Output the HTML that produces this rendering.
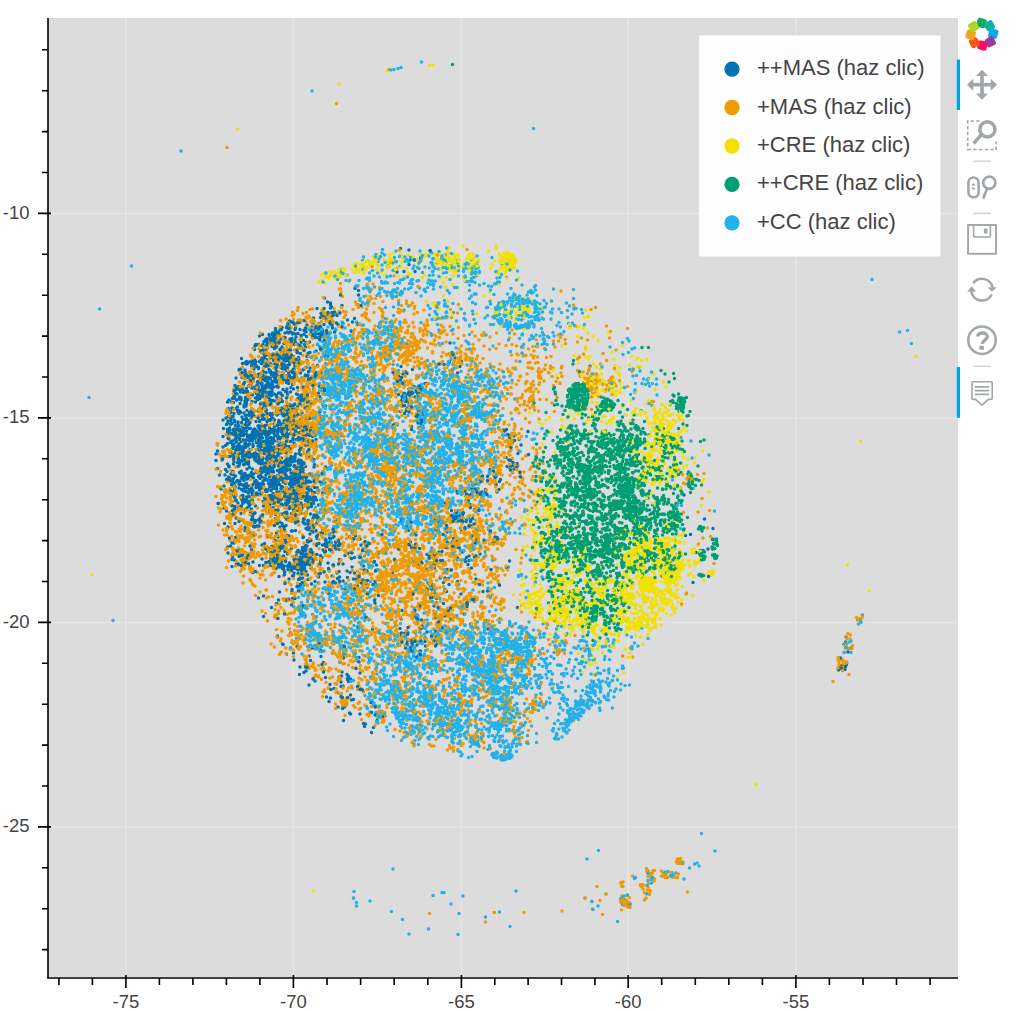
<!DOCTYPE html><html><head><meta charset="utf-8"><style>html,body{margin:0;padding:0;background:#fff;width:1024px;height:1012px;overflow:hidden}svg{display:block;font-family:"Liberation Sans",sans-serif}</style></head><body><svg width="1024" height="1012" viewBox="0 0 1024 1012"><rect x="48" y="18" width="910" height="959" fill="#dcdcdc"/><path d="M125.9 18V977M293.4 18V977M461.4 18V977M628.2 18V977M795.9 18V977M48 213.4H958M48 417.9H958M48 622.4H958M48 826.9H958" stroke="#e5e5e5" stroke-width="1.5" fill="none"/><g fill="none" stroke-width="7.0" stroke-linecap="round" transform="scale(0.5)"><path d="M801 497h0m19 23h0m-12 23h0m-147 63h0m0 4h0m23 1h0m-20 22h0m-15-2h0m-3 4h0m-19 1h0m-63 19h0m15-3h0m0-10h0m15 4h0m6-3h0m14 7h0m21 4h0m13-5h0m11-6h0m4 5h0m2 8h0m30-16h0m-49 26h0m-3-1h0m-1 2h0m-6 0h0m-10-2h0m-1 4h0m-3-2h0m-1-7h0m-9 4h0m-35 1h0m0 1h0m-2-2h0m-5 2h0m-17 2h0m-1 1h0m-7-3h0m-20 3h0m6 11h0m8-5h0m6 12h0m0-2h0m2-9h0m2 1h0m1 3h0m8 3h0m10 4h0m24-13h0m42 1h0m12-2h0m3 21h0m-14-5h0m-3 13h0m-21-8h0m-7 3h0m0-1h0m-53-6h0m-27 13h0m-2-1h0m-12-10h0m-1 7h0m-26 18h0m41-1h0m17 0h0m6-8h0m2 5h0m5-4h0m0 11h0m1-4h0m1 1h0m10-8h0m6 11h0m0-11h0m2 1h0m82 2h0m248-7h0m6 11h0m13 7h0m-309-2h0m-16 8h0m-4 2h0m-15-2h0m-13-3h0m-25 4h0m-7 0h0m-5 3h0m-8-9h0m-8 9h0m-7 2h0m-11-8h0m-10 0h0m-3 11h0m12 10h0m21 2h0m11-7h0m0 7h0m6-5h0m8 0h0m8 1h0m16-9h0m0 14h0m1-14h0m2 0h0m2 1h0m6-2h0m12 2h0m1 6h0m1-4h0m12 6h0m7-8h0m3 12h0m9-8h0m32 1h0m0 3h0m234-1h0m-77 18h0m-6-8h0m-6-3h0m-173 4h0m-17 4h0m-21-3h0m-9-3h0m-5-2h0m-1 4h0m-4 2h0m-3-5h0m-9 13h0m-5-11h0m-2-1h0m-4 9h0m-3-6h0m-4 0h0m-1 8h0m-9-9h0m-7 7h0m-2 0h0m-2 0h0m-27 2h0m-5-10h0m-14 16h0m8 8h0m5 0h0m4-11h0m12 3h0m11 6h0m13-9h0m1 10h0m1-4h0m5 1h0m0-3h0m2 4h0m2-6h0m10 13h0m37 1h0m1-9h0m13 0h0m15 3h0m2-1h0m227-2h0m2 1h0m-6 11h0m-9-1h0m-10 2h0m-7-1h0m-5 6h0m-167-7h0m-26 7h0m-1-4h0m-8 2h0m-7-2h0m0 9h0m-2-10h0m-38 8h0m-12-6h0m-2-1h0m-1-2h0m-4 0h0m-3-1h0m-12 0h0m-6 13h0m0-6h0m-15-4h0m-19-5h0m-3 14h0m-16 6h0m2 12h0m11-2h0m15-13h0m2 3h0m0-3h0m12 2h0m7 1h0m29-4h0m6 1h0m4 1h0m5 3h0m4-1h0m4 12h0m10-1h0m42-2h0m36-1h0m153-8h0m14 2h0m16-5h0m3 22h0m0 7h0m-233-4h0m-14-4h0m-11 0h0m-4 4h0m-3-6h0m-3-3h0m-8 4h0m-15 6h0m-6 2h0m0-2h0m-9-5h0m-27-3h0m-1 4h0m-4 2h0m-3 5h0m-5 1h0m-10-6h0m-6-4h0m-3-4h0m-10 8h0m-7 21h0m4-12h0m3 3h0m2 10h0m2-14h0m4 11h0m16-5h0m33 4h0m15 0h0m12-6h0m2 11h0m1-8h0m18 8h0m3-8h0m3 6h0m10-3h0m4-6h0m1 7h0m12-3h0m25-5h0m217 12h0m171 11h0m-175-4h0m-15 4h0m-196-3h0m-20 5h0m-13-10h0m-18-2h0m-8 7h0m-4 4h0m-1-4h0m-6 1h0m-1 2h0m0 5h0m-1-1h0m-17 0h0m-5 1h0m-1-1h0m-2-4h0m-6 0h0m-3 4h0m-14-3h0m-15-4h0m-7-6h0m-1 3h0m-11 9h0m-2 0h0m-1-3h0m-9-10h0m-2 7h0m0 5h0m-3 3h0m0 12h0m5-9h0m15 11h0m7-7h0m4-7h0m10 11h0m2-4h0m3 2h0m3 5h0m2-8h0m4 6h0m1-4h0m4 7h0m2-12h0m2 11h0m0-6h0m2-3h0m1-5h0m10 11h0m1 1h0m1-9h0m4 0h0m1-2h0m6 12h0m0 2h0m10-2h0m7-2h0m2-1h0m2-3h0m6-5h0m14 2h0m6 11h0m7 1h0m16-15h0m16 14h0m396-7h0m-3 13h0m-2 0h0m-391 7h0m-21-12h0m-22 9h0m-1-3h0m-7-3h0m-22 2h0m-3-2h0m-11 4h0m-7-2h0m-1 3h0m-2-2h0m-13 0h0m-2-4h0m-4 10h0m-3-10h0m0 3h0m-16-4h0m-6 5h0m-1 0h0m-16 9h0m-1-11h0m-27 10h0m22 14h0m3-2h0m0-6h0m8-2h0m5 10h0m3-5h0m1 8h0m4-5h0m5 2h0m0-5h0m11 4h0m3 0h0m4 2h0m1-10h0m4 3h0m1 1h0m8-3h0m5 11h0m0-10h0m1 5h0m1 4h0m0-11h0m3 6h0m8-3h0m2 2h0m3-5h0m5 12h0m17-9h0m17 6h0m7-1h0m4-11h0m16 3h0m394 16h0m-384 4h0m-9-5h0m-14 11h0m-4 2h0m-3-1h0m-2-4h0m-6-6h0m-7 6h0m-1-9h0m-2 5h0m-1 2h0m-4 1h0m-4 6h0m-8-11h0m-3 9h0m-10-1h0m-4-7h0m-2 2h0m-2-3h0m-4-4h0m-2 13h0m-2-9h0m-14 8h0m-4-6h0m-10-5h0m-6-1h0m-8 10h0m-1 5h0m-6-5h0m0-8h0m-8 6h0m-1-5h0m-1 10h0m-31-12h0m0 7h0m-9 17h0m16 2h0m75-9h0m1 2h0m11 8h0m10-6h0m17 7h0m2-8h0m2 2h0m2 7h0m2-12h0m19 11h0m3-7h0m2 8h0m8 0h0m1-1h0m22-7h0m364 0h0m22-1h0m14 5h0m4-1h0m-7 8h0m-28 1h0m-7 3h0m-2 2h0m-354 1h0m-33-8h0m-2 1h0m-4 3h0m0 5h0m-2-7h0m-2 14h0m0-4h0m-7 0h0m-3 0h0m-10-8h0m-1 0h0m-18 6h0m-1 6h0m-12-6h0m-4 6h0m-13-14h0m-2-1h0m-3 8h0m-3-8h0m-16 6h0m-4 7h0m-4-11h0m0 8h0m-37 4h0m-5 13h0m11-10h0m9 7h0m3 5h0m4-13h0m5 1h0m9 13h0m4-8h0m13 2h0m6-8h0m1 9h0m4 5h0m2-6h0m1 4h0m6-10h0m14 7h0m0 3h0m0-12h0m5 0h0m2 7h0m1 3h0m4 4h0m1-5h0m3-1h0m7 4h0m16-5h0m2 3h0m2-6h0m0 2h0m5 1h0m1 1h0m14-5h0m9-1h0m4 1h0m1 10h0m4-10h0m350 21h0m0-6h0m-20 1h0m-1-2h0m-7 10h0m-296-10h0m-47 13h0m-13 1h0m-11-14h0m-10 2h0m-8 4h0m-5-6h0m-15 0h0m-4 5h0m-11-6h0m-4 12h0m-18-5h0m-17 7h0m-15-13h0m-2 5h0m-30 24h0m39-1h0m10 0h0m0 0h0m0 0h0m7-6h0m0 2h0m3 4h0m2-1h0m0-12h0m1 10h0m5-4h0m2-7h0m29 6h0m2 2h0m3-5h0m12-3h0m8 6h0m1 2h0m8-6h0m0-1h0m11 6h0m12 5h0m3-5h0m7-2h0m6-2h0m3 6h0m2-8h0m9 5h0m11 2h0m256 6h0m60 13h0m-9-10h0m-28 14h0m-9-2h0m-259 3h0m-7-14h0m-17 2h0m-10-2h0m-7 2h0m-5 5h0m-11 2h0m-2-7h0m-1 0h0m-4 1h0m-6-4h0m-28 6h0m-7-2h0m0 7h0m-12-8h0m-59 8h0m-20-4h0m34 11h0m27-1h0m30-2h0m32 11h0m3-3h0m28-6h0m6 12h0m13-10h0m19-3h0m231 13h0m37 1h0m8-5h0m9-3h0m7 12h0m-7 0h0m-4 13h0m-32-11h0m-69 9h0m-187-7h0m-17 1h0m-6 0h0m-14-5h0m-5 1h0m-6-3h0m-21 6h0m-4 7h0m-1-10h0m-3 0h0m-39 8h0m-4 0h0m-2-11h0m-4-1h0m-29 3h0m-8 4h0m105 24h0m37-14h0m29 9h0m19 2h0m169 0h0m101-10h0m23 8h0m418 5h0m-381 3h0m-76 9h0m-194-5h0m-49 6h0m-12-8h0m-2 10h0m-23-9h0m-12 4h0m-7 2h0m-43 3h0m-3-8h0m-13-4h0m-85 1h0m-7 11h0m39 13h0m28-3h0m1 1h0m4 5h0m1-5h0m22 4h0m3-9h0m10 6h0m8 2h0m28 1h0m2-3h0m4-6h0m19-1h0m16 13h0m3-11h0m11 9h0m4-10h0m3 3h0m2-5h0m6 1h0m54 0h0m42 7h0m49-4h0m16 3h0m77-2h0m28-5h0m462 11h0m-446 7h0m-27 7h0m-18 1h0m-37-12h0m-19 8h0m-159-7h0m-35 0h0m-15-1h0m-25 1h0m-1 13h0m-4-14h0m-13 6h0m-3 7h0m-43 0h0m-4-5h0m-3 8h0m-12-3h0m0-7h0m-52-5h0m-13 3h0m-13 11h0m0 14h0m20-1h0m2-6h0m11 1h0m43-1h0m1-4h0m4-2h0m6 1h0m10 12h0m4-1h0m2 3h0m4-12h0m8 10h0m2-1h0m6-3h0m4 3h0m1 2h0m2-4h0m2-3h0m2 4h0m5-1h0m4-1h0m1 2h0m3-3h0m75 0h0m18 6h0m22-12h0m1 10h0m21-7h0m42-4h0m141 2h0m-36 16h0m-45-2h0m-141 9h0m-35 0h0m-52-10h0m-7 14h0m-12-13h0m0 0h0m-1 2h0m-6 1h0m0-3h0m-8 9h0m-2-9h0m-1 15h0m-17-12h0m29 19h0m8-3h0m32-2h0m27-2h0m7 14h0m8-12h0m7 8h0m21-4h0m19 2h0m6 7h0m31-13h0m93 12h0m41-9h0m55 1h0m-54 11h0m-63 7h0m-101-1h0m-150 4h0m-67 17h0m68 1h0m35-13h0m137 7h0m70-7h0m27 5h0m11 6h0m57-7h0m27 10h0m86 17h0m-104-6h0m-44-2h0m-334 0h0m45 13h0m12 11h0m194-10h0m24 5h0m64-4h0m10 16h0m-23 4h0m-43 1h0m-102-7h0m138 28h0m69-16h0m-65 32h0m-4-9h0m-57-2h0m-5 5h0m-30 5h0m-199-13h0m-26 8h0m256 22h0m4-14h0m19 8h0m17 2h0m837-3h0m-870 14h0m-183-6h0m-17 15h0m-31-6h0m55 7h0m38 11h0m38-9h0m975 14h0m-3 10h0m-1091 10h0m52 6h0m27-1h0m25 7h0m-17 11h0m-4-8h0m-52-2h0m71 28h0m21-12h0m-19 22h0m-19-4h0m-31-2h0m48 34h0m28 25h0m18 2h0m-4 10h0" stroke="#0072b2"/><path d="M673 207h0m126 293h0m-18 25h0m175-2h0m-197 52h0m-44-2h0m110 33h0m-40-9h0m-45-4h0m-4 7h0m-25 4h0m-115 11h0m49 5h0m71-11h0m17 9h0m30 3h0m34-3h0m77-7h0m43-2h0m274 6h0m-299 21h0m-57-11h0m-36 0h0m-69 1h0m-6 5h0m-33-1h0m-28 7h0m-3-9h0m-7-2h0m-3 4h0m-44-3h0m-8 13h0m-22 5h0m6 11h0m19-11h0m11-1h0m52-3h0m1 10h0m32-1h0m27 1h0m15-10h0m50 14h0m0-11h0m12 10h0m25-9h0m22 4h0m7 1h0m153-1h0m247 8h0m-131 12h0m-161 1h0m-13 2h0m-44-4h0m-12 1h0m-38-6h0m-2 0h0m-3-5h0m-5 13h0m-6-14h0m-25 9h0m-19 6h0m-20-6h0m-25-5h0m-18 4h0m-73-1h0m-39-5h0m-9-1h0m-73 20h0m21 2h0m6-6h0m4 2h0m10 8h0m4 1h0m6 1h0m13-11h0m39-2h0m16 9h0m1 5h0m12-5h0m4 4h0m15-10h0m4 6h0m1-3h0m20-4h0m35-2h0m8 2h0m34 9h0m5 3h0m1-11h0m23 10h0m4 0h0m3-9h0m5 4h0m2 5h0m16-2h0m107-4h0m40 8h0m21-12h0m54 4h0m48-5h0m98 1h0m-130 21h0m-23-4h0m-120 4h0m-3 6h0m-72-13h0m-16 6h0m-40-3h0m-8 2h0m-3-3h0m-3 7h0m0-1h0m-1-1h0m-3-9h0m-5 2h0m-12 4h0m-6 5h0m0-6h0m-7 4h0m-55 2h0m-102-10h0m-8 7h0m-2 0h0m-19-3h0m-4 11h0m-40-15h0m-20 1h0m-16 20h0m16 3h0m8 6h0m10-9h0m11 2h0m2 4h0m2-6h0m13-3h0m18 6h0m0-5h0m13 12h0m4-2h0m8-7h0m8-3h0m42-1h0m16 5h0m17-2h0m23-3h0m41 7h0m3-9h0m5 9h0m4 0h0m8-9h0m5 4h0m19 0h0m8 1h0m0 2h0m1-3h0m3-3h0m1 3h0m13-1h0m11 7h0m49-2h0m15-6h0m10 4h0m13-6h0m0 13h0m11 2h0m1-6h0m1 0h0m11 3h0m123-5h0m7 2h0m27-1h0m56 2h0m43 13h0m-130-2h0m-10 10h0m-35 0h0m-26-8h0m-60-7h0m-27 12h0m-3 2h0m-1-13h0m-49 6h0m-8 2h0m-3 5h0m-9-10h0m-1 5h0m-9-6h0m-54-4h0m-4 14h0m-22-1h0m-17 0h0m-10-10h0m-2 8h0m-7-7h0m-21 3h0m0-6h0m-6 10h0m-2 5h0m-12-3h0m-2 3h0m-3-13h0m-11 4h0m-31 3h0m-13-8h0m-11 6h0m-34-4h0m-18 1h0m-16-5h0m-37 26h0m4 6h0m8-2h0m84 0h0m26-7h0m22 1h0m5-7h0m17 5h0m0 9h0m14-7h0m1-4h0m4 0h0m0 6h0m1 6h0m63-6h0m20-1h0m3-5h0m16-2h0m26 5h0m41 6h0m4-10h0m34 4h0m10 5h0m1-7h0m1 11h0m1-10h0m2 3h0m64 4h0m29-10h0m21 4h0m82-6h0m1 0h0m53 4h0m3 5h0m17 1h0m2-7h0m10 8h0m6 0h0m46 13h0m-14-7h0m-26 6h0m-16 2h0m-7-5h0m-1 4h0m-15-8h0m-48 10h0m-32-10h0m-3 0h0m-23 10h0m-1 0h0m-2 4h0m-43-13h0m-10 1h0m-38 3h0m-4 2h0m-34 6h0m-60-8h0m-28-3h0m-24-2h0m-12 5h0m-2 5h0m-2 0h0m-25-11h0m-25 1h0m-1 7h0m-4-4h0m-25 6h0m-1-4h0m-19 0h0m-14 5h0m-35-7h0m-18 5h0m-4 6h0m-4-6h0m-9-8h0m-1 2h0m-4 3h0m-5 5h0m-6-7h0m-6 1h0m0 0h0m-8 5h0m-4-3h0m-16 0h0m-2 8h0m-29-15h0m-2 3h0m-20 0h0m-3-1h0m-1 12h0m-35 14h0m17-6h0m29 8h0m92-2h0m16-10h0m18 11h0m15-6h0m14 0h0m58-3h0m38 9h0m19 2h0m9-4h0m14-11h0m26 7h0m8 2h0m65-8h0m69 15h0m58-15h0m18 13h0m4-2h0m2-2h0m50-7h0m84 3h0m1 7h0m19 1h0m12-2h0m32-7h0m-58 20h0m-12-7h0m-13 13h0m-113-2h0m-15-2h0m-31 3h0m-19-12h0m-12 0h0m-10 7h0m-23 1h0m-18 0h0m-41-4h0m-19-3h0m-7 10h0m-2 3h0m-39-7h0m-31 1h0m-38-8h0m-11 11h0m-1 1h0m-10-1h0m-7-11h0m-30 2h0m-48 0h0m-15 2h0m-18-5h0m-4 3h0m-28 9h0m0 3h0m-46-14h0m-5 4h0m-34 2h0m-3-5h0m-27 1h0m25 21h0m44-2h0m10 9h0m5-2h0m18-1h0m39-4h0m0-6h0m13-1h0m5 6h0m10-7h0m3 1h0m2 1h0m12-3h0m50 12h0m15-5h0m1 9h0m17-14h0m22 2h0m7-2h0m4 8h0m28-6h0m9 3h0m9 8h0m7-6h0m10-6h0m27 4h0m21-5h0m12-2h0m40 7h0m17-5h0m3 11h0m49-11h0m48 1h0m13-1h0m42 4h0m5 17h0m-32-1h0m-8-2h0m-31 6h0m-3-8h0m-38 4h0m-2 3h0m-57 3h0m-4-10h0m0 10h0m-12-8h0m-47-2h0m-6 6h0m-3-5h0m-10 11h0m-18-4h0m-12-10h0m-5 3h0m-31 4h0m-2-5h0m-21 12h0m-56-7h0m-4-5h0m-7 2h0m-3 9h0m-58-6h0m-14 5h0m-3 0h0m-4-11h0m-4 7h0m-11-2h0m-10-3h0m-2 6h0m-2 7h0m-1-6h0m-3-9h0m-2 5h0m-12 9h0m-1-2h0m-46-1h0m-7 3h0m-65-4h0m58 6h0m13 1h0m56 11h0m12 2h0m3-13h0m7 9h0m3 1h0m2-9h0m5 4h0m1-6h0m4 4h0m6 0h0m1 11h0m1-16h0m2 15h0m0-3h0m4-10h0m6 11h0m0-1h0m3-8h0m8 10h0m13-3h0m2-4h0m33 0h0m29 6h0m1-6h0m17 0h0m85 3h0m3-10h0m32 5h0m17 8h0m27-8h0m9 11h0m6-7h0m6 3h0m1-7h0m68 10h0m22 3h0m-12 9h0m-9-2h0m-62-6h0m-69 0h0m-77 5h0m-5-6h0m-8 2h0m-85-2h0m-1 11h0m-37 1h0m-18-1h0m-8-5h0m-25 6h0m-9-4h0m-3 2h0m-27-9h0m-36 3h0m-4-5h0m-38 1h0m-18 20h0m49-2h0m69 3h0m14 4h0m9-2h0m9 6h0m10-9h0m9-5h0m4 1h0m6 8h0m16-8h0m0 8h0m14-3h0m8-1h0m75-3h0m1 0h0m15 4h0m12-6h0m8 6h0m58 1h0m17 5h0m6-8h0m6 6h0m16-2h0m1-6h0m24 0h0m9 10h0m34 1h0m57-11h0m0 12h0m5-13h0m5 28h0m-15-8h0m-1 5h0m-12-1h0m-15-6h0m-47 8h0m-19-3h0m-21 3h0m-36-9h0m-4 13h0m-10-3h0m0 2h0m-3-1h0m-29 0h0m-7-1h0m-3-12h0m-15 13h0m-5 1h0m-3-1h0m-1-5h0m-33 5h0m0-5h0m-9 5h0m-114-3h0m-5-3h0m-11 3h0m-3 1h0m-12 0h0m-9-3h0m-14 4h0m-8-1h0m-32-1h0m-83-2h0m-16 19h0m26-3h0m13 3h0m15-3h0m36 1h0m25-7h0m4 11h0m23-6h0m4-6h0m44 0h0m16 13h0m29-12h0m0 0h0m2-1h0m38 10h0m5-4h0m22-6h0m7 13h0m2-12h0m4 7h0m8 3h0m0-1h0m52 2h0m6-5h0m3 2h0m15-10h0m0 10h0m0 0h0m46 3h0m109 2h0m15-7h0m12-2h0m35 8h0m26-15h0m-9 26h0m-63 2h0m-21 2h0m-6 0h0m-14-6h0m-12-4h0m-7 4h0m-22 3h0m-2 5h0m-9-7h0m-8 4h0m-3-2h0m-25-2h0m-5 0h0m-4-3h0m-19 4h0m-16 2h0m-43-9h0m-1 9h0m-1-9h0m-5 2h0m-12-2h0m-5-3h0m-1 2h0m-5 3h0m-19-1h0m-26 8h0m-36 1h0m-21-8h0m-1 7h0m-22-12h0m-14 9h0m-9-4h0m-6 7h0m-36-10h0m-5 10h0m-16-1h0m-9-10h0m-94 0h0m-2 4h0m-2 1h0m18 23h0m58-1h0m9-2h0m47-8h0m27 6h0m68-7h0m1 7h0m15 5h0m19-11h0m15 1h0m13 7h0m3-6h0m11 4h0m16-7h0m11 12h0m3-2h0m2-4h0m9 4h0m5 5h0m3-6h0m5-6h0m23 0h0m14-3h0m25 5h0m8 3h0m12-3h0m82-4h0m26 0h0m6 5h0m35 2h0m1 3h0m2-9h0m347 25h0m-319 4h0m-16-16h0m-60 6h0m-8-3h0m-2 13h0m-20-9h0m-1-5h0m-7 4h0m-4 3h0m-9-1h0m-31 1h0m-9-2h0m-2 9h0m-1-5h0m-20-9h0m-1 1h0m-1-2h0m-20 4h0m-14-2h0m-5 6h0m-27-3h0m0 0h0m-15 3h0m-2-4h0m-1 6h0m-3-2h0m-2-6h0m-3 4h0m-4-7h0m-3 0h0m-26 12h0m-2-3h0m-2-5h0m-6 3h0m-80 8h0m-21-2h0m-3-5h0m-9-5h0m-9 5h0m0 0h0m-22-6h0m-6 11h0m-46-6h0m-106 22h0m24-9h0m6 8h0m49-8h0m73 10h0m4-6h0m6 0h0m29 4h0m9 3h0m12-9h0m2-1h0m2 0h0m10-2h0m4 0h0m6 0h0m29 8h0m4 4h0m1-12h0m37 8h0m1-2h0m33-4h0m4 5h0m17-2h0m1-7h0m14 15h0m14-3h0m16 2h0m33-9h0m24 2h0m30-6h0m24 3h0m22-1h0m5 4h0m13-1h0m11 8h0m2-6h0m30 5h0m9-7h0m322-1h0m3 2h0m-311 13h0m-12 7h0m-18-8h0m-3 8h0m-33-6h0m-40 9h0m-5-8h0m-2 3h0m-4-7h0m-26 7h0m-66-3h0m-10 3h0m-25 5h0m-26-10h0m-5 8h0m-31-5h0m-107-6h0m-21 11h0m-18-7h0m-9-2h0m-1 11h0m-13-10h0m-11 8h0m-1-12h0m-4 10h0m-12 2h0m-3 2h0m-16 0h0m-15-2h0m-5 1h0m-3-2h0m-10-9h0m-34 7h0m-3 5h0m-9-6h0m-3-3h0m-1 2h0m-5-3h0m-17 12h0m12 10h0m7 2h0m19-3h0m63 4h0m21-6h0m1-6h0m4 10h0m8-8h0m3 3h0m6-2h0m4-3h0m6 10h0m37-3h0m23 7h0m39-9h0m2 8h0m2-11h0m13 6h0m20 0h0m13-3h0m9-3h0m33-3h0m17 0h0m3 11h0m20 1h0m4-8h0m0 2h0m2 9h0m1-2h0m7 1h0m45-6h0m27 4h0m60-13h0m18 16h0m23-8h0m14 7h0m378 17h0m-325-14h0m-91 0h0m-28 9h0m-2-7h0m-11 2h0m-14 5h0m-3-11h0m-23 6h0m-5 1h0m-17-6h0m-11 7h0m-8-1h0m-8-4h0m0 13h0m-8-6h0m-33 6h0m-14-1h0m-23-12h0m-1-3h0m-13 9h0m-8 4h0m-54-12h0m-34 10h0m-2-1h0m-7-9h0m-3 10h0m-1-3h0m-35-5h0m-9 0h0m-48 2h0m-15 7h0m-3-5h0m-8 2h0m-6 4h0m-25 0h0m-11 1h0m-6-2h0m-1-4h0m-6 3h0m-2 3h0m-32-4h0m-2 6h0m14 9h0m5-8h0m2 14h0m2-8h0m71-4h0m7 6h0m10-9h0m5 0h0m7 5h0m5 4h0m6 0h0m3 6h0m3 0h0m1-4h0m12-6h0m15-2h0m3 5h0m28 6h0m8-14h0m3 3h0m6 11h0m12-3h0m3-3h0m11-4h0m4 2h0m5-4h0m0 1h0m4 6h0m16 0h0m2 1h0m5-6h0m5 10h0m38-4h0m4 4h0m14-7h0m40-5h0m26 6h0m16-3h0m4 8h0m23-3h0m7 4h0m2-11h0m30 9h0m20-5h0m9-2h0m28 9h0m13 0h0m5-8h0m47 18h0m-34-2h0m-49 8h0m-10-2h0m-5-5h0m-38-3h0m-12 2h0m-6 8h0m-5-8h0m-15 9h0m-1-3h0m-22-4h0m-10-2h0m-58 9h0m-25 0h0m-5-3h0m-13-3h0m-45-2h0m-28-5h0m-43 14h0m-1-13h0m-69 4h0m-2-6h0m-9 9h0m-8-5h0m-33 0h0m-7 0h0m-4 0h0m-32-5h0m-5 30h0m25-10h0m31 9h0m25-8h0m7 6h0m26 4h0m36-1h0m20-12h0m8 6h0m21-3h0m19 3h0m31 4h0m2 1h0m33-10h0m4 6h0m40 4h0m29-6h0m4-5h0m8 0h0m38 11h0m6-13h0m6 9h0m0-2h0m5 9h0m0-4h0m23-11h0m7 4h0m20 2h0m14 8h0m2 0h0m6-9h0m4-1h0m11 0h0m13 8h0m3-3h0m17-10h0m407 20h0m-402 3h0m-3 9h0m-10-3h0m-25 1h0m-9-10h0m-8 10h0m-5-13h0m-10 9h0m-5-4h0m-8 5h0m-7-7h0m-15 10h0m-8-5h0m-11 3h0m-24-5h0m-14-1h0m-10 9h0m-20-2h0m-10 0h0m-2-6h0m-8 8h0m0-12h0m-28-2h0m-23 14h0m-11 1h0m-37-11h0m-8 10h0m-25-2h0m-7 1h0m-68-9h0m-6 6h0m0-6h0m-17 4h0m-2 1h0m-9-8h0m-10 1h0m-20-2h0m-12 7h0m-8-6h0m-10 2h0m-1 2h0m-3-2h0m-6-1h0m-3 8h0m-10-4h0m-8 2h0m17 15h0m8 7h0m4-11h0m19 11h0m0-10h0m17 7h0m15 2h0m8-11h0m1 1h0m2 5h0m3 6h0m11-14h0m2 6h0m2 7h0m13-11h0m42 12h0m4-15h0m46 10h0m23-4h0m0-4h0m5 2h0m30 4h0m6 5h0m4 2h0m16 1h0m7-4h0m4 1h0m18-12h0m9 6h0m0-6h0m1 0h0m3 11h0m9-7h0m4-5h0m32 9h0m17 4h0m19-9h0m5 4h0m0-7h0m5 4h0m5 4h0m7-4h0m8 3h0m28 1h0m1-3h0m11 3h0m10-4h0m1 4h0m42-6h0m395 14h0m-409 14h0m-18-7h0m-1-3h0m-59 2h0m-4-1h0m-4 3h0m-5-1h0m-7-3h0m-9 1h0m-7-2h0m-5-1h0m-4 10h0m-1-5h0m-1-2h0m-23-1h0m-1 8h0m-23-12h0m-1 5h0m-2 3h0m-13-5h0m-55 7h0m-13 4h0m-10-1h0m-73-7h0m-22-3h0m-8 9h0m-3-1h0m-8-3h0m-17-8h0m-7 8h0m-22 6h0m-7-14h0m-25 4h0m0-1h0m0 8h0m-10-6h0m-4 2h0m-7 3h0m-1 0h0m-3-6h0m-7 3h0m-8-6h0m-2 12h0m-17-10h0m4 22h0m9 2h0m1-4h0m6-6h0m98 3h0m6-3h0m25 11h0m15-5h0m81-3h0m1 0h0m5 1h0m40 1h0m5 1h0m22-2h0m2 4h0m3 3h0m8-13h0m2 13h0m1 2h0m4-14h0m7 1h0m9 9h0m1 0h0m2-4h0m1 2h0m2-7h0m1 12h0m4-2h0m22 3h0m1 0h0m4-10h0m9 3h0m8-4h0m31 4h0m34-7h0m2 7h0m5 2h0m14-3h0m74 22h0m-40-12h0m-5 14h0m-57-6h0m-3-8h0m-4 7h0m-6 2h0m-1-3h0m-12 6h0m-5 2h0m-15-7h0m-22-2h0m-5 6h0m-3 0h0m-1-9h0m-3 10h0m-13-7h0m-4-1h0m-1-2h0m-8 10h0m-13 1h0m0 0h0m-20-14h0m-6 2h0m-2 13h0m-12 1h0m-7-3h0m-1-10h0m-1 5h0m0-1h0m-5 8h0m-6-10h0m-3 1h0m-26 3h0m0-5h0m-13 6h0m-4 5h0m-10-10h0m-56 2h0m-7-4h0m-1-3h0m-1 4h0m-10 6h0m-21-1h0m-39-1h0m-18-6h0m-8 11h0m-29-4h0m-28 7h0m13 7h0m20-3h0m58 9h0m26 0h0m15-7h0m98 7h0m0-3h0m4-3h0m38-6h0m4 6h0m7-1h0m3 3h0m10-4h0m29 10h0m0-1h0m5-7h0m3 5h0m1 0h0m1-11h0m4 14h0m4-8h0m1-6h0m4 1h0m23 13h0m4-15h0m42 11h0m9-11h0m1 1h0m40 14h0m33-10h0m4 1h0m6 8h0m2 5h0m-78 7h0m-6-7h0m-58 8h0m-6-6h0m-8-5h0m-9 2h0m-12 13h0m-10-7h0m-14 5h0m-13-5h0m-8 2h0m0-4h0m-20 0h0m-1 10h0m-5-3h0m-16-9h0m-9-1h0m0 4h0m-7 7h0m-4 0h0m-7 1h0m-32-10h0m-11-5h0m-1 5h0m-35 3h0m-96 4h0m4 14h0m43 6h0m3-14h0m8 0h0m24 12h0m1-9h0m9 1h0m6 3h0m83-8h0m5 1h0m14 1h0m31 6h0m18 4h0m10-7h0m17 8h0m6-8h0m6 1h0m0-5h0m3 5h0m0 8h0m2-10h0m23 9h0m1 2h0m1-3h0m9-5h0m4-8h0m35 12h0m34-3h0m9 1h0m7 0h0m5 4h0m0-3h0m31-6h0m7 6h0m15 5h0m1 0h0m34-11h0m-35 14h0m-43 0h0m-1 1h0m-36 4h0m-5 6h0m-10-10h0m0-1h0m-1 7h0m-3 2h0m-14-11h0m-15 13h0m-17-11h0m-3 0h0m-12 1h0m-6 2h0m0 9h0m-4-8h0m-7 9h0m-18-11h0m-1 2h0m-27-7h0m-2 8h0m-10 3h0m-5-7h0m-29 7h0m-26 4h0m-7-11h0m-22 8h0m-36-12h0m-3 14h0m-16-6h0m-31 6h0m-12-12h0m-61 20h0m26-3h0m4 10h0m15-3h0m19 0h0m53-9h0m5 5h0m46-4h0m18 11h0m47-10h0m10 0h0m5 12h0m4-5h0m9 1h0m9-2h0m1-1h0m16-2h0m38-5h0m2 8h0m7 0h0m14 2h0m9-7h0m7 4h0m1 0h0m2-3h0m6 7h0m7 0h0m42-2h0m10 5h0m87-7h0m681 6h0m-2 8h0m-737-6h0m-19 1h0m-41 6h0m-1 5h0m-9-8h0m-3-3h0m-14 10h0m-18 4h0m-2-12h0m-6 2h0m-5 0h0m-37-5h0m-39 12h0m-7-5h0m-8 7h0m-36-7h0m-7-1h0m-18-2h0m-91 11h0m-47-10h0m-24-1h0m25 12h0m19 14h0m9-6h0m8 5h0m8 0h0m1-9h0m39 6h0m7-4h0m10 7h0m6-8h0m6 6h0m25 3h0m36-5h0m24 6h0m4-4h0m5-4h0m6 7h0m23 0h0m5-9h0m13-5h0m6 8h0m15-4h0m13 6h0m32-1h0m13 1h0m0 3h0m34-1h0m11-2h0m24 0h0m1-9h0m8 2h0m26 6h0m65 6h0m616 4h0m-4 6h0m-560-2h0m-64 7h0m-15-3h0m-41-2h0m-10-6h0m-40 7h0m-8-5h0m-9 7h0m-17-7h0m-20-5h0m-26 6h0m-2 7h0m-31 0h0m-8-2h0m-8-3h0m-3 6h0m-2-1h0m-46-11h0m-7 5h0m-9-3h0m-11-3h0m-4 0h0m-1 7h0m-12 0h0m-27 0h0m-28-7h0m-17 12h0m0-9h0m-7 11h0m-20-6h0m-11-1h0m-19 2h0m-6-4h0m-20-1h0m-1-2h0m-20 11h0m-13 16h0m12-12h0m23-1h0m40 12h0m24-8h0m6-5h0m106 9h0m8-7h0m0 2h0m11 5h0m61-8h0m20 6h0m23 3h0m51-4h0m769 8h0m-535 2h0m-57 1h0m-29 11h0m-3-7h0m-15 9h0m-209-11h0m-1 1h0m-48 5h0m-2 1h0m-33 1h0m-18-8h0m-16 9h0m-11 2h0m-7-9h0m-15 1h0m-23-5h0m-8 13h0m-8-3h0m-85-9h0m7 15h0m25 14h0m15-1h0m74-4h0m4 1h0m4-10h0m7 10h0m21 3h0m39-3h0m8-2h0m16 6h0m44-13h0m10-1h0m10 10h0m31-7h0m5 0h0m79 9h0m9-10h0m8 8h0m2-10h0m5 4h0m16 5h0m1-10h0m5 10h0m0 3h0m10 1h0m2-9h0m3 0h0m2-3h0m21 13h0m0-9h0m2 2h0m200-6h0m414 2h0m5 5h0m-1 9h0m-4 5h0m-1-6h0m-619 13h0m-35-3h0m-28-9h0m-7 2h0m-24 10h0m-12-10h0m-8 5h0m-5-7h0m-36 11h0m-22-5h0m-55 1h0m-11 4h0m-16 0h0m-68-3h0m-11-7h0m-59 7h0m-16-3h0m-16 2h0m0 3h0m-12-3h0m13 15h0m12 6h0m17-2h0m18 4h0m63-4h0m3 2h0m6 0h0m2 0h0m71-2h0m6-8h0m4-1h0m7 8h0m55-10h0m21 11h0m55-9h0m16 7h0m2-2h0m5-1h0m22 3h0m9-6h0m34 0h0m-72 14h0m-36 13h0m-37-14h0m-49 13h0m-66-4h0m-2-6h0m-47 0h0m-26-4h0m-41 13h0m-31-8h0m5 11h0m26 11h0m32-8h0m12 5h0m34 5h0m31-7h0m8 6h0m3 1h0m2-4h0m47 6h0m7-14h0m6 9h0m24-1h0m2-5h0m27 7h0m2 2h0m50-6h0m12-2h0m6-3h0m2 6h0m16 3h0m2-8h0m75 10h0m-62 17h0m-3-4h0m-8 6h0m-37-16h0m-36 11h0m-14-10h0m0 15h0m-74-12h0m-17 11h0m-46-13h0m-88 2h0m-4 1h0m-6 5h0m-2-4h0m-15 10h0m-26-15h0m40 18h0m69 3h0m47 8h0m10-6h0m16-2h0m70 2h0m37-7h0m2 11h0m68-9h0m15 2h0m6 4h0m41 3h0m5-1h0m103-9h0m4 4h0m-113 11h0m-5-1h0m-20 4h0m-28 9h0m-18-6h0m-97 8h0m-5-11h0m-51 0h0m-1 9h0m-3 1h0m-4 2h0m-23-9h0m-50-2h0m-4-1h0m-1 7h0m9 9h0m90-2h0m42 5h0m6 0h0m49-4h0m2 6h0m56-3h0m19 7h0m3-9h0m7 17h0m-5 1h0m-97-6h0m-18 16h0m-64-14h0m-40 12h0m-24-11h0m16 17h0m18 9h0m85-8h0m22-3h0m1 1h0m21 9h0m6-6h0m85-3h0m-76 21h0m-9-3h0m-52 1h0m-48-5h0m150 17h0m357 218h0m-7-4h0m-3 7h0m-61 15h0m55 12h0m-4-3h0m-1 4h0m-4-3h0m-11-5h0m-25-1h0m-7 1h0m-33 5h0m-19 12h0m35 7h0m2 2h0m9 14h0m-39 4h0m-546 5h0m477 7h0m58-4h0m2-5h0m9 10h0m39-8h0m-43 15h0m-3-1h0m-257 15h0m216 4h0" stroke="#ee9a00"/><path d="M774 142h0m125 353h0m127 17h0m-8 0h0m-25-15h0m-16 5h0m-30 7h0m-38 2h0m-1-2h0m0 0h0m-57 0h0m-11 0h0m-100 18h0m0-2h0m7-11h0m8 7h0m12-3h0m25 7h0m14-8h0m21-3h0m46 1h0m2 10h0m12 1h0m0-12h0m1 9h0m3 2h0m7-5h0m6 1h0m5-1h0m10 6h0m19-14h0m3 10h0m4-4h0m6 7h0m48-2h0m3-9h0m0 2h0m3 3h0m3-5h0m5 2h0m3 7h0m3-10h0m4 0h0m2 10h0m1-8h0m1-1h0m3 12h0m2-5h0m-3 14h0m-6 1h0m-9-7h0m-4 12h0m-14 1h0m-41-7h0m-10-6h0m-4 14h0m-9-8h0m-14-1h0m-31 2h0m-51-5h0m-51-3h0m-9 2h0m-2 6h0m-29-6h0m-10 5h0m-17 4h0m-51 4h0m-24 6h0m6-3h0m2 5h0m9-7h0m2 6h0m10-4h0m0 12h0m2-4h0m4 1h0m1-7h0m6-4h0m112 8h0m20-4h0m94-3h0m31 3h0m95 9h0m-146 17h0m20 2h0m138 24h0m-67 0h0m-95-8h0m-18 19h0m133 4h0m13 7h0m31-2h0m11 0h0m1-6h0m28 5h0m90 15h0m-100 5h0m-30-2h0m-7-5h0m-5-2h0m-138-3h0m140 25h0m114-1h0m16 1h0m10 14h0m-140-10h0m209 35h0m-22 13h0m-46 14h0m86-6h0m30 6h0m539-5h0m-639 21h0m-29 18h0m75-2h0m-30 13h0m-3-2h0m-8-5h0m-11 5h0m-4 13h0m12 7h0m12-1h0m4 1h0m14 0h0m11 0h0m74-2h0m-79 11h0m-33-2h0m-36 26h0m100-13h0m40 8h0m57-7h0m-27 23h0m-12-6h0m-29 8h0m-1-3h0m-21-2h0m-17 8h0m-88-3h0m-20-9h0m-6 13h0m-46 9h0m42-3h0m44 0h0m25 6h0m2-10h0m93 13h0m5 1h0m13-10h0m3 8h0m9-10h0m23 9h0m7-10h0m1 5h0m8 17h0m-3 6h0m-19-13h0m-8 12h0m-2-5h0m-10 6h0m-2-14h0m-1 2h0m-5 13h0m-6-5h0m-166 8h0m59 3h0m107-5h0m1 5h0m10 6h0m4-2h0m12 5h0m2-2h0m3-5h0m1-3h0m12-2h0m0 16h0m-4 5h0m-1-6h0m-34 4h0m-9 1h0m0 4h0m-2 1h0m-14 3h0m-27-2h0m39 9h0m3 1h0m15 8h0m27-6h0m15 2h0m-37 9h0m-25 9h0m-5-8h0m0 2h0m-8 0h0m-13 5h0m-5-7h0m17 19h0m19-5h0m1 3h0m5 7h0m1-5h0m0 8h0m6-1h0m20 0h0m3-7h0m4 9h0m2-15h0m5 7h0m13-1h0m-24 11h0m-4 7h0m-52 5h0m-2-13h0m-197 8h0m19 23h0m167-4h0m45-10h0m2-1h0m58 0h0m-95 24h0m-175-1h0m-17-4h0m-11-1h0m0 20h0m9-5h0m9 13h0m23 10h0m-23 5h0m-12-5h0m-14 1h0m-30 16h0m32-8h0m24 6h0m20 3h0m14-2h0m222 10h0m-240 10h0m-1-8h0m-8 10h0m-28-14h0m-20-1h0m9 24h0m17 8h0m20-8h0m130 7h0m14-14h0m15 12h0m6-4h0m14-1h0m2-1h0m2 3h0m66-8h0m15 8h0m1 20h0m-20-7h0m-1 0h0m-9-1h0m0-1h0m-7 0h0m-5 10h0m-5 0h0m-6-3h0m-8-11h0m-6 11h0m-13-6h0m-8 0h0m-4 9h0m-3-7h0m-155 5h0m-35-5h0m-3 2h0m-5 2h0m-9 10h0m47 8h0m9-9h0m33 7h0m92-9h0m1-1h0m15 11h0m1 2h0m2-2h0m5 1h0m24-10h0m1 7h0m12-3h0m0 0h0m6 5h0m13-12h0m5 8h0m2-1h0m11 2h0m59 16h0m-40 6h0m-1-13h0m0 3h0m-18 8h0m-10-6h0m-7-7h0m-4 14h0m-1-10h0m-1-5h0m-1 0h0m-3 6h0m-12 2h0m-12 0h0m-9 4h0m-22-7h0m0 7h0m-8-11h0m-151 9h0m-4-7h0m-23 21h0m3 3h0m9-8h0m9 5h0m9-3h0m4 1h0m1-2h0m33 11h0m9 0h0m16-6h0m64 1h0m20-8h0m5-1h0m4 12h0m26 1h0m5-11h0m14-2h0m2 4h0m16 1h0m4 8h0m5-11h0m5 3h0m8 6h0m5-8h0m4 6h0m5 5h0m16-4h0m10-5h0m37 16h0m-10 7h0m-60 2h0m-4-3h0m-8-2h0m-2-4h0m-15 8h0m-39-2h0m-7-9h0m-3 13h0m-11-15h0m-3 3h0m-86 7h0m0-9h0m-1-2h0m-20 0h0m-1 14h0m-2-5h0m-26-4h0m-56-3h0m-5 14h0m-27-12h0m6 18h0m25 1h0m38-2h0m7 8h0m3 0h0m3 3h0m1-10h0m3 7h0m1-8h0m6 8h0m78-1h0m24 3h0m8-14h0m13 4h0m17-1h0m11 11h0m4-7h0m0-6h0m2 11h0m0-4h0m4 5h0m6-10h0m1 11h0m5-4h0m25-5h0m5 6h0m5-2h0m0-1h0m4-3h0m0-5h0m2 12h0m1-6h0m9-1h0m31-5h0m-23 20h0m-10-4h0m-46 12h0m-2-4h0m-2-7h0m-2-2h0m-2 4h0m-7-1h0m-2 10h0m-3-9h0m-2 2h0m-2 3h0m-21 1h0m-2-4h0m-1-3h0m-7 12h0m-10-7h0m-36-5h0m-3 7h0m-1-9h0m-3-1h0m-4 8h0m-5 1h0m-7 0h0m-2 0h0m-32 6h0m-8-1h0m-20-1h0m-2-7h0m-24 8h0m-17 1h0m-4 0h0m-49 7h0m44 2h0m5-7h0m5 12h0m22-3h0m6-10h0m14 11h0m2 1h0m3 3h0m10-15h0m7 12h0m2-1h0m5-2h0m49-4h0m9-3h0m23 12h0m0-13h0m24 4h0m7 4h0m10-8h0m5 6h0m7 2h0m1 6h0m6-5h0m4 1h0m23-1h0m4-6h0m1 8h0m26-7h0m12 22h0m-7-7h0m-11 4h0m-9-1h0m-2-1h0m-6-1h0m-8 11h0m-8-9h0m-32 5h0m-12-2h0m-5-3h0m-13-1h0m-6-5h0m-19 15h0m-1-13h0m-8-2h0m-19 4h0m-8 2h0m-7 4h0m-11-8h0m-2 13h0m-1-12h0m-6 7h0m-3-8h0m-12 11h0m-8-10h0m-17-4h0m-11 4h0m-30 6h0m-6-4h0m-11 4h0m-2-5h0m-13 2h0m-3 0h0m26 23h0m3-12h0m3-2h0m7 3h0m16 3h0m12 5h0m19-3h0m2-5h0m34 4h0m35-4h0m37 0h0m6 1h0m6 5h0m0-1h0m33 1h0m33-4h0m9-3h0m21 1h0m-53 25h0m-1-5h0m-11 6h0m0-12h0m-1 15h0m-2-10h0m-8 9h0m-3 0h0m-3-2h0m-1 0h0m-3 0h0m-15-10h0m-2 10h0m-6-11h0m-3 11h0m-14-6h0m-5 5h0m-2 2h0m-3-11h0m-22 4h0m-12 7h0m-2 2h0m-10-15h0m-11 8h0m-1-6h0m-6 6h0m-4 5h0m-12-9h0m-3 11h0m-1-16h0m-4 1h0m-1 0h0m-7 9h0m-2-1h0m-3-4h0m-5 0h0m-3 3h0m10 23h0m0-7h0m17-3h0m13 0h0m2 8h0m1-5h0m8-8h0m8 10h0m5-2h0m12-6h0m2-1h0m1 8h0m5 0h0m25-6h0m41 3h0m5 6h0m4-4h0m11-2h0m5 6h0m3-8h0m14 2h0m5 7h0m1-3h0m21-8h0m-85 16h0m0 7h0m-23-7h0m-18 6h0m-29 1h0m16 17h0m29-3h0m17-3h0m57 5h0m-81 17h0m-20-6h0m6 25h0m55-13h0m-12 44h0m278 213h0" stroke="#f0e100"/><path d="M861 503h0m423 192h0m-104 37h0m150 16h0m-178 19h0m-42 17h0m27-4h0m4 3h0m2-5h0m8-5h0m2 9h0m1-4h0m0-2h0m3 3h0m1 4h0m7-14h0m4 2h0m3 12h0m197 14h0m-4 0h0m-17-5h0m-133 6h0m-45-8h0m-12 0h0m-4 8h0m0-6h0m-1-5h0m-8 7h0m0-4h0m-3 7h0m-7-6h0m-69 20h0m73-4h0m5 1h0m2 4h0m2-8h0m7 10h0m2-4h0m0 4h0m2-11h0m1 2h0m7 6h0m1 2h0m3-1h0m1-3h0m2-4h0m20 9h0m8-1h0m6-6h0m2 6h0m0 2h0m3-14h0m1-1h0m0 8h0m10-3h0m3 6h0m114-8h0m13 11h0m3-2h0m3 0h0m2-12h0m3 9h0m2-9h0m7 32h0m-8-15h0m-7 2h0m-137 1h0m-7 1h0m-14 4h0m-50-6h0m0 1h0m-25 9h0m-34-4h0m72 11h0m27 1h0m6 0h0m44 10h0m86 10h0m-10 0h0m-41-3h0m-6 0h0m-22 7h0m-1-9h0m-1-3h0m-56 0h0m-5 2h0m-40 10h0m-1-9h0m-56 25h0m48-3h0m5 2h0m6 2h0m7-14h0m13 9h0m5-3h0m4 7h0m1-9h0m2-1h0m0 0h0m4 0h0m20 7h0m1-7h0m5 11h0m0-8h0m9-3h0m1 10h0m24-7h0m26 10h0m5-1h0m0-7h0m8-4h0m0 0h0m44 12h0m10-15h0m5 9h0m6 3h0m54 6h0m-47 13h0m-22-1h0m-4-2h0m-17-6h0m-1 0h0m-5 7h0m-25-4h0m-4-3h0m-1 7h0m-1-9h0m-6 9h0m-8-13h0m-2 10h0m-2 5h0m-16-5h0m-2-6h0m-1 9h0m-2-12h0m-13-1h0m-10 9h0m-10 3h0m-3 0h0m-26-1h0m-29-2h0m-7 2h0m-3-10h0m-7 13h0m-5 1h0m-2-11h0m-1-1h0m-13-3h0m10 16h0m5 6h0m14-6h0m11 6h0m1 5h0m1 3h0m7-14h0m33 0h0m8 14h0m9-15h0m4 13h0m8-10h0m3-1h0m2 13h0m1-2h0m2-7h0m1 2h0m9-4h0m0 1h0m4-2h0m1 0h0m1-1h0m6 12h0m1-7h0m0-1h0m13-4h0m10-1h0m68 10h0m6-11h0m-22 25h0m-19 3h0m-10 1h0m-20-12h0m-9 6h0m-2 2h0m-1-1h0m-1-1h0m-1 0h0m-7 1h0m-26-6h0m-8 11h0m-16-11h0m-3 8h0m0-2h0m-4 4h0m-2-10h0m-3 12h0m-32 2h0m-1-10h0m-2 5h0m-12-5h0m-2 6h0m-5-4h0m-1 7h0m-16 0h0m-5-6h0m-2-9h0m-3 6h0m-15 6h0m-15-4h0m-1 8h0m-2 1h0m21 3h0m27 4h0m4-4h0m2 4h0m12 8h0m4-15h0m13 9h0m2-4h0m1-1h0m1 5h0m4-4h0m3 9h0m2-9h0m4-1h0m2 4h0m1 2h0m2-8h0m6 7h0m1-4h0m1 3h0m5 6h0m4-5h0m2-5h0m4 6h0m0-7h0m25 4h0m5 0h0m3-7h0m2 2h0m0 10h0m3-7h0m4 4h0m4-9h0m1 8h0m23-7h0m21 13h0m5-7h0m10 4h0m6-4h0m2 0h0m21-1h0m13-6h0m43 3h0m-4 27h0m-6-1h0m-5-10h0m-3 10h0m-2-10h0m-45 10h0m-6-5h0m-7 5h0m-32-10h0m-8 10h0m-12-12h0m-2 9h0m-1 3h0m-7-9h0m-9 10h0m-1-2h0m-7 1h0m-9-8h0m-1 10h0m-17-2h0m-9-11h0m-5 5h0m-10 4h0m-5 2h0m-2 1h0m-4 0h0m-1-10h0m-6 6h0m0 1h0m0 4h0m-30-15h0m-2 2h0m-4 0h0m-27 1h0m-21-2h0m-14 7h0m21 18h0m1-4h0m17-6h0m14 13h0m5-8h0m5 6h0m1-3h0m5-1h0m1-5h0m9 3h0m14 9h0m3-7h0m1-1h0m2 8h0m3-12h0m1 4h0m4-6h0m13 2h0m3 7h0m2-1h0m3 5h0m10-3h0m4-9h0m8 3h0m3-4h0m12 14h0m0-3h0m6 0h0m1 0h0m2-2h0m10-8h0m4 11h0m5 1h0m2-10h0m1-2h0m8 8h0m3-6h0m7 3h0m2 3h0m6-8h0m21 14h0m18-5h0m22 0h0m23-7h0m13 7h0m-29 11h0m-15 5h0m-5-11h0m-15 15h0m-28-9h0m-2 6h0m-10 1h0m-5-7h0m-21-5h0m-3 9h0m-1-5h0m-2 1h0m0-3h0m-5 12h0m-1-9h0m-1 2h0m-8 1h0m0-4h0m-6 6h0m0-4h0m-39 2h0m-7-1h0m0 6h0m-1-4h0m-3-3h0m-3 8h0m-2-8h0m-1-2h0m-11 3h0m-12-1h0m-4 7h0m0-11h0m-5 6h0m-9 5h0m-2-7h0m-16-4h0m-9 2h0m-35 23h0m7-11h0m4 3h0m23 1h0m2 1h0m14 10h0m2-6h0m1-6h0m1 8h0m22-10h0m4 13h0m15-1h0m5-12h0m2 13h0m5-8h0m8 7h0m16-14h0m13 15h0m12-1h0m3 0h0m1-4h0m5 3h0m11-13h0m2 1h0m2-1h0m0 3h0m4 1h0m7 7h0m2-3h0m7 2h0m13 1h0m5-7h0m18 1h0m4 1h0m9 2h0m1-5h0m1 5h0m11-1h0m-19 20h0m-3 4h0m-34-7h0m-1 2h0m-4 5h0m-4-2h0m-2-6h0m-3 8h0m-2-3h0m-1-8h0m-6-2h0m-1 7h0m-1-3h0m-1 4h0m-13-5h0m-1-1h0m-9-3h0m-1 2h0m-1 8h0m-9-4h0m-1 7h0m-2-10h0m-1-1h0m-9-1h0m-4 0h0m-5 13h0m-13 0h0m-6-2h0m-3-2h0m-2-2h0m-3-2h0m-3 0h0m-40-4h0m-3 1h0m-8 12h0m-25-12h0m-20 23h0m50-2h0m5-7h0m8 4h0m4 5h0m5 1h0m5-10h0m2 1h0m15 3h0m15 6h0m2 2h0m17 0h0m2-11h0m3 11h0m8-1h0m2-8h0m11 7h0m25-3h0m5-3h0m1 6h0m2-4h0m5 2h0m0 5h0m4-15h0m6 12h0m8 0h0m2 0h0m1 3h0m6-5h0m4 5h0m12-11h0m2 6h0m16-5h0m4 11h0m8-6h0m6 1h0m0 5h0m11-16h0m3 12h0m43 17h0m-2 1h0m-39-11h0m-5 8h0m0 2h0m-7-6h0m-19 0h0m-7 4h0m-25-6h0m-16-5h0m-7 12h0m-21 2h0m0-2h0m-2 1h0m-12-8h0m-6 10h0m-18-1h0m-40-5h0m-3-5h0m-1 2h0m-12 2h0m-18 0h0m-14-2h0m-26 7h0m-13-13h0m-10 15h0m12 14h0m27-2h0m10 3h0m2-12h0m4 0h0m6 5h0m3-2h0m19 11h0m5-15h0m1 11h0m0-2h0m1-10h0m9 12h0m4-11h0m3 0h0m4 7h0m1 6h0m3-11h0m2 0h0m7 5h0m10 6h0m19-7h0m3-4h0m3-1h0m1-1h0m0 5h0m4 8h0m6-13h0m5 14h0m17-2h0m10-2h0m1-8h0m6-3h0m13 1h0m2-1h0m12 13h0m1-8h0m12 1h0m1-5h0m0 5h0m1 2h0m7-6h0m14-1h0m19 1h0m33-1h0m32 21h0m-4 9h0m-4-8h0m-74 3h0m-32 4h0m-6-14h0m-2 11h0m-29-1h0m-4-4h0m0 1h0m-10-3h0m-9 1h0m-20 11h0m-14-8h0m-1 1h0m-5 1h0m-4-10h0m-6 15h0m-6-3h0m-10 1h0m-7-12h0m0 7h0m-12-5h0m-4 9h0m-1-1h0m-1 1h0m-10-10h0m-2 3h0m-2 2h0m-8 1h0m-4 5h0m-4 3h0m-4-13h0m-22 8h0m-10 5h0m-16-13h0m-16 10h0m12 8h0m7 5h0m10-6h0m9 10h0m2-11h0m0 3h0m7-6h0m0 7h0m2 9h0m0-10h0m3 9h0m1-12h0m2 8h0m5-8h0m25 3h0m2-6h0m2 9h0m16 0h0m13 6h0m5-13h0m3 1h0m0 12h0m3-3h0m1 0h0m3-1h0m5-2h0m4 5h0m0-7h0m1-3h0m0 2h0m2-1h0m1 7h0m6 3h0m2 0h0m3-11h0m3 8h0m10 1h0m1-10h0m6-2h0m2 7h0m2-5h0m8-3h0m29 8h0m8 7h0m18-9h0m114 3h0m6-9h0m0 24h0m-1 1h0m-23 0h0m-2-1h0m-1 4h0m-6-5h0m-51 5h0m-4 4h0m-12-6h0m-17 5h0m-8-11h0m-13 8h0m-53 1h0m-1-7h0m-16 2h0m-6 7h0m-2-11h0m-10 2h0m-4-2h0m-4 4h0m-2-6h0m-2-2h0m0 6h0m-5 2h0m0 1h0m-1 0h0m-18-3h0m-41 7h0m-6-1h0m-1 1h0m-10-2h0m-2-6h0m-2 7h0m-1 2h0m-1 0h0m-26-12h0m-8 15h0m45 4h0m15-1h0m26-2h0m1 3h0m1-3h0m2 5h0m21-1h0m13 9h0m1-3h0m7 4h0m8-13h0m8 6h0m23-1h0m1-5h0m2 2h0m10 5h0m16-8h0m6 11h0m0-10h0m4 8h0m13-10h0m9 0h0m25 8h0m6-5h0m66 28h0m-3-3h0m-42-11h0m-15 0h0m-6 1h0m0-2h0m-5 9h0m-23-9h0m-23 8h0m-1 4h0m-3-11h0m-8 3h0m-7 4h0m-29 1h0m-5 1h0m-12 5h0m-20-1h0m-2-10h0m-1-2h0m-2 7h0m-6 4h0m-5-7h0m-9 4h0m-21-8h0m-22 8h0m-36-3h0m-24 5h0m13 9h0m32 9h0m9-1h0m29-1h0m5-4h0m13 3h0m19-6h0m17-2h0m55 10h0m-28 14h0m-9 1h0m0-3h0m-50-4h0m-25-2h0m-51 2h0m15 22h0m14 1h0m9-13h0m5 6h0m17-1h0m16-4h0m25 14h0m1-11h0m11 9h0m8-2h0m20 12h0m-34 3h0m-5-2h0m0-2h0m-9 9h0m-1-13h0m-4 11h0m-30-7h0m-23-2h0m-9-1h0m-8 0h0m-4 12h0m-19-9h0m54 14h0m16-3h0m3 5h0m5-5h0m11 8h0m1 7h0m3-11h0m2 2h0m1-6h0m1 10h0m7 2h0m1-11h0m20 0h0m30 23h0m-13-2h0m-22 6h0m-2 2h0m0-12h0m-2 12h0m0-15h0m-24 1h0m-17 15h0m-35-14h0m-27 1h0m125 15h0m-23 18h0" stroke="#009e73"/><path d="M788 139h0m279 118h0m-203 249h0m-72-4h0m-27-3h0m-13 10h0m-27 12h0m31 2h0m32-1h0m95-5h0m30 1h0m2 8h0m29-7h0m78-2h0m-63 26h0m-3-10h0m-4 0h0m-4-1h0m-5 4h0m-7-5h0m-34 2h0m-12 2h0m-13 3h0m-5-10h0m-2 9h0m-5 6h0m-30-8h0m-7-3h0m-40 8h0m-12-8h0m-31 9h0m-65-2h0m-5 20h0m60-3h0m4-10h0m20 8h0m15-1h0m0 1h0m35 2h0m91 3h0m28-4h0m15-10h0m0 12h0m9-5h0m48 3h0m69 19h0m-74-10h0m-6 4h0m-6 5h0m-74 2h0m-42-4h0m-5-9h0m-6 4h0m-34 9h0m0-14h0m-47 5h0m-57-5h0m41 25h0m5-9h0m10 14h0m21-4h0m4 2h0m2-2h0m4-2h0m34-9h0m100 5h0m13 7h0m36 1h0m74-8h0m1 5h0m84-7h0m-89 27h0m-2-5h0m0 2h0m-8 3h0m-5-6h0m-8-5h0m-2 12h0m-3-10h0m-6 6h0m-1 5h0m-1-9h0m-9 6h0m-4 0h0m-1 1h0m-1-3h0m-5 3h0m-96 1h0m-16 1h0m-14-2h0m-34-14h0m-49 1h0m-57 13h0m-11-1h0m92 7h0m175 8h0m9-5h0m1-4h0m0 2h0m21 11h0m16-16h0m0 11h0m7-11h0m24 7h0m10-7h0m38 10h0m30-2h0m0 2h0m-44 8h0m-21 10h0m-14-2h0m-22-8h0m-1 11h0m-25-10h0m-13 3h0m-15-1h0m-4 4h0m-43-5h0m-39-3h0m-22 10h0m-11-6h0m-3 10h0m-158 5h0m2 4h0m42 5h0m4-8h0m3-3h0m4 12h0m4-9h0m12 1h0m16-2h0m139 8h0m48-3h0m8-9h0m6 5h0m13 0h0m1 3h0m5 2h0m1-1h0m9 5h0m7 0h0m5-3h0m6 0h0m3-3h0m0 1h0m4 7h0m2-2h0m1-3h0m7-5h0m3 8h0m69-7h0m3 5h0m-121 14h0m-113-7h0m-123 2h0m-20 3h0m-34-2h0m-27-1h0m-31-3h0m-10 8h0m-16 17h0m10 4h0m3-10h0m26-4h0m3 0h0m5 0h0m2 10h0m42 0h0m8 3h0m7 1h0m5-2h0m8 0h0m10-4h0m18-7h0m13 9h0m73 4h0m7 0h0m47-5h0m4 3h0m130-8h0m9 11h0m5-16h0m8 15h0m0-9h0m735 9h0m-554 9h0m-49-2h0m-126-5h0m-21 4h0m-292-5h0m-1 2h0m-2 7h0m-31 0h0m-15 3h0m-2-4h0m-2 2h0m-2-1h0m-25 4h0m-16-2h0m0-5h0m-3-6h0m-6 10h0m-11-5h0m-2 7h0m-3-1h0m-4-9h0m-2 5h0m-3-3h0m-7 10h0m-9-14h0m-2 28h0m10-1h0m20-7h0m5 3h0m13-6h0m59 12h0m23-9h0m13 3h0m2 7h0m468-9h0m33 25h0m-298 1h0m-75-6h0m-32 2h0m-124-3h0m-23 4h0m0 4h0m-11 0h0m-20-12h0m-5 2h0m-1-2h0m-4 3h0m-2-2h0m-6 9h0m-3 0h0m-24 16h0m6-3h0m1 4h0m2-1h0m3-12h0m2 2h0m17 10h0m20-1h0m5 0h0m5-1h0m30-2h0m47 4h0m50-13h0m13 12h0m22 0h0m4-9h0m10 5h0m1-8h0m14 13h0m41-11h0m9 11h0m1-5h0m18 3h0m3-7h0m1 11h0m10-11h0m45-3h0m242 13h0m11 16h0m-18-15h0m-242 9h0m-16-7h0m-31 0h0m-7-1h0m-13 0h0m-2 15h0m-13-13h0m-7 9h0m-22 3h0m-15-6h0m0 7h0m-6-7h0m-2-7h0m-17 9h0m-8-3h0m-13-5h0m-91 4h0m-4 3h0m-7 3h0m-15-2h0m-3-1h0m-1-3h0m-2-5h0m-8 5h0m-10 4h0m-3-9h0m-3 14h0m-3-6h0m-19-7h0m-17 4h0m0 1h0m-8-4h0m-10 9h0m-1-1h0m-3-8h0m-6-1h0m3 17h0m2 1h0m5-1h0m1 9h0m9 2h0m4-9h0m2 4h0m2-1h0m4 0h0m10 4h0m2-9h0m1-3h0m3 11h0m1-6h0m4-4h0m7 5h0m0-7h0m1 12h0m0 0h0m28 2h0m1-14h0m35 8h0m0 5h0m69-3h0m2 5h0m3-11h0m27 11h0m6-12h0m13-1h0m4-1h0m9 1h0m0 2h0m2 10h0m12-9h0m2 10h0m1-5h0m1 3h0m5-3h0m2-5h0m17 9h0m14-13h0m26 10h0m10-4h0m9-7h0m227 7h0m46 6h0m29-9h0m-269 26h0m-30-3h0m-1 2h0m-59 2h0m-3-5h0m-1-2h0m-9 2h0m-5 2h0m-5-2h0m-1-8h0m-8 5h0m-7 2h0m0 1h0m-7-6h0m-40-3h0m-6 6h0m-7 4h0m-1 3h0m-73-12h0m-25 2h0m-6 4h0m-34 0h0m-7 4h0m-4 1h0m0-6h0m-11-3h0m-2 11h0m-3-13h0m-1 7h0m-2-1h0m-7-6h0m-7 3h0m-3 0h0m-23 10h0m14 12h0m1 3h0m37-9h0m2 0h0m19-5h0m22 1h0m18 14h0m1-6h0m3-8h0m3 6h0m6-2h0m4 1h0m17 9h0m13-2h0m11-11h0m31 1h0m16 2h0m1 8h0m5-5h0m29-4h0m9 5h0m25-5h0m12 10h0m5-4h0m6 3h0m4 1h0m9-7h0m4-2h0m7 5h0m25 0h0m5 2h0m245 12h0m-244-2h0m-12-1h0m-8 9h0m-4 0h0m-3 1h0m-8-4h0m-3 3h0m-1-7h0m-12 1h0m-3 3h0m-5-11h0m-20 6h0m-22 2h0m-2-1h0m-2-3h0m-12 7h0m-7 2h0m-9-2h0m-3 2h0m-6 1h0m-2-9h0m-1-1h0m-1 6h0m-2 0h0m-7 4h0m-27-12h0m-26 3h0m-23 7h0m-8-4h0m-1 6h0m-16-11h0m-12 4h0m-1 3h0m-9-7h0m-27 10h0m-13-9h0m-2 2h0m-39 3h0m6 10h0m11 12h0m19 0h0m16-1h0m8-14h0m22 0h0m9 7h0m0-4h0m5 4h0m11 6h0m6-4h0m7-8h0m1 13h0m5-7h0m20-4h0m6 12h0m43-6h0m13-2h0m4-4h0m12 2h0m8 3h0m3 0h0m18 0h0m0-1h0m22-6h0m5 10h0m6 4h0m0-14h0m7 8h0m3-8h0m2 6h0m5 3h0m57 0h0m3-10h0m-12 26h0m-47-4h0m-10 5h0m-3 2h0m-10-10h0m-2-1h0m-8 0h0m-14 0h0m0 1h0m-32 13h0m-23-5h0m-45-9h0m-6 11h0m-12-9h0m-12 6h0m-4 5h0m-2-14h0m-8 1h0m-9 12h0m-22-4h0m-10 1h0m-10 0h0m-18-3h0m-9-4h0m-8-3h0m-2 2h0m-13 0h0m-7 4h0m-1-5h0m-8-1h0m-24 26h0m32-9h0m6-1h0m22 9h0m1-1h0m5-6h0m4-3h0m30 11h0m0 5h0m5-8h0m3 3h0m11 1h0m2-3h0m37 7h0m2 0h0m15-3h0m11-8h0m1 6h0m5-1h0m4-5h0m30 4h0m10-5h0m1 2h0m2 2h0m12 3h0m5-6h0m2 2h0m8 4h0m1-7h0m2 9h0m8-12h0m9 1h0m1 13h0m3-11h0m3 11h0m21-13h0m1-2h0m22 8h0m3 4h0m3-6h0m4 8h0m6-8h0m9 0h0m2-1h0m33 1h0m60-4h0m315 16h0m-397 5h0m-19 2h0m-1-4h0m-9 3h0m-5 0h0m-2 4h0m-5-6h0m-17-6h0m-14 15h0m-10 1h0m-2-8h0m-2 6h0m-8-8h0m0-2h0m-7 12h0m-18-11h0m-10-3h0m-26 7h0m-8-2h0m-8 2h0m-1-7h0m-8 6h0m-2-2h0m-14-3h0m0-3h0m-4 6h0m-8 5h0m-2 0h0m-1 4h0m-22-4h0m-2-1h0m-4-3h0m-4 1h0m-4-1h0m-6 6h0m-1-5h0m-2-8h0m-4 2h0m-2 5h0m-9-5h0m-12 2h0m-3 3h0m-2 8h0m-24-1h0m-2-3h0m-5 3h0m-5-9h0m-2 3h0m-4 7h0m-2-10h0m10 23h0m5-5h0m1 9h0m3-9h0m5-3h0m6 4h0m11 3h0m3-3h0m27 4h0m5-4h0m2-6h0m1 2h0m2-2h0m16 4h0m33-3h0m11-3h0m12 2h0m13 6h0m4 6h0m3 0h0m2 1h0m19-8h0m4 3h0m2 3h0m6-3h0m19 4h0m9-8h0m26 6h0m2-10h0m1 9h0m3-5h0m15 9h0m0-8h0m37-1h0m1 10h0m8-7h0m9-1h0m429 6h0m-428 5h0m-5 6h0m-29 1h0m-11-5h0m-2-1h0m-2 9h0m-9-13h0m-7 1h0m-6 4h0m-2 9h0m-1-6h0m-16-1h0m-2-6h0m-2 7h0m-7-4h0m-5 8h0m-12-3h0m-35-8h0m-2 9h0m-1 1h0m-6-5h0m-2 6h0m-2-1h0m-1-9h0m-10 12h0m-19-10h0m-7 1h0m-12 5h0m-2-1h0m-18 0h0m-2 3h0m-7-7h0m-3 0h0m-4 1h0m-3 10h0m-11-8h0m-29 2h0m-6-7h0m-77-2h0m45 22h0m49-1h0m6 2h0m2-4h0m35 11h0m2-14h0m9 9h0m2 0h0m4-4h0m3 4h0m20-9h0m20 3h0m8-4h0m4 13h0m23-2h0m11-1h0m17-2h0m1 1h0m6 1h0m4 0h0m4-1h0m1 2h0m8-5h0m13 7h0m9-1h0m21 1h0m3-4h0m2-7h0m1 7h0m3-4h0m42-4h0m354 31h0m-379-2h0m-14 1h0m-5-9h0m-5 3h0m-11 4h0m-19-6h0m-32 6h0m-14-9h0m-9 2h0m0 2h0m-17 5h0m-9-9h0m-9 4h0m-50 1h0m-4-9h0m-4 5h0m-34-5h0m-13 4h0m-4 5h0m-3-3h0m-1 0h0m-8 9h0m-3-11h0m-6 11h0m-1-8h0m-18-4h0m-2 7h0m-23-5h0m-10 2h0m12 24h0m57 0h0m6-1h0m5-6h0m6-3h0m3 6h0m10 0h0m0 3h0m4-8h0m21 2h0m9 1h0m14 2h0m15-3h0m3 6h0m7-5h0m35-9h0m7 7h0m4 8h0m7-2h0m0-8h0m1 10h0m0-9h0m4 6h0m1 3h0m63 1h0m10-13h0m3 21h0m-7-8h0m-2 15h0m-28-13h0m-22 0h0m-14 6h0m-45 5h0m-4 3h0m-4-14h0m-6 2h0m-1 0h0m-2 2h0m-12 3h0m-52-9h0m-12 7h0m-4 5h0m-8-2h0m-4-10h0m-1 6h0m-2 9h0m-1-4h0m-13-5h0m-17 7h0m-4 0h0m-2-11h0m-20 9h0m-31 14h0m18-3h0m2 3h0m23 7h0m5-7h0m3 0h0m9-8h0m3 15h0m3-15h0m15 9h0m3 1h0m4-10h0m13 11h0m5-5h0m10-2h0m22 7h0m16-8h0m3 10h0m22 0h0m10-4h0m9-8h0m37 4h0m1 3h0m8-6h0m5 13h0m3-13h0m0 12h0m5-7h0m10 4h0m3-7h0m1 0h0m23 10h0m56-14h0m47 13h0m30 15h0m-4-2h0m-39 5h0m-12-7h0m-47 7h0m-36-3h0m-5-11h0m-15 6h0m-22-7h0m-9-1h0m0 11h0m-4-2h0m-15-1h0m-6 5h0m-19-3h0m-3-5h0m-25 0h0m-7 1h0m-3-1h0m-6 6h0m-19-6h0m-26 1h0m-10-5h0m-1 8h0m-20-5h0m-3 2h0m-2 1h0m-4 4h0m-6-1h0m-1 6h0m-9-8h0m-18 7h0m-4 1h0m-20 5h0m40 10h0m20-5h0m7 3h0m1-3h0m9-8h0m2 5h0m3 2h0m11 5h0m36-12h0m25 2h0m6 5h0m9-4h0m2 7h0m7-9h0m9 9h0m12-1h0m1-6h0m11 10h0m7-2h0m18-11h0m39 4h0m11-3h0m59 1h0m30 16h0m-4 8h0m-26 0h0m-117-9h0m-25 3h0m-3-4h0m-1 3h0m-13 2h0m-5 1h0m-11-3h0m-14-5h0m-4 12h0m-33 1h0m-52-1h0m-8-9h0m-16 1h0m-29 3h0m70 9h0m38 10h0m22 3h0m6-7h0m6-4h0m32 12h0m13-14h0m24 3h0m7 4h0m11-3h0m12-3h0m141 9h0m323-3h0m-382 20h0m-23 2h0m-29-6h0m-52-3h0m-9 9h0m-207-6h0m75 18h0m140 5h0m61-1h0m24-13h0m-37 32h0m-191 10h0m18 1h0m6-7h0m63-1h0m9 3h0m198 8h0m86 5h0m-65 12h0m-43-15h0m-93 3h0m-11 6h0m-135-6h0m-15 24h0m51-8h0m280 0h0m-17 27h0m-79-6h0m-106 3h0m-6 0h0m-27-11h0m-77 2h0m-52 13h0m-4-2h0m-8-2h0m-12-1h0m-21-9h0m-2 5h0m-3 3h0m-56 3h0m14 18h0m0-6h0m42-6h0m2 2h0m1 5h0m27-4h0m3-1h0m5 11h0m11-12h0m0 12h0m11 1h0m3-1h0m18-14h0m44 2h0m71 0h0m63 27h0m-186-5h0m-6-8h0m-26 0h0m-21 3h0m-3 5h0m-9 4h0m-1-4h0m-2 6h0m-25-6h0m-24 2h0m-8 0h0m-3 4h0m-2-2h0m-6 5h0m4 1h0m3 11h0m0-10h0m30 1h0m16 1h0m42 8h0m5 0h0m1-13h0m20 11h0m9-5h0m103 4h0m93-10h0m58 6h0m41 23h0m-51-2h0m-240-3h0m-10 3h0m-15-11h0m-2 11h0m-28-10h0m-3 4h0m-61-4h0m-18 4h0m-366 3h0m397 17h0m1-6h0m2 7h0m13-10h0m3 5h0m42 8h0m4-7h0m2 1h0m3 5h0m13 1h0m9-9h0m76-1h0m60 5h0m19 3h0m13 0h0m4 0h0m9 3h0m30-2h0m4-10h0m6 11h0m6-11h0m27 4h0m16-2h0m4 9h0m5-2h0m3 3h0m16-1h0m25-7h0m5 8h0m4-3h0m4-4h0m2-1h0m42-6h0m70 1h0m12 14h0m540-16h0m-454 26h0m-129-7h0m-45 0h0m-8 8h0m-21 0h0m-1-4h0m-6-7h0m-28 4h0m-18 11h0m-3-14h0m-18 1h0m-8 1h0m-7 0h0m-9 7h0m0-7h0m-1-1h0m-12 0h0m-7 8h0m0-8h0m-3 10h0m-8-2h0m-24-8h0m-2 7h0m-7 4h0m0-1h0m-4 0h0m-28-8h0m-16 6h0m-49 5h0m-11-1h0m-7-12h0m-3 8h0m-20-7h0m-25 5h0m-4 6h0m-2 1h0m-11-4h0m-3 5h0m-31-7h0m-2 3h0m-29-11h0m-19 9h0m0-2h0m-11 0h0m-6-3h0m-4-1h0m-14 9h0m22 5h0m6-2h0m10 15h0m2-8h0m7 2h0m19-5h0m1 2h0m9-2h0m3-3h0m0 4h0m5-2h0m2 12h0m6-11h0m74-4h0m38 5h0m27 9h0m10-8h0m68 8h0m3-9h0m8 10h0m8-7h0m12-2h0m6-5h0m9 12h0m1-11h0m12 13h0m12-14h0m8-1h0m4 5h0m7 3h0m4 1h0m3-3h0m2 8h0m3-6h0m1-7h0m2 3h0m10 1h0m2 1h0m5 6h0m6-1h0m2 0h0m9 4h0m2-12h0m2 4h0m3-5h0m16 2h0m40 7h0m17-5h0m3 5h0m35-10h0m26 3h0m25-2h0m10 11h0m43-7h0m424 8h0m7 3h0m-547 0h0m-36 6h0m-9 2h0m-45 6h0m-4-2h0m-3-8h0m-2 8h0m-2-6h0m-8-7h0m-4 16h0m-2-3h0m-2-6h0m0 6h0m-6-12h0m-3 12h0m-10-4h0m-8-9h0m-7 13h0m-16-4h0m-3 7h0m-4-14h0m-19 4h0m-2 5h0m-1-7h0m-11 1h0m-4-4h0m-4 7h0m0-3h0m-1 7h0m-7 0h0m-25 0h0m-8-1h0m-48 1h0m-12 2h0m-58-7h0m-3-1h0m-36 0h0m-2 6h0m-28-7h0m-18 8h0m-5-3h0m-20-2h0m-23-1h0m83 18h0m4-9h0m34 8h0m13-4h0m6 4h0m15-6h0m1 6h0m6 1h0m5 5h0m10 2h0m1-2h0m12-8h0m11 3h0m20 7h0m38-7h0m17 7h0m2-4h0m4 0h0m3-3h0m29 2h0m8 3h0m1-2h0m10 3h0m13 0h0m5-14h0m42 8h0m7 0h0m3 6h0m61-10h0m29 8h0m21 2h0m5 0h0m15-15h0m0 8h0m8 0h0m24-7h0m37 23h0m-29 2h0m-99-8h0m-24 0h0m-26 5h0m-25 1h0m-2 1h0m-31 3h0m-2 4h0m-2-13h0m0 9h0m-10-4h0m-2-7h0m-1 14h0m-9-4h0m-5 4h0m0-7h0m-1 4h0m-2-3h0m-7-4h0m-3-2h0m-23 5h0m-6-6h0m-2 6h0m-1 6h0m-5-6h0m-2-6h0m-28 7h0m-12-6h0m-1 9h0m-16-2h0m-17-8h0m-4 0h0m-2 3h0m-2 2h0m-8-5h0m-2 0h0m-12 2h0m-1 1h0m-6-3h0m-9 7h0m-8 0h0m-1 1h0m-9 6h0m-22-9h0m0 6h0m0 0h0m-5 0h0m-15 16h0m14 2h0m25-11h0m5 1h0m0 0h0m33-1h0m3 11h0m7-14h0m6 4h0m69 9h0m40 1h0m1-12h0m12 3h0m5-3h0m3-2h0m0 2h0m7-1h0m1-2h0m7 6h0m7 9h0m12-2h0m7-7h0m1 7h0m32 3h0m33-3h0m14-8h0m31-1h0m5 4h0m99 0h0m-9 20h0m-6-8h0m-7-2h0m-5 2h0m-2 11h0m-11-12h0m-2 2h0m-62 0h0m-4 11h0m-17-10h0m-20-1h0m-2 6h0m-1 5h0m-3-3h0m-4-11h0m-8 14h0m-13-7h0m-2 5h0m-8-1h0m-22 2h0m-9-2h0m-4 3h0m-14-3h0m-9-11h0m-14 0h0m-5 0h0m-3 6h0m-5-2h0m-10-6h0m-15 15h0m-1-7h0m-6 3h0m-2-5h0m-8-2h0m-36-1h0m-18 0h0m-2 10h0m-3-2h0m-5 1h0m-9-5h0m-24-1h0m-6 6h0m-22 0h0m-2-8h0m-21-1h0m-32 6h0m10 9h0m12 4h0m1 4h0m10 4h0m11-3h0m5-3h0m2-4h0m2-1h0m1 2h0m4 9h0m8-6h0m1 1h0m4 6h0m14-11h0m5-3h0m1 1h0m22 2h0m5 5h0m3 7h0m3-2h0m20-2h0m7-7h0m2-3h0m9 13h0m8-5h0m13 4h0m14-7h0m14 4h0m0-9h0m3 8h0m2-9h0m8 4h0m32 1h0m2-3h0m4 8h0m4-11h0m7 1h0m5 10h0m5-5h0m12-2h0m0 4h0m3-5h0m12 8h0m76-2h0m6 5h0m25-8h0m21 6h0m9-3h0m0-8h0m3-1h0m6 6h0m11 2h0m20-3h0m8 2h0m-30 23h0m-8-1h0m-10-10h0m-3 5h0m-1-8h0m-1 8h0m-2 7h0m-17-3h0m-1 4h0m-21-9h0m-2 8h0m-40-3h0m-21-1h0m-38 4h0m-15-7h0m-9 4h0m-5 0h0m-22-3h0m0-1h0m-15-5h0m-1 0h0m-10 4h0m-71 8h0m-1-7h0m-2 3h0m-4-7h0m-15-3h0m-6 9h0m-2 0h0m-4 6h0m-4-1h0m-3-1h0m-31-9h0m-10 8h0m-11-12h0m-4 6h0m-11-2h0m-7 5h0m-2-5h0m-7 2h0m-18 2h0m-23 16h0m12-4h0m7 11h0m7-15h0m11 5h0m4 8h0m23 2h0m6-4h0m2 2h0m26-10h0m1-1h0m7 4h0m1-4h0m12 1h0m6-1h0m11 9h0m5 2h0m1-4h0m1-3h0m12 2h0m15-5h0m3 11h0m13-12h0m15-1h0m1 2h0m40 1h0m12 8h0m10-12h0m1 6h0m5-5h0m18 10h0m14-3h0m11 0h0m41-7h0m11 5h0m5-6h0m55 15h0m3-7h0m6 3h0m4-2h0m17-6h0m24 9h0m25-5h0m-68 23h0m-8-11h0m-2-2h0m-1 9h0m0 2h0m-5-8h0m-10 11h0m-98-13h0m-4 8h0m-17-1h0m-2-6h0m-1 12h0m-2-12h0m-27 8h0m-6-3h0m-14 6h0m-13-9h0m-37 2h0m-1-7h0m-12 0h0m-2 0h0m-3 1h0m-4-1h0m-1 12h0m-6 3h0m-2-9h0m-6-2h0m-2-3h0m-2 0h0m-9 10h0m-25-2h0m-7 2h0m-5-4h0m-2 0h0m-15-3h0m-1-4h0m-1 7h0m-13-3h0m-38-3h0m3 20h0m44-5h0m7 5h0m0 1h0m3 9h0m30-7h0m4 3h0m14-6h0m19-3h0m5 5h0m2-2h0m12 6h0m11-3h0m14-8h0m9 6h0m2-5h0m4 2h0m15 8h0m24-8h0m17 8h0m5-4h0m0-5h0m9 8h0m14-8h0m3 1h0m2-1h0m16 5h0m7 2h0m3-5h0m82 2h0m1-6h0m3 9h0m1 10h0m-33 0h0m-60 5h0m-10-4h0m-9 1h0m-13-3h0m-24-2h0m-12 0h0m-11 15h0m-2-12h0m-7-1h0m-29 9h0m-4-10h0m-6 13h0m-3-13h0m-4 5h0m-7 6h0m-6-13h0m-11 15h0m-1-1h0m-11-6h0m-26 2h0m-3 2h0m-8-6h0m-2-5h0m-26-1h0m-7 25h0m10-8h0m20 0h0m23 2h0m51 11h0m9 1h0m1-14h0m16 4h0m9 7h0m12 1h0m34-4h0m9 2h0m3-8h0m53 10h0m64-7h0m-93 16h0m0-6h0m-7 6h0m-6-1h0m-2 9h0m-7-9h0m-23-2h0m-22 1h0m-6-3h0m-10 4h0m-20 11h0m16 11h0m48-7h0m2 5h0m2-6h0m14 9h0m4 4h0m5-9h0m5-3h0m1-4h0m1 6h0m-15 10h0m426 182h0m-135 42h0m94-16h0m-43 22h0m-18 0h0m-59 6h0m27 5h0m7 5h0m-91 22h0m-328-3h0m286 11h0m74-3h0m11 15h0m-542 4h0m92 27h0m215 14h0m-104 16h0" stroke="#22b1ea"/><path d="M818 500h0m12 20h0m11-4h0m-11 27h0m-113 38h0m-62 23h0m-6-8h0m60 41h0m-40-8h0m-2 0h0m-11 2h0m-9 3h0m-3-4h0m-3 5h0m-55 9h0m22-3h0m16 13h0m2-8h0m33-3h0m44 20h0m-55 3h0m-3-4h0m-9-3h0m-7-2h0m-1 6h0m-1-2h0m-2-1h0m-2-2h0m-12 4h0m0-6h0m-3 5h0m-17-5h0m0 12h0m-5-2h0m-1 2h0m-4-4h0m-3-7h0m-15 2h0m-5 9h0m-10-1h0m-4 3h0m-25 2h0m13 7h0m1-1h0m1 8h0m6-7h0m2 5h0m49 1h0m16-4h0m5 4h0m17-11h0m21 0h0m-10 20h0m-31-5h0m-28 11h0m-6 3h0m-14-3h0m-12-3h0m-3-6h0m-2 2h0m-18-4h0m-1 3h0m-3 12h0m-11-14h0m18 19h0m0-3h0m2 5h0m2-3h0m10 4h0m2 3h0m8 3h0m12-2h0m12 4h0m4-2h0m14-13h0m2 15h0m4-13h0m13 6h0m306 20h0m-24-4h0m-284 6h0m-13-13h0m-9 10h0m-1-6h0m-12-5h0m-1 0h0m-6-1h0m-1 13h0m-5-3h0m-17-9h0m-6 10h0m-11 2h0m-8-13h0m-3 3h0m-2 12h0m-7-6h0m-6-1h0m-26 12h0m10 10h0m20-12h0m9-1h0m7 13h0m14-11h0m1 2h0m8 10h0m4-1h0m1-4h0m14 0h0m7-5h0m3 10h0m41-8h0m15 2h0m174 3h0m8-1h0m11-8h0m90 7h0m-291 8h0m-1 2h0m-6 6h0m-33-4h0m-11-2h0m-4 4h0m-5-2h0m-14 2h0m-2 2h0m-12 6h0m-2-6h0m-1-8h0m-1 4h0m0 2h0m0 1h0m-2 0h0m-8-1h0m-3 6h0m-4-13h0m-11 8h0m-1 0h0m-1 7h0m-6-15h0m-6 4h0m-18 20h0m15-7h0m2 13h0m12-13h0m8 4h0m15-3h0m2 8h0m1 1h0m2-3h0m3 7h0m7-15h0m4 5h0m10-1h0m13 6h0m5 4h0m3-5h0m13 0h0m27 0h0m13 0h0m16-3h0m6 3h0m10 6h0m160-6h0m19 0h0m6-3h0m26 15h0m-33 2h0m-7 2h0m-7-10h0m-13 5h0m-207 1h0m-1 3h0m-2 1h0m-38 4h0m-22 1h0m-2-3h0m0-7h0m0-1h0m-21 9h0m-1 1h0m0 0h0m-11-8h0m-9 9h0m-4 0h0m-10 1h0m0-4h0m-1-1h0m-12-2h0m-11 7h0m9 5h0m23 1h0m38 5h0m4 1h0m10-5h0m23-4h0m10 6h0m10 2h0m3-1h0m30-7h0m4 3h0m187 5h0m5-10h0m34 29h0m-6-8h0m-28-5h0m-2 5h0m-172 1h0m-30-7h0m-20 3h0m-1 6h0m-13 6h0m-12-3h0m0-4h0m-2-6h0m-2 1h0m-7 1h0m-8 9h0m-4 0h0m-14 1h0m-2-13h0m-18 6h0m-2 6h0m-4-5h0m-21 1h0m-3-4h0m-13-4h0m-3 7h0m-1 2h0m0-2h0m1 18h0m4-9h0m24 6h0m4-2h0m3 4h0m4 4h0m29-7h0m8 2h0m39 0h0m3-6h0m12 9h0m11-5h0m12-1h0m223-2h0m-14 18h0m-192 10h0m-29-9h0m-3 1h0m-2-4h0m-4-3h0m-3 5h0m-2 1h0m-17-1h0m-2-1h0m-9 9h0m-2-13h0m-4 15h0m-6-3h0m-1-2h0m-4 1h0m-9-9h0m-4 1h0m-1 10h0m0 1h0m-2-1h0m-2-6h0m-1 7h0m-5-9h0m0 4h0m-2 7h0m-1-12h0m-3 10h0m-2-2h0m-13-11h0m-5 13h0m-2-13h0m-16 9h0m-4-7h0m-5 9h0m-11 4h0m3 6h0m0 8h0m12 0h0m2-1h0m1-9h0m6 9h0m13 3h0m1-12h0m2 5h0m6 7h0m5-10h0m1 4h0m3-7h0m5 1h0m3 7h0m3-10h0m1 9h0m1-5h0m9-2h0m3 13h0m0-12h0m8-4h0m4 12h0m0-12h0m11 13h0m8-3h0m6 0h0m3-5h0m6-2h0m24 1h0m1 1h0m2 11h0m2-7h0m409-1h0m19 7h0m-9 2h0m-415 5h0m-6-5h0m-22-1h0m-20 6h0m-10 5h0m-3 5h0m-16 0h0m-1-5h0m-1-4h0m0-4h0m-2 5h0m-12 1h0m-1-3h0m-1 2h0m-6-4h0m-7 5h0m-10 3h0m-14-9h0m-4 5h0m-3 4h0m-20-5h0m-4 4h0m-16-3h0m0 14h0m25 3h0m5 6h0m11-14h0m0 8h0m18 3h0m1 4h0m5-13h0m4 10h0m12 0h0m6-9h0m7 1h0m5 6h0m0-4h0m4 1h0m0 2h0m4-6h0m0 11h0m12-11h0m2 7h0m6-1h0m0-6h0m4-1h0m8 1h0m5-2h0m25 0h0m12 4h0m420 5h0m21 2h0m-31 16h0m-428-5h0m-8 2h0m-3-2h0m-3 4h0m-1-6h0m-2 6h0m-8 3h0m-4-1h0m0-3h0m-5 4h0m-11-14h0m-2 14h0m-9-4h0m-1-10h0m-3 1h0m-3 6h0m-2-2h0m-9 5h0m-11-1h0m-2-4h0m-1 0h0m0-6h0m-1 5h0m-1-3h0m-11 1h0m-3 6h0m-7-1h0m-3 1h0m-7-4h0m-9 7h0m-12-11h0m10 30h0m1-15h0m8 5h0m22-4h0m2 6h0m14 9h0m7 0h0m3-9h0m4 0h0m0-1h0m4 0h0m3 9h0m1-6h0m8 6h0m3-2h0m9 0h0m1-12h0m1 3h0m3-2h0m0 9h0m6-10h0m3 6h0m9-3h0m1 8h0m9-7h0m13 0h0m0 6h0m1-10h0m4 8h0m374 2h0m54-6h0m-33 26h0m-9-6h0m-11 6h0m-18-3h0m-350-2h0m-6-7h0m-3 8h0m-1 2h0m-4-9h0m-1 4h0m-6-4h0m-5-1h0m-2 13h0m-3-14h0m0 7h0m-4 2h0m-3 2h0m-6 0h0m-2 1h0m-3-14h0m-6 8h0m-3-1h0m-8 2h0m-1 5h0m-4-7h0m-10 8h0m-25-11h0m0 8h0m-2-2h0m-5-4h0m-2 7h0m-5-6h0m-4 3h0m-10-9h0m-12 4h0m-1 0h0m-4-1h0m-12 2h0m15 12h0m25 7h0m13 5h0m11-10h0m7 4h0m4 0h0m2 1h0m1-9h0m9 7h0m11-2h0m0 8h0m5-12h0m12 13h0m1-10h0m5 3h0m15 1h0m4-1h0m4 4h0m2-6h0m5 1h0m4-4h0m3 3h0m3 2h0m32-1h0m308 2h0m41 2h0m2 14h0m-20 5h0m-19 2h0m-16 1h0m-1-1h0m-304-15h0m-19 15h0m-16-5h0m-5 0h0m-4 5h0m0-6h0m-5-9h0m0 3h0m-9 9h0m-6-2h0m-21 5h0m-1-2h0m-4-11h0m-13 2h0m-12 0h0m-13 2h0m-1 5h0m0 4h0m-7-12h0m-1 7h0m-5-3h0m-9-4h0m-5-3h0m-15 14h0m-27 17h0m36-6h0m13 1h0m1-6h0m6 7h0m1-9h0m3 0h0m30 9h0m3-7h0m2 2h0m13 6h0m1-5h0m7-6h0m3 3h0m1 0h0m4-1h0m10-3h0m4 8h0m2-7h0m1 12h0m19-1h0m6 2h0m9-13h0m0 5h0m2-4h0m3 5h0m4-5h0m2 13h0m0-9h0m9-3h0m269 9h0m-298 16h0m-8-9h0m-7 8h0m-7-3h0m-14-6h0m-24 14h0m-39-6h0m-4-8h0m-5 6h0m-23-3h0m30 13h0m4 8h0m5-8h0m9 12h0m3-5h0m29 4h0m18-11h0m5 1h0m1 9h0m12-11h0m6 13h0m15 1h0m25-8h0m271 1h0m4 0h0m5 4h0m1-2h0m13-8h0m6 14h0m4-3h0m5 14h0m-17-8h0m-2-3h0m-110 13h0m-97-3h0m-43 4h0m-46-4h0m0 5h0m-11-1h0m-48-1h0m-50-1h0m-17-4h0m-1 1h0m-44 5h0m-7-7h0m41 14h0m72 2h0m4-4h0m17 3h0m33-5h0m16 4h0m33 6h0m152-6h0m55-2h0m22 5h0m29-1h0m458 6h0m-387 13h0m-7 2h0m-166 0h0m-113-6h0m-3-1h0m-28 3h0m-16-2h0m-10 2h0m-18-7h0m-26 1h0m-1 1h0m-28-3h0m-6 12h0m-43 3h0m-74 7h0m6-2h0m63-2h0m8 8h0m25 3h0m1-8h0m5-1h0m49 1h0m22-5h0m11 2h0m6 1h0m5-2h0m17 0h0m6 10h0m43-9h0m4 11h0m71-3h0m87 5h0m8-8h0m13-3h0m44 22h0m-24-10h0m-167 1h0m-39 10h0m-16 2h0m-13-6h0m-11 8h0m-38-8h0m-13 7h0m-8-2h0m-8-3h0m0-1h0m-6-8h0m-4 3h0m-1 7h0m-8 3h0m-5 2h0m-33-14h0m-4 2h0m-2-1h0m-3 13h0m-4-2h0m-49-10h0m-9 3h0m-15 10h0m-4-6h0m9 14h0m8 3h0m24-7h0m21 7h0m5-6h0m14-4h0m12 7h0m1 5h0m3-6h0m1-4h0m1 6h0m10 3h0m4-3h0m5 3h0m4-3h0m3-5h0m3 8h0m1-2h0m2 3h0m1 0h0m3-9h0m3-1h0m4 6h0m0-5h0m0 2h0m1 7h0m6-9h0m27-1h0m112 7h0m85 0h0m4-7h0m26 7h0m1 6h0m67-7h0m77 6h0m-228 11h0m-91-4h0m-36-2h0m-10 4h0m-36-1h0m-3-6h0m-8 11h0m-5-1h0m-5-10h0m-22 7h0m-63 1h0m94 11h0m2 12h0m14-9h0m34 5h0m15 1h0m61-3h0m6 0h0m155 3h0m3-9h0m109 14h0m-106 13h0m-29-7h0m-10 2h0m-112 1h0m-27-7h0m-13 1h0m-49 7h0m-55-7h0m-39 11h0m-32 8h0m50 6h0m80-11h0m169 1h0m43-3h0m112 9h0m-46 14h0m-62-2h0m-123 0h0m-179-5h0m31 25h0m232 4h0m35-2h0m26-5h0m33-6h0m0 11h0m-85 12h0m-287-3h0m189 22h0m71-4h0m65 6h0m4-6h0m-31 9h0m-38 2h0m-22 7h0m-239-1h0m39 21h0m40 1h0m187 1h0m1-1h0m3-5h0m5-7h0m20 1h0m24 5h0m-186 23h0m-115-3h0m48 13h0m118 0h0m94-7h0m854 17h0m-3 1h0m-7 8h0m-1033-11h0m-32 13h0m71 10h0m12 7h0m2-6h0m-15 20h0m-9-5h0m-55 2h0m56 15h0m51-5h0m-49 34h0m13 0h0m2-4h0m52 15h0m-56 16h0m67 0h0" stroke="#0072b2"/><path d="M778 139h0m156 360h0m-155 33h0m-79 28h0m-21 18h0m3 7h0m61-6h0m29 6h0m23 2h0m327-5h0m-245 26h0m-64-1h0m-65 0h0m-63-14h0m-38 2h0m-22 23h0m99-4h0m72 10h0m7-13h0m4 11h0m3 18h0m-45-6h0m-34-1h0m-43 2h0m-16-8h0m-15-1h0m-12 1h0m-26 8h0m-6 2h0m0-12h0m-29 6h0m-24 22h0m1-12h0m35 1h0m26 1h0m1 3h0m20-3h0m13-1h0m11 2h0m47 6h0m36 2h0m16-9h0m12 12h0m26 0h0m46-2h0m4-10h0m28 7h0m35 5h0m142-3h0m162 11h0m-228 3h0m-49-2h0m-55-3h0m-35 9h0m-6-2h0m-1 0h0m-21-1h0m-3 0h0m-8-6h0m-15-2h0m-4 6h0m-7 1h0m-20-6h0m-38-1h0m-3 0h0m-77 6h0m0 7h0m-31-3h0m-60 0h0m-1 2h0m-38-5h0m35 21h0m10-10h0m4 6h0m0-1h0m5 3h0m0-3h0m71-7h0m55 5h0m4 1h0m2-4h0m5 9h0m2-9h0m37 4h0m2-3h0m4 1h0m3-4h0m11 5h0m18 8h0m2-6h0m1 2h0m3-1h0m2-4h0m24 5h0m6-11h0m2 10h0m13-4h0m19 8h0m119-13h0m137 8h0m13-3h0m45 1h0m-100 13h0m-7 9h0m-22-7h0m-22-6h0m-56 3h0m-26 8h0m-9-1h0m-15-1h0m-38-7h0m-46 6h0m-8 3h0m-9-1h0m-1 4h0m0-14h0m-4 1h0m-10 2h0m-9 4h0m-12 7h0m-14-1h0m-25-4h0m-5-2h0m-71-5h0m-20 5h0m-4 4h0m-16-9h0m-17 7h0m-20 2h0m-15-8h0m-68 5h0m-4 15h0m7 6h0m30-10h0m15 10h0m3-5h0m30 1h0m1 2h0m30-3h0m34 6h0m14-4h0m8 2h0m3-10h0m0 5h0m3 5h0m22-3h0m10 2h0m57-2h0m5-4h0m2 0h0m18-2h0m4 11h0m8-8h0m6 5h0m0 3h0m4 1h0m0-13h0m3 4h0m8 4h0m66-5h0m29 2h0m10-3h0m8 7h0m4-10h0m9 12h0m81-10h0m2 2h0m11 2h0m112 2h0m-36 22h0m-32-6h0m-31-5h0m-4 10h0m-68-1h0m-8-6h0m-38 1h0m-25-4h0m-1 0h0m-22 10h0m-9-12h0m-5 3h0m-30 4h0m-5-4h0m-10 6h0m-15-11h0m-53 11h0m-12-3h0m-1-4h0m-5 7h0m-21-1h0m-16-8h0m-25 9h0m-3-6h0m-1-3h0m-2 6h0m-53-9h0m0 15h0m-12-6h0m-9-4h0m-1 1h0m-7 4h0m-6-7h0m-32 1h0m-5-1h0m-17 1h0m-4 9h0m-8-13h0m-14 31h0m86-12h0m37 10h0m28-2h0m5-8h0m9 5h0m1 2h0m10 2h0m16-11h0m1 8h0m35-3h0m6-4h0m12 2h0m7-3h0m29 11h0m3-1h0m66-9h0m25-1h0m15 13h0m0-7h0m32 6h0m17-8h0m19 4h0m33-3h0m12 1h0m59-1h0m2 7h0m19-4h0m1 1h0m8-10h0m16 10h0m44-2h0m63-7h0m35 6h0m3-4h0m-39 28h0m-1-5h0m-5-6h0m-30 6h0m-16 6h0m0-1h0m-8-2h0m-44-12h0m-44 1h0m0 1h0m-1 10h0m-1-9h0m-38-3h0m-16 13h0m-43-2h0m-43-8h0m-20 4h0m-8-7h0m-52 14h0m-12-13h0m-25 7h0m-13 2h0m-12 3h0m-7-9h0m-59 11h0m-21-11h0m0-2h0m-28-3h0m-5 12h0m-8 3h0m-21-11h0m-16 2h0m-7-3h0m-6 3h0m0 3h0m-3 1h0m-22-3h0m-4-7h0m-2 8h0m-6-2h0m-3 0h0m0 7h0m-6-13h0m-44 6h0m-1-4h0m-4 1h0m-16 8h0m-6-7h0m0 11h0m-15-13h0m-18 24h0m36-2h0m11 0h0m81 5h0m17-3h0m18-9h0m4 1h0m5 11h0m6 3h0m23-9h0m44-2h0m1 10h0m9-7h0m29 1h0m2-8h0m11 7h0m0 2h0m2 2h0m34-12h0m10 2h0m5-1h0m26 1h0m62 8h0m6 1h0m70-9h0m81 13h0m116-7h0m4 5h0m4-3h0m7-10h0m24 6h0m14-5h0m-6 20h0m-50 9h0m-81 1h0m-26 1h0m-46-12h0m-16 2h0m-29-5h0m-25 10h0m-74-3h0m-27-2h0m-6-2h0m-3 4h0m-4-5h0m-4 10h0m-13-3h0m-39 0h0m-6-3h0m-19-4h0m-2 12h0m-12-1h0m-11-5h0m-66-3h0m-28 2h0m-7-6h0m-1 13h0m-2-12h0m-17-3h0m-1 7h0m-50 9h0m-37-13h0m-13-3h0m-14 5h0m-31 17h0m58-1h0m4 0h0m5-2h0m23 1h0m19 0h0m23 5h0m5-6h0m30 0h0m27 9h0m19 0h0m13 0h0m10-7h0m9-2h0m12 6h0m2 7h0m28-11h0m19 10h0m9-13h0m1 13h0m21-13h0m0 9h0m6-5h0m13 2h0m39-4h0m6 4h0m14 6h0m2-4h0m21-3h0m33-2h0m11-5h0m2 2h0m20 5h0m14 3h0m6-3h0m52 3h0m8-1h0m10-5h0m0-1h0m10 12h0m115 4h0m-132 1h0m-29 6h0m-31 6h0m-61-13h0m-1 0h0m-2 5h0m-45-3h0m-15 6h0m-1-7h0m-71 3h0m-22-4h0m-38 8h0m-28-6h0m-9-3h0m-67 10h0m-5-7h0m-5 9h0m-2-12h0m-4-1h0m-2 2h0m0 13h0m-17-14h0m-10 2h0m-5 10h0m-4-10h0m-43 11h0m-11-9h0m-2 2h0m-2 7h0m-14 0h0m-2-14h0m-50 5h0m88 26h0m30-7h0m1-8h0m7 4h0m5 9h0m11-2h0m10 2h0m5-5h0m0 4h0m8-13h0m4 4h0m11 4h0m7 1h0m2-5h0m14 8h0m2-7h0m24 3h0m51-1h0m62 8h0m26-5h0m15-5h0m29-4h0m5 2h0m5-1h0m43 7h0m4 2h0m3-1h0m0-1h0m11-3h0m38-2h0m10 0h0m44 23h0m-20-11h0m-21 11h0m-50-6h0m-13-5h0m-54 15h0m-5-12h0m-45 1h0m-36 1h0m-10 10h0m-8-6h0m-8 1h0m-2 6h0m-28-14h0m-28 12h0m-1-14h0m-11 5h0m-20 8h0m-31-5h0m-1 4h0m-2-5h0m-5 2h0m-2 3h0m-5-1h0m-6 4h0m-1-13h0m-4 10h0m-1-10h0m-8 2h0m-2-4h0m-3 3h0m-13 0h0m-8-3h0m-8 3h0m-38 11h0m-55 15h0m0-12h0m92 11h0m32-11h0m7 10h0m1-10h0m4 10h0m8-5h0m12-4h0m12 10h0m8-6h0m13 1h0m0-6h0m7 2h0m0 2h0m13-2h0m58 2h0m26-1h0m20-1h0m23 5h0m47 8h0m3-8h0m9-7h0m2 10h0m18-1h0m6-2h0m2 2h0m85-10h0m16 11h0m25 8h0m0 5h0m-7 0h0m-1-4h0m0-3h0m-3 12h0m-81-9h0m-5 1h0m-2 7h0m-2-11h0m-46 14h0m-46 0h0m-4-1h0m-10-11h0m-30 5h0m-9 2h0m0-4h0m-6 1h0m-10 2h0m-3 1h0m-9-3h0m-1 8h0m-5-8h0m-89-1h0m-22 8h0m-3-7h0m-5-5h0m-7 2h0m0 8h0m-6-11h0m-16 0h0m-21-1h0m0 15h0m-6-7h0m-54-8h0m-80 10h0m13 16h0m21 6h0m52-11h0m9-4h0m22 5h0m16 3h0m5-2h0m1 8h0m4-12h0m25 12h0m5-4h0m5 4h0m84-4h0m14-1h0m30 5h0m7-3h0m2-7h0m6 0h0m10 0h0m9 10h0m4-8h0m19 0h0m13 7h0m5 1h0m36-13h0m10-1h0m16 15h0m95-3h0m11-10h0m33 8h0m3 3h0m16-10h0m30-4h0m-41 21h0m-8 2h0m-27 1h0m-13 3h0m-6-5h0m-12-1h0m-1 9h0m-37 1h0m-33-4h0m-7-4h0m-2 0h0m-29 5h0m-1 0h0m-1 0h0m-21 3h0m-7-13h0m-2-1h0m-8 6h0m-21-1h0m-4 8h0m-7 2h0m-1-7h0m-10 0h0m-47 1h0m-6 3h0m-2-10h0m-23 11h0m-25 0h0m-5-4h0m-45-6h0m-10 8h0m-51 1h0m-2-5h0m-11 1h0m-24-4h0m-43-5h0m-2 4h0m0 18h0m12 8h0m29-1h0m21-9h0m46 8h0m12-4h0m53-8h0m1 15h0m26-1h0m7 0h0m1-13h0m4 7h0m71-4h0m4 6h0m7 3h0m4-4h0m1-2h0m2-3h0m3 1h0m11 9h0m1-2h0m19-4h0m2 4h0m3-5h0m59 4h0m12-4h0m15 8h0m9-12h0m1 3h0m9 9h0m2-14h0m11 6h0m15 9h0m38-2h0m8-7h0m1 0h0m5 3h0m5 2h0m2-9h0m30-2h0m7 14h0m20-4h0m3-5h0m27 7h0m287 12h0m-1 1h0m-2 4h0m-333-7h0m-2 2h0m-19-2h0m-31-5h0m-47 7h0m-5 3h0m-36 4h0m-22-11h0m-26 11h0m-6-7h0m-3-3h0m-17-5h0m-7 7h0m-10 7h0m-11 1h0m-2-2h0m-11-5h0m-5 2h0m-9 4h0m-1-5h0m-1-4h0m-13 5h0m-1-10h0m-17 14h0m-1-2h0m-2-6h0m-19-4h0m-73 3h0m-34-1h0m-67 1h0m-105 24h0m16-11h0m140 13h0m1-8h0m3-2h0m1-4h0m7 2h0m7 7h0m17-4h0m4-6h0m35 2h0m5-3h0m4 6h0m16 7h0m21 3h0m0-12h0m27 2h0m38 4h0m2 3h0m8-11h0m1 14h0m51-2h0m1-2h0m62-12h0m1 6h0m30-3h0m10 4h0m3-3h0m36 0h0m6 10h0m28-5h0m59 10h0m-33 8h0m-72-7h0m-14 4h0m-2 4h0m-1-11h0m-1 12h0m-22-11h0m-83 3h0m-7 6h0m-3-7h0m-1 11h0m-3-12h0m-29 1h0m-4 5h0m-1-7h0m-7 13h0m-5-4h0m-11-1h0m-8-1h0m-9 6h0m-59-14h0m-10 8h0m-6 1h0m-24-5h0m-27 4h0m-1-5h0m-14-4h0m-4 9h0m-7 0h0m-3 6h0m-10-14h0m-21 6h0m0 7h0m-11-10h0m-5 9h0m-11-2h0m-7-7h0m-12 11h0m-3-14h0m-17 11h0m-42-1h0m-7 0h0m-1 0h0m0-10h0m-5 6h0m-11 8h0m3 13h0m14-6h0m4 5h0m52-4h0m11 6h0m2-13h0m1 13h0m7-7h0m18 7h0m2-7h0m3 10h0m10-15h0m5 2h0m19 12h0m2 0h0m2-10h0m7-1h0m38 9h0m8-3h0m2-8h0m11 9h0m49-7h0m33-2h0m3 11h0m1-9h0m2 4h0m5-1h0m6 8h0m38-11h0m7 1h0m9 9h0m24-14h0m52 11h0m0-3h0m81 2h0m52-4h0m32-4h0m23 1h0m337 26h0m-355-5h0m-41-2h0m-42-2h0m-2-1h0m-4-2h0m-27 12h0m-3-11h0m-5 4h0m-6-3h0m-4-1h0m-1 2h0m-8 9h0m-26-9h0m-13 0h0m-6 6h0m-2-10h0m-6 15h0m-4-12h0m-18 11h0m0-3h0m-2 0h0m-6-1h0m-30-1h0m-22 4h0m-21-6h0m-42 8h0m-22-7h0m-3-8h0m-22 2h0m-75 11h0m-4-1h0m-8 3h0m-1 0h0m-29-10h0m-3 7h0m-11 1h0m-54 0h0m-7-4h0m-2-5h0m-4 8h0m-15-8h0m-17-3h0m-9 7h0m24 18h0m4-2h0m11 5h0m12-11h0m38 3h0m18-2h0m9 10h0m30-9h0m13 9h0m3-8h0m47 7h0m18-9h0m14 5h0m8 0h0m7-4h0m15 5h0m24-6h0m17 3h0m2-6h0m31 13h0m19-12h0m1 0h0m31 1h0m22 0h0m17 8h0m7 4h0m15-13h0m6 9h0m1 3h0m35-4h0m23 4h0m92 13h0m-28-1h0m-5 6h0m-33-8h0m-20-6h0m-1 14h0m-1-4h0m-25-2h0m-16 6h0m-34-9h0m-5 4h0m-1-5h0m-1-3h0m-5 7h0m-1-9h0m-2 6h0m-10 1h0m-1 0h0m-74-6h0m-14 9h0m-8-1h0m-43-5h0m-4 4h0m-6 0h0m-23 8h0m-20-2h0m-3-11h0m-15 11h0m-30 2h0m-1-7h0m-2-7h0m-34 1h0m-31 5h0m0-7h0m-3 5h0m-7-5h0m-1 3h0m-17 11h0m-20-8h0m-6 4h0m-5-2h0m-35-3h0m-7 17h0m0-6h0m12 1h0m13 0h0m5 0h0m24 7h0m3 5h0m22-9h0m1 9h0m30-1h0m2-11h0m54-1h0m1 3h0m17 7h0m7 2h0m3-12h0m17 12h0m22-11h0m2 2h0m4-3h0m32 2h0m45 3h0m43 0h0m35 7h0m8-2h0m9 3h0m38 1h0m7-9h0m1 5h0m18 0h0m2 3h0m1-3h0m8 0h0m10 3h0m61 8h0m-1-4h0m-7 12h0m-14-5h0m-2-1h0m-9 0h0m-6 5h0m-19-13h0m-1 5h0m-24 1h0m-9 0h0m-3 8h0m-4-14h0m-20 4h0m0-4h0m-15 8h0m-7 7h0m-22-10h0m-3-3h0m-13 5h0m-12 1h0m-29-1h0m-16 7h0m-3 2h0m0-1h0m-7-8h0m-15 4h0m-19-9h0m-11-1h0m-2 5h0m-2 1h0m-33-2h0m-8 4h0m-15 7h0m-63-5h0m-10-2h0m-9-4h0m-3 0h0m0-1h0m-7-1h0m-33 0h0m-16-1h0m-20 0h0m-3 8h0m-3-3h0m-1 6h0m-11-13h0m-3 6h0m-26 21h0m14-3h0m6 4h0m13-1h0m44-6h0m6 0h0m13 0h0m1-2h0m4 13h0m4-8h0m4-7h0m15 15h0m3 0h0m2-1h0m2-4h0m2-5h0m18 7h0m36-4h0m22 3h0m16-11h0m6 9h0m14-3h0m6 8h0m5-5h0m46-2h0m10 7h0m4-6h0m5-4h0m18 2h0m5-3h0m14 5h0m3 2h0m15-5h0m5 1h0m15 2h0m17-1h0m18-4h0m28-2h0m8-1h0m16 5h0m3-3h0m1 1h0m2 3h0m3 2h0m1-7h0m30 6h0m5-8h0m8 1h0m58 12h0m-78 16h0m-9-13h0m-12 5h0m-36 6h0m-39-8h0m-4-2h0m-3 8h0m-4 4h0m-16-2h0m-2-6h0m-1-4h0m-9 14h0m-8-2h0m0-13h0m-6 11h0m-6-3h0m-5 1h0m-2-5h0m-2-2h0m-14 12h0m-12 0h0m-10-11h0m-13 2h0m-6 1h0m-1 1h0m-48 3h0m-66 5h0m-7-10h0m-10-1h0m-1 10h0m-30-5h0m-13 4h0m-15-9h0m-41-3h0m-2 3h0m-11 5h0m-2-7h0m-4 2h0m-3 10h0m0-3h0m-2-8h0m-4 10h0m-9-10h0m-16 3h0m-10 25h0m38-5h0m41 4h0m8-12h0m5 10h0m1 0h0m5-5h0m7-4h0m42 11h0m14-9h0m10-3h0m55 2h0m62-1h0m34 8h0m11 2h0m4 2h0m1-12h0m1 7h0m8-10h0m4 8h0m9-4h0m5 7h0m10-4h0m0-3h0m1 1h0m3-2h0m2 1h0m7 8h0m10-1h0m10-2h0m5 6h0m3-13h0m4 3h0m1 5h0m5 4h0m2 2h0m5-12h0m5 5h0m7-8h0m15 15h0m2-7h0m7 0h0m1-2h0m63-6h0m4 13h0m438-7h0m-413 13h0m-21 2h0m-15 8h0m-7-10h0m-34 3h0m-26 4h0m-4 4h0m-9-12h0m-34 12h0m-2-2h0m-17-7h0m-2 9h0m-7-6h0m-4 6h0m-7-3h0m-9-7h0m-9 6h0m-2 1h0m-19-7h0m-8 10h0m-1-3h0m-35-12h0m-2 13h0m-19-11h0m-3 12h0m-6 1h0m-60 0h0m-9-13h0m-12 7h0m-1 1h0m-64 6h0m-20-15h0m-26 12h0m-14-7h0m-1-4h0m-20 28h0m84-3h0m17-6h0m21 11h0m12-10h0m47-5h0m47 5h0m5-2h0m32 10h0m14 1h0m4-15h0m3 13h0m2-12h0m3 11h0m9 4h0m6-14h0m7 6h0m37 2h0m1 4h0m4-1h0m5 3h0m14-10h0m21-5h0m10 7h0m5-1h0m13-4h0m13 6h0m18-7h0m19 6h0m5 4h0m11-9h0m7 9h0m-55 13h0m-14-8h0m-43 5h0m-6 2h0m0-2h0m-16 6h0m-2-11h0m-4 3h0m-3 5h0m-4-2h0m-1-3h0m-3 0h0m-20-2h0m-11 8h0m-5 4h0m-7-9h0m-7 9h0m-9-7h0m-9 0h0m-6-4h0m0-1h0m-1 6h0m-11 3h0m-2 0h0m-12-3h0m-3 4h0m-4-6h0m-11 1h0m-6 1h0m-12 5h0m-39-10h0m0 6h0m-32 3h0m-8 2h0m-14 2h0m-5-3h0m-65-1h0m-22-8h0m1 19h0m34 2h0m22 5h0m95-6h0m25-7h0m29 11h0m2-5h0m7 1h0m14 2h0m6-2h0m5-2h0m19 7h0m9-1h0m22 1h0m3-13h0m0 14h0m4-1h0m4-2h0m11 4h0m15-13h0m12 6h0m2 6h0m10-3h0m9-4h0m4-3h0m29 8h0m2 3h0m24-2h0m2 2h0m9-7h0m1 7h0m13 0h0m50-1h0m368-10h0m-371 21h0m-5-1h0m-7-3h0m-23 9h0m-4-3h0m-14-8h0m-8-1h0m-26 10h0m-1-3h0m-5 4h0m-5 1h0m-49 1h0m-1-12h0m-1 11h0m-2-4h0m-1-1h0m-1-4h0m-6 6h0m-18 2h0m-11-10h0m-2 0h0m-8-1h0m-17 2h0m-56 8h0m-20-3h0m-21 6h0m-41-3h0m-19-6h0m-26 0h0m-4 8h0m0-2h0m-3 3h0m-9-10h0m-56 22h0m19 3h0m7-3h0m17 2h0m70-13h0m28 0h0m22 1h0m5 12h0m6-6h0m11-5h0m49-1h0m12 8h0m2 3h0m4-10h0m1 9h0m12-9h0m1 7h0m0-6h0m1 12h0m12-7h0m1 0h0m3 5h0m5 2h0m11-3h0m50 2h0m9-9h0m2 11h0m4-4h0m10-8h0m50 4h0m10-7h0m1 9h0m24 5h0m12-13h0m69 9h0m647 10h0m-722 3h0m-11 3h0m-24-5h0m-18 9h0m-18-1h0m-2-4h0m-4-4h0m-11-3h0m0-2h0m-2 8h0m0-4h0m-33 9h0m-25 0h0m-2 0h0m-71-13h0m-45 2h0m-20 6h0m-10 5h0m-30 2h0m-26-6h0m-12 4h0m-52-6h0m-1 18h0m0 0h0m42 1h0m3-6h0m74 3h0m28-3h0m4 7h0m4 1h0m42-9h0m4 6h0m13 3h0m1-10h0m42-3h0m6 8h0m1-1h0m14-6h0m16 0h0m18 3h0m8 7h0m51-4h0m127 6h0m16-5h0m607 22h0m-8-4h0m-580 5h0m-40-4h0m-21 3h0m-40-3h0m-68 3h0m-7-12h0m-11 11h0m-11-13h0m-36 7h0m-1 7h0m-24 0h0m-29 0h0m-9 0h0m-20-6h0m-2 0h0m0-1h0m-21 7h0m-5-7h0m-4 3h0m-12 2h0m-8-7h0m-34-4h0m-41 7h0m-2-7h0m-16 5h0m-26 0h0m-16 9h0m-7-2h0m-3-6h0m-5-1h0m-16 1h0m-35 17h0m30 8h0m18-11h0m5 3h0m38 2h0m5 2h0m15-8h0m11 2h0m2 2h0m3-7h0m13 3h0m18 3h0m34-5h0m20 7h0m3-4h0m39-4h0m2 5h0m8-5h0m17 6h0m12-4h0m23 1h0m22 3h0m33 5h0m0-1h0m1 2h0m19-1h0m19-3h0m44-5h0m35 11h0m102-9h0m561 1h0m2 11h0m-436-2h0m-131 11h0m-41 0h0m-25 3h0m-33 1h0m-12-4h0m-17-7h0m-154 12h0m-16-11h0m-15 0h0m-6 11h0m-45-9h0m-1-1h0m-10 7h0m-88-8h0m-50-1h0m-18-2h0m-35 6h0m50 21h0m13 2h0m50-13h0m2 0h0m11-1h0m19 9h0m5-1h0m14 0h0m7-8h0m55 3h0m12 4h0m56-4h0m27 8h0m21-4h0m13 7h0m47-15h0m17 16h0m28-13h0m2 5h0m6 4h0m2-3h0m12-4h0m8 0h0m13 6h0m3-3h0m4 5h0m618-1h0m8-4h0m6 4h0m-12 11h0m-623 3h0m-1-10h0m-60 8h0m-11 8h0m-6-12h0m-11 12h0m-1-6h0m-20-6h0m-16 0h0m-4 6h0m-48-1h0m-6-8h0m-105 9h0m-17 0h0m-31 0h0m-9-2h0m-25-8h0m-27 8h0m-2 6h0m-8-2h0m-17 0h0m-14-7h0m-2-3h0m-5 1h0m26 23h0m44 3h0m37-1h0m24 1h0m3-5h0m1-3h0m58 6h0m3 4h0m8-7h0m84 4h0m86-8h0m8 3h0m86 2h0m3 14h0m-51-1h0m-8 9h0m0-10h0m-31-1h0m-26-1h0m-24 10h0m-32-3h0m-1 0h0m-6 6h0m-32-3h0m-23-2h0m-37 2h0m-14-8h0m-1 2h0m0 9h0m-45-10h0m-48 6h0m-33-5h0m-14 9h0m-10 8h0m26 1h0m62-6h0m3 0h0m47 7h0m22 1h0m3-1h0m51-10h0m48 5h0m35-1h0m3 11h0m27-7h0m11-7h0m1 3h0m86 15h0m-55 12h0m-4-11h0m-36 5h0m-9-5h0m-24 9h0m-4-1h0m-49-1h0m-32-4h0m0 0h0m-61-3h0m-54-3h0m-53 10h0m-4-3h0m-1 6h0m8 4h0m14 1h0m3 4h0m33-2h0m22 10h0m9-13h0m47 10h0m5-3h0m1 2h0m2 1h0m14-11h0m72 4h0m7-2h0m61 2h0m18 4h0m9 4h0m5-9h0m0-3h0m7 6h0m38-6h0m8 7h0m19-7h0m-32 28h0m-15-11h0m-37 10h0m-36-10h0m-61-1h0m-1 15h0m-6-11h0m-49 0h0m-19-1h0m-67 0h0m0 10h0m-6-8h0m-24-1h0m-44 2h0m124 10h0m4 15h0m22-14h0m4 2h0m28-1h0m15 8h0m23-10h0m28 10h0m1-4h0m14 8h0m53-10h0m4-3h0m137-1h0m-118 27h0m-3-9h0m-7 3h0m-125-2h0m-73 3h0m-8 3h0m-1-1h0m-12-3h0m126 25h0m18-12h0m5 12h0m19-2h0m87-2h0m-74 14h0m-58-6h0m-7 8h0m-12-2h0m-41-5h0m140 18h0m360 214h0m-2-7h0m-4 9h0m-4-2h0m-30 18h0m9 11h0m-5-6h0m-2 5h0m-23-2h0m-3-4h0m0 6h0m-105 21h0m50-1h0m42-1h0m22-9h0m-9 27h0m-10-4h0m-77 3h0m29 15h0m1 2h0m1-9h0m0 7h0m7 4h0m1-6h0m7 4h0m31-5h0m-430 27h0m189-2h0" stroke="#ee9a00"/><path d="M859 131h0m161 381h0m-4-6h0m-1 2h0m-17 0h0m-103-8h0m-6 12h0m-10-8h0m-10 5h0m-83-3h0m-35 16h0m2-1h0m3-8h0m19 10h0m9 2h0m0-7h0m23-4h0m37 8h0m34 3h0m2-3h0m4 5h0m11-12h0m3 1h0m2 1h0m14-1h0m3 7h0m20-6h0m2 10h0m8-9h0m55 0h0m1 1h0m4-2h0m2 3h0m1 5h0m2 3h0m0-2h0m2-10h0m2 10h0m4-13h0m0 5h0m1 8h0m4-14h0m4 7h0m-13 15h0m-3 2h0m-8 1h0m-21-8h0m-34 7h0m-2-7h0m-3 8h0m-16-9h0m-3 7h0m-14 3h0m-2-8h0m-12 9h0m-16 0h0m-89-3h0m-13-5h0m-15 9h0m-20-10h0m-15 3h0m-5 9h0m-1-11h0m-3-2h0m-8 10h0m0-2h0m-1 2h0m-8 0h0m-18-3h0m-34 18h0m6 2h0m3-7h0m0 4h0m20-1h0m5-3h0m32-5h0m10 2h0m84 7h0m70 3h0m10-1h0m15-2h0m22 3h0m15-6h0m50-4h0m16 1h0m19 50h0m-3 6h0m-130 0h0m-30 3h0m143 17h0m26-7h0m18 2h0m24-5h0m2 24h0m-5 2h0m-32-14h0m-11-1h0m-16 5h0m0-4h0m-61 2h0m-76 8h0m177 18h0m112 4h0m-28-1h0m57 25h0m-72 10h0m25 20h0m22 3h0m57 4h0m46 0h0m9 3h0m-53 10h0m6 15h0m71 2h0m-66 19h0m-18 0h0m-28-11h0m-11 11h0m-16-14h0m23 20h0m2 2h0m11 6h0m11-9h0m3 9h0m6-8h0m6 9h0m-42 11h0m-28 13h0m24-1h0m61 9h0m49-6h0m36 5h0m30-12h0m3 31h0m-8-2h0m-18-9h0m0 10h0m-10-6h0m-13 1h0m-5-6h0m-36 10h0m-114-2h0m14 17h0m16-13h0m30 10h0m8-8h0m32 11h0m35-6h0m14-2h0m2 10h0m16-13h0m21 6h0m-13 23h0m-10-12h0m-1 7h0m-8-4h0m-1 9h0m-4-2h0m-5-6h0m-3 9h0m-178-13h0m-39-2h0m63 18h0m68 9h0m94-2h0m4 4h0m13-13h0m1 0h0m22 6h0m2 7h0m369 5h0m-359 7h0m-5-1h0m-3-8h0m-15 1h0m-6 2h0m-2 5h0m-3 0h0m-31-2h0m-3-4h0m-6-2h0m-20 2h0m-183 6h0m25 16h0m149-2h0m7 1h0m29 4h0m5 0h0m28-2h0m18-4h0m8-1h0m21 17h0m-24 5h0m-25 0h0m-8-1h0m-3-5h0m-11 7h0m-3-9h0m-4-1h0m-10 22h0m29-6h0m2 3h0m30 0h0m2 11h0m23-13h0m-23 22h0m-39 6h0m-1-6h0m-1 3h0m-20 3h0m-175 11h0m166-2h0m26 1h0m8-9h0m6 7h0m2-5h0m83 2h0m-78 14h0m-24 8h0m-195-9h0m-5 8h0m-22-7h0m-8 5h0m56 37h0m-18-9h0m-5 7h0m-2-2h0m-3-3h0m-7 4h0m-32 5h0m-9 16h0m9 2h0m20-5h0m20 4h0m3-8h0m225 17h0m-54 6h0m-158 0h0m-70 15h0m16-10h0m34 3h0m19-5h0m5-1h0m115 13h0m8 1h0m7-3h0m20-10h0m88 26h0m-4 0h0m-9-2h0m-7 0h0m-18-1h0m-7-7h0m0 8h0m-4 2h0m-19 1h0m-4-2h0m-2 3h0m-4 0h0m-1 1h0m-4 0h0m-8-4h0m-24 6h0m-88-1h0m-58-12h0m-12 7h0m-33 10h0m10 3h0m5 5h0m42-11h0m17 7h0m139 7h0m3-2h0m2-12h0m17 6h0m2-6h0m27 0h0m1 10h0m1 0h0m4-11h0m4 12h0m5-12h0m2 6h0m8 8h0m1-5h0m3 3h0m0-3h0m48-7h0m5 27h0m-48 1h0m-14 0h0m-7-6h0m-6 6h0m-31-6h0m-10-3h0m-2 8h0m-7-13h0m-1 6h0m-8 0h0m-6-1h0m-8 1h0m0 7h0m-4-6h0m-7 3h0m-94 4h0m-17-10h0m-23 3h0m-9-2h0m-1 1h0m-6 5h0m-21 14h0m1 3h0m12 2h0m1-8h0m11 5h0m50-1h0m33 3h0m2-2h0m43-6h0m31-3h0m14 0h0m39 3h0m4 2h0m2-4h0m4 7h0m2 2h0m0-11h0m13 14h0m6 0h0m4-9h0m12 0h0m0 3h0m0-7h0m5 13h0m3-10h0m16-4h0m11 1h0m2 7h0m1-2h0m34 17h0m-6 0h0m-43 6h0m-22-10h0m-8 6h0m-8 6h0m-2-5h0m-1-10h0m-10 2h0m-1 5h0m-4 7h0m-16-8h0m-51 1h0m-3 6h0m-81-10h0m-9 7h0m-6-2h0m-25-5h0m-25-2h0m-16-1h0m-22 13h0m2 17h0m3-2h0m46-8h0m9 0h0m12 4h0m0 4h0m7 1h0m3-14h0m21 8h0m20 7h0m4-12h0m20 10h0m1-7h0m6 6h0m5-3h0m28-9h0m24 12h0m1 4h0m4-8h0m4-1h0m1 5h0m2-3h0m5-4h0m3 6h0m3-4h0m8 3h0m1-1h0m12 3h0m12-11h0m1 12h0m7 0h0m8-5h0m3 0h0m0-4h0m7 0h0m-6 24h0m-13-2h0m-7 2h0m-4 0h0m-14 0h0m-6-5h0m-1 3h0m-11 1h0m-4-4h0m-4-1h0m-1-5h0m-2 11h0m-4-7h0m-2 5h0m-13-9h0m-18 9h0m-2 2h0m-15-9h0m-2 5h0m-29 3h0m-44 2h0m-17-13h0m-1 0h0m-19 14h0m0-11h0m-7 9h0m-8 2h0m-25-2h0m-38-9h0m-1 0h0m2 18h0m8 9h0m5-8h0m4 1h0m4-3h0m2-2h0m18 5h0m38 8h0m10-4h0m10-5h0m2 8h0m3-1h0m0 0h0m9 0h0m30 1h0m12-10h0m1 11h0m1-8h0m0 9h0m28-14h0m4 6h0m10-8h0m1 3h0m1-2h0m0 7h0m18-2h0m3 6h0m3-3h0m36 4h0m5-11h0m7-1h0m8 2h0m4 10h0m13-6h0m9 5h0m6-1h0m-15 6h0m-6 2h0m-13 2h0m-8 5h0m-3-9h0m-1 3h0m-9 0h0m-4 11h0m-15-2h0m-27 2h0m-1-12h0m-2 0h0m-22 5h0m-1-2h0m-22 4h0m-11-6h0m-6-2h0m-12 8h0m-13-8h0m-19 3h0m-6 2h0m-10-5h0m-6 5h0m-5-2h0m-2 10h0m-2-5h0m-5 2h0m-2-12h0m-1 6h0m-7 7h0m-26-2h0m-1 0h0m-15 5h0m-1-12h0m9 23h0m7-4h0m7 2h0m27-4h0m7 2h0m5-3h0m1 9h0m2-9h0m1 12h0m4-1h0m1-13h0m8 9h0m21-10h0m1 14h0m2-11h0m12 9h0m31 0h0m28 2h0m7-5h0m2-4h0m14-1h0m13 6h0m11-5h0m9 7h0m0-1h0m45-1h0m16-2h0m-39 15h0m-14-2h0m0 10h0m-18-13h0m0 0h0m0 1h0m-9 1h0m-2 8h0m-10-9h0m-2 9h0m-16 0h0m-2 1h0m-28-8h0m-24 2h0m-3 0h0m-9 2h0m-9-7h0m-1 9h0m-4-8h0m-12 3h0m-8 4h0m-7-6h0m-5 6h0m-2-10h0m-4 14h0m-10-4h0m-3-5h0m-7-6h0m-7 14h0m64 4h0m8 13h0m5-14h0m2 5h0m9-1h0m2 5h0m1 4h0m4-3h0m17 2h0m3-3h0m60-5h0m1-4h0m7 4h0m14-2h0m2 2h0m13 2h0m4-3h0m2 2h0m-16 15h0m-25 2h0m-54-6h0m-45 7h0m-72-3h0m114 22h0m19-10h0m4 1h0m-42 16h0m-39 8h0m19 17h0m81-8h0m-70 34h0m62-4h0m-621 437h0" stroke="#f0e100"/><path d="M905 129h0m392 566h0m41 69h0m-169 1h0m-60 10h0m28 5h0m0 1h0m2-3h0m20-8h0m5 12h0m0 1h0m1-1h0m1-6h0m3-1h0m3 6h0m1 1h0m191 14h0m-4 0h0m-2 0h0m-1-8h0m-140 12h0m-6-1h0m-3-3h0m-6-2h0m-29 5h0m-4-13h0m-3 11h0m-2-1h0m-3 4h0m-1-10h0m-5 5h0m-2-8h0m-1 9h0m-4-2h0m0-9h0m-1 12h0m0-6h0m-2 8h0m-1-3h0m-1-4h0m-3-5h0m-29 1h0m4 21h0m18 4h0m3-11h0m0 6h0m1-6h0m18 4h0m4 3h0m13 0h0m0-4h0m2-4h0m29 7h0m3-5h0m7 5h0m1 6h0m5 1h0m8-7h0m130-7h0m5 3h0m0 3h0m1-3h0m1-4h0m1 2h0m4 0h0m-5 20h0m-125 3h0m-15-8h0m-14 3h0m-14 0h0m-5 5h0m-20 5h0m-14-10h0m20 16h0m65 6h0m47 1h0m77 5h0m-46 11h0m-44-1h0m-2 2h0m-4-4h0m-8 2h0m-12-3h0m-39 7h0m-6 1h0m-15-13h0m-20 10h0m-14 3h0m-14-6h0m-4-3h0m-2 4h0m-4 6h0m-36 0h0m-2-2h0m27 17h0m24-12h0m8 0h0m8 12h0m1-8h0m1 9h0m0-11h0m5-2h0m2 10h0m45 0h0m7-6h0m1 9h0m5-3h0m12-2h0m16-2h0m5 7h0m10-2h0m3-5h0m6 5h0m18-8h0m22 7h0m0 2h0m10-5h0m3 3h0m2-7h0m73 10h0m-55 8h0m-10 3h0m-53-8h0m-1-1h0m-3 4h0m-6 1h0m-9-2h0m0 8h0m-4-1h0m-3 3h0m-11-15h0m-7 7h0m-5-5h0m-7 13h0m-4 1h0m-1-11h0m-4 2h0m0 1h0m-3-7h0m-1 4h0m-6 5h0m-9-6h0m-10-1h0m-8 0h0m-6 2h0m0-2h0m-22-1h0m-2 3h0m-4-3h0m-5 5h0m-2-6h0m-19 14h0m-5-2h0m-2-10h0m-6 6h0m-1-1h0m8 13h0m8 7h0m0-7h0m8 4h0m7-1h0m1 4h0m3-6h0m0 9h0m15-6h0m20-3h0m6-1h0m2 5h0m4 3h0m1-2h0m6 4h0m12 0h0m2-11h0m1 6h0m5 2h0m3-5h0m6 5h0m2-9h0m6 2h0m4 0h0m6 3h0m1-5h0m6 1h0m5 3h0m2-7h0m13 13h0m13-12h0m45 7h0m25-6h0m9 5h0m-20 12h0m-57 9h0m-6-2h0m-13-4h0m-1-5h0m-3 0h0m-23 1h0m0 5h0m-4 9h0m-1-15h0m0 0h0m-7 10h0m-6-9h0m-3 5h0m-13 3h0m-5-7h0m0 6h0m-16-7h0m-2 0h0m-2 5h0m0-2h0m-13 2h0m-14 2h0m-16 6h0m-7-12h0m-5-2h0m-11 12h0m-1-3h0m-4 4h0m-6-8h0m0 10h0m-9-8h0m-33 12h0m10 5h0m8 5h0m12-12h0m16 6h0m12 7h0m12-11h0m5 2h0m10 0h0m13 4h0m3-8h0m1 4h0m2 9h0m5-11h0m17 3h0m1-1h0m2 9h0m2-7h0m1-5h0m8 2h0m11 9h0m1-9h0m18 4h0m11-2h0m12-7h0m7 0h0m9 14h0m7-6h0m2-2h0m15 7h0m18-2h0m3 3h0m2-9h0m25 6h0m4 2h0m40 18h0m-10-6h0m-2-4h0m-61 10h0m-2-6h0m-6 0h0m-13-8h0m-14 8h0m-28 4h0m-4 0h0m-3-10h0m-6-3h0m-4 14h0m-2 1h0m-2-13h0m-5 11h0m-8-4h0m0 4h0m-1-1h0m-5 3h0m-28-6h0m-10 2h0m-2-10h0m-3 15h0m-2-12h0m-1 4h0m0 0h0m-1 8h0m0-7h0m-1 3h0m0-8h0m-3 8h0m-12 1h0m-26-6h0m-20 5h0m-27 2h0m-9 4h0m23 7h0m5-8h0m2 13h0m23 0h0m3-3h0m8-11h0m1 8h0m3-5h0m0 8h0m14 2h0m15-12h0m10 12h0m2-12h0m12 4h0m0 6h0m4-6h0m9 4h0m9 6h0m1 0h0m24-7h0m5 7h0m4-2h0m0-1h0m2 1h0m1-3h0m6 0h0m2-5h0m1 10h0m2 0h0m5-2h0m0-4h0m8 7h0m8-6h0m0-3h0m3 0h0m47-1h0m1 4h0m43 2h0m6-5h0m-23 9h0m-5 16h0m-31-13h0m-18 13h0m-25-10h0m-16-5h0m-2 8h0m-2-4h0m-3 7h0m0 1h0m-4-8h0m-7 1h0m0 3h0m-3-3h0m-16-2h0m-3 10h0m-28-6h0m-27 6h0m-7-14h0m-7 5h0m-2 10h0m0-13h0m-1 8h0m-7-7h0m-4 2h0m-1 2h0m-13 8h0m-22-6h0m-21-4h0m-23 3h0m31 11h0m2 8h0m24-5h0m12 7h0m5-12h0m8 12h0m12-12h0m3 4h0m0 2h0m2-1h0m7-5h0m3-1h0m1 0h0m2 2h0m4 0h0m6 13h0m0-13h0m16 6h0m8-6h0m8 1h0m1 4h0m2 7h0m1-13h0m8 13h0m10 1h0m2-1h0m7-11h0m1 7h0m2-10h0m13 12h0m5 3h0m2-7h0m11 7h0m14-11h0m23 6h0m10-5h0m26-2h0m0 13h0m3-7h0m6 0h0m-11 17h0m-6 6h0m-7 0h0m-26-13h0m-5 10h0m-4-11h0m-6 10h0m-4-9h0m-8-2h0m0 6h0m-15-1h0m-1 9h0m-1-10h0m-1 4h0m-3-1h0m-3-1h0m-1 1h0m-2 7h0m-2-12h0m0-1h0m-2 12h0m-1-10h0m0 5h0m-3 4h0m-2-1h0m-3 4h0m-2-6h0m-2-7h0m-5 6h0m-3-3h0m-2 4h0m-3 0h0m-8-9h0m0 14h0m-27-12h0m-4-2h0m-1 8h0m-2-2h0m0 1h0m-21-4h0m-7 3h0m-3-1h0m-1 7h0m-6-9h0m-21 10h0m-27-3h0m-8 20h0m15-11h0m4 3h0m17-2h0m16 2h0m0 0h0m5 1h0m1 1h0m0-2h0m15-3h0m10 3h0m1 4h0m6-2h0m10 5h0m10-6h0m4 2h0m3-6h0m10 12h0m0-14h0m11 1h0m5 5h0m20 2h0m5 4h0m5-5h0m0-2h0m5 0h0m10-7h0m15 15h0m3 1h0m0-11h0m7-4h0m22 4h0m18 8h0m0-4h0m2 2h0m1 2h0m0-5h0m4-4h0m3 0h0m1 6h0m17 1h0m32 20h0m-42-6h0m-15 2h0m-29-10h0m-1 6h0m-9-7h0m-1 4h0m-9 2h0m-10-5h0m-10 11h0m-10-2h0m-3-10h0m-16 15h0m-8-9h0m-22 2h0m-3 0h0m0-2h0m-5 1h0m-21-1h0m0 6h0m-1-2h0m-2 5h0m-2-10h0m-3-3h0m-12 5h0m-1-5h0m-23 5h0m-14 7h0m-8 1h0m-3 0h0m-57-6h0m37 14h0m2 0h0m5 1h0m10-3h0m10-3h0m26 13h0m11-7h0m1 5h0m18 2h0m4-11h0m3 2h0m9 3h0m18 3h0m2 3h0m7-13h0m1 10h0m3-11h0m7 14h0m1-10h0m12-4h0m0 8h0m1 0h0m5 0h0m10-2h0m15 4h0m5-9h0m1 12h0m5-4h0m19-8h0m15 1h0m8 1h0m13 0h0m48-4h0m-107 19h0m-9 6h0m-3-9h0m-7 5h0m-12 8h0m-12-10h0m-5 12h0m-3-10h0m-11 1h0m0 8h0m-3-8h0m-3 1h0m-5-3h0m-10-1h0m-7 6h0m-11-2h0m-9 6h0m-2 3h0m-4-5h0m-2-5h0m-7 6h0m-5 0h0m0 1h0m-3-13h0m-2 6h0m-1 7h0m-2-3h0m-1-9h0m-3 7h0m-26-5h0m-10 6h0m-5-7h0m-3-1h0m-8 13h0m-7-7h0m-5-7h0m-15 12h0m12 17h0m5 0h0m14 1h0m1-6h0m9-6h0m1 3h0m1 10h0m6-13h0m4 2h0m10 10h0m1-5h0m7-6h0m1-2h0m3 7h0m11 0h0m2-2h0m3 9h0m1-12h0m2 6h0m3 6h0m4-13h0m0 0h0m2 0h0m3 12h0m12 1h0m15-13h0m1 12h0m5-7h0m4-1h0m2 8h0m4-3h0m7-1h0m0-10h0m5 13h0m5 1h0m2-8h0m7 3h0m25-4h0m10 2h0m13 6h0m2 1h0m23-1h0m14-5h0m2 1h0m14 1h0m10 5h0m65-9h0m1 4h0m1-4h0m3 3h0m1 20h0m-1-2h0m-4-5h0m-16 6h0m-1 3h0m-2-6h0m-2-2h0m-5-3h0m-46 2h0m-16 8h0m-26-4h0m-10-8h0m-2 0h0m-5 9h0m-15-1h0m-9-5h0m-13 3h0m-24 2h0m0-10h0m-16 3h0m-3 9h0m-2-10h0m0 0h0m-15 3h0m-13 5h0m-4 4h0m-5-9h0m-5 8h0m-2-8h0m-6-4h0m-11 2h0m-3 8h0m-14-8h0m-1 4h0m-5-4h0m-1 4h0m-9 6h0m-48 4h0m22 3h0m1 9h0m1-9h0m55 9h0m18-4h0m5-7h0m8 1h0m9 2h0m7 6h0m8 1h0m2 4h0m5-13h0m7 11h0m15 2h0m12-1h0m4-3h0m9 0h0m22-12h0m1 14h0m1-7h0m4 0h0m35 8h0m15-10h0m3 8h0m1-2h0m0 2h0m4 3h0m4-4h0m56 18h0m-5-1h0m-60-7h0m-56 0h0m-79 4h0m-4-5h0m-1 8h0m0-3h0m-1 2h0m-13-5h0m-9-1h0m-2 2h0m-13-7h0m-2 3h0m-37 11h0m-5 0h0m-20-1h0m-15-8h0m16 20h0m45-2h0m51-1h0m3 7h0m13 0h0m5-10h0m22 11h0m4-1h0m42-12h0m-39 17h0m-2 4h0m-2-2h0m-1 5h0m-24 3h0m-27 3h0m-14-13h0m0 2h0m-28 8h0m-38-9h0m-4 16h0m21 10h0m2-8h0m14 0h0m5 7h0m2-11h0m16 12h0m3-3h0m3-11h0m13 1h0m2 1h0m9 13h0m23-9h0m15 5h0m26 20h0m-17-12h0m-1-3h0m-20 2h0m-5 7h0m-9-9h0m-12 13h0m-24-3h0m-21-7h0m-42 2h0m2 12h0m12 9h0m50 2h0m2-6h0m9 2h0m3 3h0m9-4h0m3 4h0m4-8h0m3 8h0m3 2h0m16-8h0m4-2h0m10 27h0m-9 1h0m-13-1h0m-5-5h0m-2-8h0m-21 9h0m-2-8h0m27 16h0m-12 26h0m-25-6h0" stroke="#009e73"/><path d="M796 137h0m-434 165h0m531 194h0m-15 7h0m-114 3h0m6 19h0m40-2h0m30-1h0m1-1h0m2-5h0m23 2h0m23 2h0m4 3h0m111 8h0m-48 5h0m-2-6h0m-4 6h0m-1-2h0m-15 2h0m-4-7h0m-13 3h0m-15-1h0m-16 4h0m-36-1h0m-50-1h0m-36-3h0m-38 8h0m-15-7h0m-448 1h0m419 13h0m12 5h0m45 6h0m9-4h0m58 7h0m53-8h0m28-5h0m6-1h0m37 7h0m15-6h0m9 4h0m40 6h0m19-1h0m20 5h0m711-1h0m-700 11h0m-51-3h0m-43-2h0m-5-2h0m-74-1h0m-16 13h0m-21-13h0m-9 6h0m-26-2h0m-10 1h0m-18-3h0m-37 6h0m-18 1h0m22 9h0m16 11h0m6-12h0m9 4h0m12 3h0m3-1h0m2-5h0m46 5h0m17-6h0m18-1h0m32 8h0m158-2h0m14-4h0m22 27h0m-19-2h0m-12 0h0m-8 1h0m-10-3h0m-5-11h0m-6 6h0m-1 1h0m-6 3h0m-1-6h0m-1 3h0m-19 5h0m-25-1h0m-35 2h0m-6-8h0m-142 7h0m-10-11h0m-4 0h0m-63 4h0m88 23h0m48-9h0m4 6h0m29-5h0m107-1h0m0 13h0m16-14h0m13 6h0m15-2h0m34 2h0m0 2h0m14-3h0m51-3h0m13 5h0m-8 11h0m-59-4h0m-9 13h0m-6 2h0m-16-11h0m-3 3h0m-8 9h0m-6-1h0m-15-4h0m-26-5h0m-1 2h0m-4-3h0m-2 7h0m-41 3h0m-19-12h0m-37 6h0m-16 4h0m-8 0h0m-178 19h0m30-8h0m7 2h0m34-5h0m0 8h0m15 1h0m7-12h0m17 6h0m113-6h0m38 5h0m30 2h0m19-8h0m4-1h0m9 1h0m7 3h0m9 7h0m1-2h0m3 3h0m6 4h0m1-1h0m2-1h0m6 1h0m3-3h0m6-6h0m0-2h0m6 3h0m0-5h0m13-2h0m42 5h0m27 1h0m4 5h0m-64 14h0m-2-8h0m-11 13h0m-27-2h0m-106 1h0m-76 2h0m-82-10h0m-3 8h0m-13 0h0m-2-2h0m-7 3h0m-12-4h0m-6-3h0m-57 4h0m-9-7h0m-14 9h0m-12 1h0m-13-5h0m18 16h0m6-3h0m14-3h0m19 4h0m5-1h0m25 10h0m14-15h0m13 14h0m7-10h0m2 4h0m27-8h0m1 4h0m0 2h0m0 0h0m29 8h0m226-10h0m20 3h0m48 8h0m1-16h0m137 13h0m13-3h0m-174 7h0m-146-1h0m-26 8h0m-152 1h0m-37-2h0m-18-5h0m-7 7h0m0 5h0m0-13h0m-1 0h0m-2 3h0m-8 10h0m-21-7h0m-18-6h0m-3 8h0m-3-2h0m10 15h0m0-4h0m7 3h0m3 9h0m11-12h0m10 1h0m3 2h0m22 6h0m19-7h0m16 9h0m26-11h0m13 10h0m120 3h0m4-13h0m134 17h0m-58 10h0m-48-3h0m-62 5h0m-16-2h0m-83-11h0m-23 7h0m-4 3h0m-6-3h0m-46-2h0m-10-7h0m-10 9h0m-11-8h0m-13 13h0m-11-12h0m-2 25h0m20-1h0m16-1h0m1 6h0m0-5h0m3 6h0m7-2h0m1-11h0m10 2h0m1 3h0m3-2h0m1 0h0m0 3h0m2 6h0m1-1h0m9-9h0m2 7h0m12 1h0m8 2h0m122-5h0m45 5h0m5-2h0m69-6h0m3 8h0m288-13h0m14 4h0m17 24h0m0-9h0m-114 7h0m-163-12h0m-34 10h0m-10 2h0m-13-8h0m-5 2h0m-45 7h0m-2-2h0m-5 3h0m-17-13h0m-1 3h0m-21 4h0m-2 8h0m-11-1h0m-5-11h0m-55 4h0m-20-2h0m-51-1h0m-7-2h0m-21 4h0m-2-1h0m-3 10h0m-3-4h0m-9-8h0m-7 0h0m-2 2h0m-2 3h0m0-7h0m-3 8h0m-1-3h0m-20-1h0m-3-3h0m-10 1h0m16 27h0m14-4h0m3 2h0m4-5h0m1-8h0m0 8h0m11 6h0m3-1h0m1-7h0m3 7h0m2 0h0m14 3h0m2-7h0m27-7h0m8 3h0m1 3h0m10-3h0m1 2h0m2 4h0m41 1h0m13-11h0m24 11h0m5-6h0m5 9h0m1-13h0m3 6h0m36-1h0m4-5h0m9 8h0m11 1h0m0-7h0m3 6h0m4-7h0m13-1h0m2 5h0m2 7h0m0-12h0m14 6h0m0 1h0m6 2h0m10-10h0m11 9h0m8 1h0m1-2h0m4-2h0m3 9h0m21-16h0m212 12h0m94-11h0m-43 16h0m-272 7h0m-8-1h0m-2 3h0m-21 5h0m-11-5h0m-16 2h0m-14-8h0m-1 6h0m-1 4h0m-2-11h0m-1 3h0m-1-6h0m-12 6h0m-2 3h0m-3 5h0m-20-11h0m0 9h0m-5-7h0m-15 5h0m-4-3h0m-1-6h0m-12 5h0m-10 6h0m-62 1h0m-10-5h0m-3-2h0m-6 8h0m-3-6h0m-7 7h0m-47-10h0m-17-4h0m-3 0h0m0 10h0m-11-6h0m-2 0h0m-6 1h0m-4 10h0m-13-3h0m25 13h0m25-3h0m2 1h0m4 4h0m15 3h0m27-13h0m3 14h0m4-9h0m7 5h0m2 0h0m14-7h0m69 6h0m4 2h0m6 2h0m12-2h0m26-6h0m5 9h0m6 0h0m3-5h0m2-7h0m12 8h0m9-2h0m26 3h0m20-5h0m328-1h0m-16 14h0m-298 10h0m-3-6h0m-11 1h0m-3 4h0m-9 1h0m-6-12h0m-6 11h0m-3 1h0m-5 0h0m-7-14h0m-10 3h0m-5 7h0m0 0h0m-4-10h0m-35 6h0m-3 7h0m0-2h0m-2-1h0m-9-1h0m-11 0h0m-10-4h0m-8-4h0m-43-2h0m-12 15h0m-9-2h0m-23-13h0m-5 8h0m-13-4h0m-26 3h0m-6 5h0m-4-3h0m-18 2h0m-12-8h0m-14 6h0m-9-5h0m-1 27h0m6-5h0m8-10h0m1 13h0m7-9h0m4 8h0m9-9h0m21-1h0m35 10h0m4-2h0m1-1h0m2 0h0m1-7h0m4 6h0m4-6h0m2 9h0m0-5h0m92 2h0m0-7h0m8 10h0m0-7h0m2 2h0m14-4h0m22 4h0m17 1h0m1-4h0m2 8h0m0-9h0m2 7h0m9-1h0m1 4h0m6-3h0m5 3h0m22 4h0m13-9h0m6 1h0m22 2h0m32-4h0m-35 11h0m-6 9h0m-29-5h0m-20 0h0m-5 10h0m-2-13h0m-6 13h0m-6-10h0m-11-1h0m-12-3h0m-21 1h0m-10 11h0m-18-7h0m0 7h0m-34 0h0m-19-2h0m-3-4h0m-12 2h0m-6-5h0m-2 1h0m-3 4h0m-8 0h0m-22-3h0m-2 4h0m-13 6h0m-4-14h0m-5-1h0m-11 5h0m-18 3h0m-5-6h0m-2 3h0m-3-4h0m-16 12h0m-15-6h0m-1 6h0m3 8h0m5-3h0m3 13h0m3-5h0m7-2h0m36-1h0m9-7h0m6 1h0m11 10h0m3-2h0m5 6h0m6-14h0m3 13h0m13-10h0m3 4h0m13 5h0m4 1h0m5 0h0m3-2h0m32-9h0m2 7h0m29-2h0m7 1h0m4-6h0m1 0h0m15 8h0m9-3h0m9 4h0m11 2h0m9-8h0m10 6h0m6-2h0m1-9h0m19 8h0m1-1h0m1-5h0m7 6h0m2 3h0m6-6h0m52-1h0m61-2h0m288 7h0m-368 17h0m-1-9h0m-7 11h0m-18 1h0m-4 0h0m-29-7h0m-8 1h0m-7 5h0m-5-7h0m-11 0h0m-10-7h0m-1 12h0m-6 3h0m-2-1h0m-9-13h0m-1 3h0m-26 7h0m-6 4h0m-24-12h0m-7 13h0m-20-1h0m-1-5h0m-2-3h0m-3-2h0m-3-3h0m-1 1h0m0 6h0m-2 1h0m-11-3h0m-1-6h0m-4 8h0m-15-2h0m-13-3h0m-6 7h0m0-9h0m-2 12h0m-2-11h0m-5 5h0m-26 7h0m-5-8h0m-8 7h0m0-3h0m-5-3h0m-19-4h0m-16 8h0m2 6h0m2 12h0m10-13h0m3 8h0m2-3h0m2 8h0m4-13h0m5 10h0m27-10h0m8 8h0m1 3h0m2-11h0m0 10h0m6 1h0m12-8h0m1-3h0m4 15h0m7-6h0m2 5h0m2 0h0m0 1h0m23-5h0m16 4h0m23-13h0m6 3h0m0 0h0m0 0h0m2-3h0m0 1h0m7 1h0m1 3h0m8 2h0m12-3h0m33 4h0m1-1h0m2-5h0m7 11h0m2-13h0m1 5h0m2 1h0m1 5h0m2-3h0m23-9h0m1 7h0m9 5h0m13-10h0m3 8h0m10-3h0m23-2h0m34 13h0m-29 1h0m-2 2h0m-1 4h0m-4-6h0m-26 4h0m-2-8h0m-4 13h0m-7 2h0m-12-7h0m0-6h0m-2 4h0m-1-4h0m-3 6h0m-10 5h0m-6-9h0m-2 9h0m-16 0h0m-2-11h0m-3 0h0m-2 10h0m-6 2h0m-1-12h0m-7 7h0m-8 4h0m-25-4h0m-1-6h0m-1 7h0m-10 4h0m-3 0h0m-18-13h0m-5 4h0m-1 2h0m-7 6h0m-13-10h0m0 7h0m-6-9h0m-13 3h0m0 3h0m-11 3h0m-22 5h0m-8-7h0m-7 5h0m-50 10h0m63-1h0m8 0h0m24-3h0m9 12h0m3-14h0m68 0h0m7 13h0m1-9h0m4-2h0m10 11h0m7-5h0m13 4h0m2-1h0m0-2h0m5-2h0m11-1h0m23-5h0m13 3h0m1-1h0m22 3h0m7 6h0m6-1h0m28-5h0m-8 9h0m-19 10h0m-2 5h0m-29-11h0m-16 3h0m0 2h0m-20 6h0m-18 0h0m-1-4h0m-7-4h0m-2 3h0m0 2h0m0-6h0m-7-3h0m-39-1h0m-12 11h0m-34-7h0m0-4h0m-3 7h0m-3-3h0m-9 4h0m-1-2h0m-19 5h0m-15 2h0m-7-6h0m-3-7h0m-7 7h0m-5 2h0m-29-2h0m0-8h0m-45 7h0m1 11h0m15 6h0m60-5h0m1-1h0m0 9h0m2 2h0m5-4h0m9 3h0m9-9h0m2 7h0m34 1h0m13-3h0m20-6h0m6 2h0m0-1h0m12-1h0m45 7h0m1-6h0m11 1h0m7 5h0m6 2h0m0-11h0m59 8h0m14-9h0m427 17h0m-466 1h0m-17 6h0m-6-1h0m-11 4h0m-11-5h0m-3 8h0m-7 0h0m-65-2h0m0-6h0m-15 9h0m-3-11h0m-10 6h0m-33-2h0m-7-3h0m-5-2h0m-2 7h0m-12 5h0m-3-13h0m-1 2h0m-1 3h0m-8 7h0m-6-14h0m-29 4h0m-3 2h0m-1-2h0m-3-3h0m-17 23h0m4-2h0m1 7h0m40-12h0m2 3h0m3 3h0m6 1h0m4 5h0m3 2h0m6 0h0m2-5h0m10-6h0m5 3h0m2 1h0m5 5h0m1-4h0m5 5h0m18 1h0m18 0h0m34-11h0m2 5h0m3-6h0m2 4h0m2 6h0m5-2h0m10-9h0m0 9h0m3-5h0m10-6h0m4 9h0m13 2h0m2-10h0m1 14h0m2-13h0m4-1h0m5 9h0m6-1h0m1 4h0m31-3h0m6 0h0m38 1h0m21-10h0m33 3h0m338 12h0m-386 12h0m-8-3h0m-57-4h0m-88 3h0m-2 6h0m-11-4h0m-38-2h0m-3 6h0m-1 0h0m-11-10h0m-17 9h0m-14-4h0m-2 1h0m-1-4h0m-10-1h0m-16 8h0m-4-4h0m-37-1h0m-5 3h0m18 21h0m12-15h0m25 3h0m8 0h0m8 7h0m81-8h0m4 2h0m18 6h0m21 2h0m2-6h0m24 4h0m8-2h0m1-5h0m7 5h0m1 5h0m3 2h0m40-7h0m71 0h0m32 11h0m-17 4h0m-4-4h0m-61 8h0m-59-5h0m-3-5h0m-38 7h0m-7-6h0m0-3h0m-6 2h0m-5 3h0m-3 7h0m-1-11h0m-1 12h0m0 3h0m-11-2h0m-9-8h0m-4 5h0m-23 2h0m-68-11h0m-1 12h0m-9-12h0m-7 8h0m-12 3h0m-8 0h0m-48 1h0m85 4h0m7-2h0m68 2h0m4 5h0m40 4h0m34-5h0m5-3h0m28 13h0m86-13h0m3 5h0m39 2h0m342-9h0m-404 26h0m-10-1h0m-43 1h0m-118-3h0m-8 1h0m-42 4h0m-86-8h0m212 26h0m1-7h0m65 6h0m416-6h0m-284 24h0m-138 0h0m-15-15h0m-74 13h0m-76-11h0m-20 2h0m-8 3h0m98 10h0m158-2h0m58 29h0m-1 2h0m-290-11h0m31 19h0m3 0h0m53 6h0m41-9h0m96 10h0m-58 3h0m-29 14h0m-24-11h0m-114 1h0m-46 11h0m-5-10h0m-3-3h0m-28 11h0m-17-4h0m-3-3h0m-2 2h0m-17-5h0m-30 5h0m-3 18h0m31-4h0m19 7h0m26-2h0m18 1h0m2-12h0m8 12h0m9-9h0m7 11h0m22-5h0m11 4h0m302-3h0m-103 8h0m-254 5h0m-3-1h0m-12 6h0m-2 1h0m-7-6h0m-7-6h0m-1 5h0m-27-3h0m-13 8h0m-8-9h0m-5 11h0m-2 0h0m-2-1h0m-4 11h0m1 0h0m0-7h0m5 10h0m6-10h0m11 12h0m9-6h0m34-3h0m14-2h0m6 7h0m3 5h0m2-5h0m5 3h0m5 0h0m4-11h0m19 4h0m2-2h0m22-3h0m78 2h0m20 8h0m29-8h0m844 24h0m-663 2h0m-58-7h0m-45 7h0m-154 3h0m-19-8h0m-11 8h0m-54-1h0m-8-8h0m-11-2h0m-19-2h0m0 2h0m-30-3h0m-51 2h0m4 18h0m1 8h0m11-11h0m10 10h0m5 3h0m92-11h0m127 4h0m13 7h0m21-3h0m11 0h0m8 2h0m6-3h0m3 2h0m20-11h0m1 14h0m37-16h0m10 1h0m7 8h0m11 4h0m11 3h0m12-14h0m1 1h0m96 0h0m23 0h0m32-3h0m33 13h0m11 17h0m-49-5h0m-57 1h0m-29-6h0m-1 1h0m-14 6h0m-10-1h0m0-4h0m-2 2h0m-41 4h0m-2-1h0m-5-5h0m-2 9h0m-1-8h0m-3 7h0m-5 0h0m-12-9h0m-14 7h0m-2 2h0m0-4h0m-6-8h0m-13 11h0m-2 0h0m-2-6h0m-3 8h0m-5-9h0m0 6h0m-13-11h0m-14 3h0m-38 4h0m-102-3h0m-44 11h0m-2-2h0m-13-8h0m-12-4h0m-11 5h0m0 4h0m-7-1h0m-2 5h0m-10-6h0m-26-2h0m-3-4h0m-3 10h0m-4-8h0m-1 9h0m-7-11h0m-2-1h0m-37 19h0m77 10h0m12-11h0m7 7h0m8 3h0m19-5h0m1 0h0m8-4h0m18 1h0m46 6h0m17-1h0m18 0h0m23-6h0m30-2h0m28 11h0m4 0h0m12-8h0m4 3h0m6 7h0m28-5h0m32 5h0m9-15h0m0 5h0m11 1h0m5-3h0m4 9h0m1-8h0m3 8h0m7-3h0m7-4h0m6 1h0m7 8h0m7-11h0m0 10h0m6-3h0m6-9h0m45 2h0m7 10h0m18-11h0m17 12h0m14-14h0m7 1h0m20 7h0m87 3h0m426-10h0m0 23h0m-11-9h0m-427 2h0m-43 5h0m-42-1h0m-9 0h0m-45-2h0m-7 4h0m-2 3h0m-55-1h0m-1-4h0m-4 6h0m-15-8h0m-9-2h0m-2 2h0m-14 6h0m-8-9h0m-7 1h0m-7 6h0m-1-7h0m-6 15h0m-10-14h0m-2-1h0m-1 4h0m-12-1h0m-1 4h0m-1 7h0m-10-12h0m-3 8h0m-6-9h0m-8 8h0m0 2h0m-1 4h0m-32-14h0m-49 3h0m-13 2h0m-11 7h0m-10 2h0m-1-13h0m-2 10h0m-29-4h0m-8 5h0m-2-14h0m-11 3h0m-8 13h0m-21-15h0m-11 5h0m-16 4h0m-19-3h0m-1 1h0m-6-6h0m-3 8h0m69 16h0m21 2h0m6 1h0m1-8h0m5-3h0m16 0h0m14 1h0m50 11h0m2-11h0m2 8h0m5 1h0m26-9h0m1 6h0m2-5h0m14 11h0m0-8h0m4 6h0m5 1h0m4-1h0m2-5h0m16-6h0m4 11h0m1 1h0m4-11h0m7-1h0m0 14h0m2-4h0m17-2h0m7 3h0m6-11h0m24 11h0m24-3h0m2-7h0m7 6h0m38-2h0m6-2h0m9-4h0m37 6h0m14 0h0m19 6h0m37-6h0m8 22h0m-22-5h0m-94 7h0m-23-14h0m-9 9h0m-6-7h0m-13-2h0m-15 8h0m-21-6h0m-6-1h0m-1 9h0m-3-7h0m-4 6h0m-13-8h0m-3 7h0m-14 4h0m-2-3h0m-3 4h0m-3-2h0m-1-2h0m-3 4h0m0-10h0m-4 2h0m-1 8h0m-2-5h0m-10-3h0m-26 8h0m0 0h0m-38-12h0m-10 2h0m-6-3h0m-27 10h0m-3-5h0m-5-1h0m-1 7h0m-5-4h0m0-8h0m-1 1h0m-1 8h0m-6-3h0m0 10h0m-16-7h0m-12-7h0m-31 0h0m-20 6h0m34 12h0m2 7h0m4-4h0m17-3h0m52 1h0m5 9h0m1 1h0m7-14h0m64 3h0m6 11h0m2-1h0m17-11h0m4 1h0m1 5h0m8 1h0m7-5h0m0 1h0m2 5h0m2-10h0m1 6h0m1-7h0m1 9h0m4-6h0m4-1h0m3 13h0m18-4h0m3 0h0m20 2h0m9-13h0m3 11h0m0-5h0m1-1h0m9 3h0m2-1h0m5 3h0m19-4h0m6 8h0m3-8h0m14 6h0m49-4h0m19-3h0m20-1h0m33 9h0m44 13h0m-34-9h0m-6 5h0m-19 1h0m-12 0h0m-8 3h0m0 5h0m-43-2h0m-17 2h0m-4 0h0m-40 0h0m-15-8h0m-3-4h0m-10-2h0m-11 12h0m-9-6h0m-14 7h0m-18 0h0m-2-2h0m-2-7h0m-7 9h0m-5 0h0m-1-9h0m-13 5h0m-67 3h0m-41-5h0m-6 6h0m-17-7h0m-9-4h0m-1 11h0m-6-7h0m-4 2h0m-21 5h0m-1-11h0m-5 3h0m-12-6h0m-13 10h0m-3 5h0m-8-7h0m-12 7h0m-3-11h0m-30-3h0m44 27h0m15 2h0m14-5h0m5-5h0m2-1h0m8 0h0m11 7h0m18 1h0m3-10h0m6 6h0m3-3h0m2 3h0m3 2h0m0 0h0m9-7h0m8 11h0m2-7h0m2 1h0m0 1h0m34 4h0m27-10h0m6 12h0m3-12h0m16 11h0m1-8h0m7 8h0m40-7h0m4 3h0m11 4h0m13-4h0m6-6h0m2 4h0m6 5h0m3-6h0m31 8h0m9-3h0m35-3h0m60 1h0m10-3h0m15-2h0m1-3h0m26 17h0m-12-2h0m-7 3h0m-12 3h0m-12 3h0m-22 3h0m-1 3h0m-11-5h0m-22-6h0m-1 6h0m-28 4h0m-34-1h0m-42-10h0m-4 2h0m-6 5h0m-7 1h0m-8-5h0m-5 1h0m-7 8h0m-3-7h0m0 0h0m0-1h0m-1-2h0m-3 4h0m-67-2h0m-4-4h0m-5 4h0m-12 5h0m-13-11h0m-12 2h0m-3 6h0m0-5h0m-12 12h0m-2-12h0m-9 7h0m-1 0h0m-13-3h0m-15 1h0m-14-9h0m-3 3h0m-1-1h0m-1 5h0m-15-6h0m-5 1h0m-6 2h0m-17-1h0m-6 9h0m-11 10h0m2 3h0m16-6h0m33 6h0m7-3h0m14 10h0m7 0h0m1-5h0m2-10h0m5 0h0m0 1h0m27 13h0m9-14h0m6 6h0m3 1h0m9 7h0m1-12h0m7 12h0m5-8h0m7 6h0m6-10h0m2 6h0m5-2h0m16-3h0m3 8h0m17 3h0m15-4h0m0 3h0m30-10h0m7 1h0m11 3h0m6-1h0m12 6h0m11-1h0m15 3h0m71-8h0m14 6h0m16-10h0m8 0h0m1 1h0m1-3h0m5 0h0m2 12h0m0-11h0m6 5h0m1-1h0m8-4h0m-24 17h0m-4 1h0m-7 1h0m-1 5h0m0 5h0m-8-6h0m-45 3h0m-55-1h0m-18 3h0m-2-11h0m-1 12h0m-1-1h0m-8-2h0m-23-10h0m-8 4h0m-27 2h0m-14 2h0m-14-3h0m-3 9h0m-4-4h0m-11-12h0m-6 1h0m-2 5h0m-11-3h0m-3 9h0m0-2h0m0 2h0m-4-10h0m-8 11h0m-38-12h0m-14 13h0m-3 0h0m-5-9h0m-9 2h0m-5 3h0m-5-4h0m-32-4h0m0 9h0m0-11h0m-8 1h0m21 29h0m49-2h0m4-12h0m3 0h0m3 16h0m0-1h0m3-13h0m3 12h0m13 1h0m15-6h0m1 3h0m14 3h0m13-4h0m8-2h0m3 7h0m3-5h0m12 3h0m10-7h0m50-5h0m5 4h0m1 4h0m12 5h0m5-2h0m2-11h0m14 1h0m21 13h0m69-9h0m14 0h0m10 7h0m2-9h0m-3 19h0m-25-7h0m-52 14h0m-17-15h0m-8 8h0m-3-3h0m-14 1h0m-17-3h0m-11 12h0m-12-12h0m-7 9h0m-44-8h0m-3 10h0m-4-9h0m-20 1h0m-8-1h0m-6 10h0m-4-9h0m-12-4h0m-25 0h0m-25 11h0m-5-5h0m-35-3h0m53 27h0m10-9h0m20-1h0m8-5h0m26 1h0m3 1h0m9 5h0m14-7h0m22 9h0m2-9h0m2 7h0m5 5h0m5-12h0m9 5h0m0-4h0m14-1h0m29 8h0m7 1h0m25-5h0m3 12h0m-2-1h0m-22 1h0m-60 0h0m-3 14h0m-38-1h0m72 13h0m5 1h0m0-10h0m7 6h0m2 7h0m5-7h0m4 7h0m1-1h0m3-5h0m1 2h0m1-4h0m2-6h0m375 221h0m-99 15h0m41 2h0m16 3h0m-8-1h0m-43 8h0m-30 2h0m-239 27h0m-144 3h0m-180-2h0m32 19h0m186-10h0m258 11h0m63-6h0m9 15h0m-21 31h0m-417 25h0" stroke="#22b1ea"/><path d="M860 501h0m-42 28h0m-137 61h0m29-13h0m-76 40h0m29-3h0m59-3h0m-48 20h0m0-1h0m-10-5h0m-8 0h0m-4 12h0m-79 18h0m1-2h0m9-9h0m49 8h0m6-5h0m35-1h0m32-2h0m11 4h0m-63 13h0m-9-3h0m-1 9h0m-3-10h0m-1 11h0m-6-2h0m-1 0h0m0-6h0m-2 10h0m-9-10h0m-47-4h0m-18 8h0m-5 0h0m-1 6h0m-16 13h0m11-4h0m2-6h0m0 10h0m4 1h0m1 2h0m6 0h0m10-10h0m12 2h0m3 5h0m7-3h0m12 5h0m11-12h0m4 12h0m2-1h0m30-3h0m251 5h0m-292 15h0m-8-10h0m0 4h0m-5-6h0m-1 11h0m-16 0h0m-10 4h0m-20-11h0m-15-2h0m-1 9h0m-15-11h0m11 27h0m2-4h0m3 7h0m8-5h0m33-2h0m3 4h0m2-1h0m4-5h0m3 3h0m0 7h0m11-5h0m305-3h0m-3 12h0m-97 9h0m-167-2h0m-15 5h0m-31-9h0m-3-6h0m-5 1h0m-9 12h0m-1-12h0m-4 8h0m-6 4h0m-6-4h0m-5-2h0m-10 3h0m0 0h0m-6 1h0m-10-5h0m0-5h0m-1 5h0m-11 4h0m-2-10h0m-4 4h0m-7-1h0m-6 4h0m-3 12h0m0 4h0m2 8h0m10-1h0m1 0h0m40-1h0m8-12h0m1 12h0m2-7h0m23 2h0m2 6h0m4-7h0m4 2h0m24 5h0m4 1h0m15-4h0m2 3h0m154-6h0m64 22h0m-45-1h0m-4-6h0m-157-6h0m-26 4h0m-14-2h0m-7 4h0m-9-1h0m-3-4h0m-8 12h0m-1-6h0m-8-2h0m-5-1h0m-7-6h0m-3 12h0m0-3h0m-2 3h0m0-8h0m-1 0h0m-12 0h0m0 12h0m-2-8h0m-2-1h0m-4-3h0m-3 3h0m-20-2h0m0 0h0m-7 4h0m-28-5h0m2 19h0m19 2h0m2 6h0m9-7h0m10-6h0m2 8h0m10 2h0m0 2h0m6-9h0m1-3h0m5 14h0m3-15h0m4 1h0m11 4h0m55 10h0m3-11h0m204 5h0m10-5h0m5 10h0m-14 7h0m-8 2h0m-3-2h0m-1-3h0m-1 7h0m-2 6h0m-7-11h0m-158 4h0m-27 4h0m0 1h0m-5 1h0m-32-10h0m-1-5h0m-9 7h0m-8-5h0m-5 4h0m-27-1h0m-5 8h0m-3 1h0m-6-2h0m-21-12h0m-3 1h0m-13 3h0m-3-2h0m-3 7h0m-13 11h0m25 3h0m8 4h0m0 3h0m2-6h0m3-5h0m0 4h0m35 0h0m12-2h0m16 3h0m23 1h0m2 4h0m8-5h0m15-7h0m244 17h0m-1 9h0m-29-3h0m-9 3h0m-209 2h0m-11-11h0m-5 1h0m-7 2h0m-14-1h0m-5-3h0m-1 10h0m-24-7h0m-8 11h0m-9-9h0m-9 8h0m-3-1h0m-6 1h0m-4-9h0m-14 2h0m-4 1h0m-8 3h0m-7-3h0m-4-7h0m-11 23h0m10 2h0m1-9h0m37 10h0m8-11h0m14 4h0m11 2h0m15 3h0m1-8h0m14 12h0m1-4h0m2 5h0m7-14h0m1 10h0m22 4h0m29-9h0m24-3h0m193 12h0m7-2h0m213 19h0m-47-2h0m-396-8h0m-7 9h0m-5-11h0m-6 3h0m-1 0h0m-8 4h0m-1-8h0m-10 8h0m0 1h0m-2 3h0m0-10h0m-5 9h0m-13-10h0m-6 10h0m0-8h0m-6 8h0m-4-5h0m-8 7h0m-2-10h0m-4 1h0m-7-2h0m-9 6h0m-11-1h0m-11 5h0m-1-2h0m-2 4h0m-4-5h0m-13 0h0m0 2h0m-14-12h0m-7 24h0m10-7h0m8 1h0m7-1h0m7 4h0m3 9h0m1-14h0m5 6h0m0-2h0m10 3h0m9-7h0m3 11h0m3-7h0m13 7h0m4-10h0m5 1h0m0 6h0m8 2h0m6-8h0m10 7h0m1 5h0m6-11h0m28-3h0m4 10h0m0 4h0m6-2h0m16-6h0m2-7h0m4 9h0m394 2h0m-394 7h0m-15 8h0m-30 6h0m-7-3h0m-3-6h0m-7 5h0m-18-5h0m-2-6h0m-2 4h0m0 11h0m0-3h0m-3 1h0m-2-5h0m-4-1h0m-1-6h0m-5 1h0m-5 11h0m-2-5h0m0-5h0m-1 8h0m-1-12h0m-11 13h0m-7-11h0m-6 7h0m-2 6h0m-16 1h0m-7-8h0m-1 6h0m-2-4h0m-4-5h0m-29 23h0m33-11h0m1-1h0m3 14h0m9-2h0m4-9h0m2 6h0m2-6h0m7 13h0m6-8h0m29-4h0m2-3h0m7 7h0m3-4h0m1 12h0m14-12h0m1 10h0m0-7h0m1-4h0m12-2h0m3 8h0m18 7h0m11-15h0m14 7h0m403 16h0m-395-6h0m-19 11h0m-6 2h0m-9-10h0m-2-2h0m-1 6h0m-7-3h0m-4 0h0m-15 5h0m-8-7h0m-3 1h0m-1 0h0m-1 4h0m-2-5h0m-3-1h0m-1 2h0m-16 2h0m-4 7h0m0-1h0m-3-4h0m-2 0h0m-10-9h0m-1 1h0m-6 2h0m-1-2h0m-1 9h0m-7-3h0m-2-7h0m-4 8h0m-17-8h0m-12 16h0m-10-10h0m13 14h0m20 0h0m1-4h0m8 1h0m2 0h0m33 8h0m2-2h0m1 9h0m3-4h0m1-1h0m3 5h0m2-1h0m2-1h0m4-9h0m4 4h0m17 6h0m1-15h0m0 15h0m2-4h0m3-6h0m1 2h0m4 5h0m2-1h0m4-8h0m3-1h0m7 13h0m4-6h0m11-5h0m1 9h0m7-8h0m18-4h0m391 8h0m1-4h0m10-3h0m9 15h0m-59 14h0m-337-12h0m-16 10h0m-11-7h0m-8 2h0m-5 2h0m-6 3h0m0-1h0m-5-8h0m-1 8h0m-3-3h0m-1 4h0m-2-5h0m-2 2h0m-12 3h0m0-4h0m-9 2h0m-1 2h0m-6 3h0m-22 0h0m-4-4h0m-6-2h0m-5-5h0m-16-4h0m-13 8h0m-3-5h0m-4 9h0m-1-9h0m-22 8h0m-4 3h0m-17-9h0m27 16h0m2 6h0m4-8h0m7-1h0m0 6h0m4 0h0m5-8h0m5 13h0m19 1h0m3-7h0m5 0h0m5 6h0m17-10h0m1 8h0m1-7h0m1 5h0m1-8h0m2 3h0m3 2h0m0 1h0m6-5h0m25-2h0m1 14h0m4-12h0m10-2h0m8 6h0m13-5h0m11 13h0m11-11h0m335-3h0m24 2h0m369 27h0m-370-11h0m-37 9h0m-8-9h0m-38 7h0m-270 0h0m-16-1h0m-26 3h0m-12-2h0m-3-2h0m-5-8h0m-1 3h0m-17 3h0m-1-2h0m-10 4h0m-7-8h0m0 0h0m-1 11h0m-28 1h0m-14-10h0m-1-1h0m-16 5h0m-45-4h0m27 17h0m14 3h0m3 8h0m1-6h0m1 1h0m4 0h0m11-7h0m41 12h0m1-3h0m1 0h0m2 4h0m2-3h0m5-7h0m2 2h0m6-1h0m0 10h0m7-15h0m1 13h0m7-10h0m2 6h0m6 2h0m6-4h0m5-5h0m9-2h0m16 5h0m5 9h0m2-13h0m308 7h0m7-7h0m-3 21h0m-325 1h0m-10-4h0m-2 4h0m-6-2h0m0-2h0m-4 9h0m-4-8h0m0-2h0m-17-1h0m-17 10h0m-6 0h0m-39-8h0m-11-3h0m-2 4h0m-7 6h0m-8-7h0m-7 0h0m-7 1h0m-5-2h0m-11 11h0m17 3h0m35 8h0m13 6h0m33-10h0m21 7h0m18-7h0m36 8h0m1-2h0m1-5h0m1 3h0m274-2h0m11 1h0m12-6h0m16 14h0m467-2h0m-461 10h0m-18 7h0m-6-11h0m-7-2h0m-24 9h0m-72-7h0m-114-1h0m-35 1h0m-37-1h0m-19-1h0m-25 4h0m-19 5h0m-23 0h0m-29-6h0m-3-5h0m-7 5h0m-1 9h0m-25-14h0m9 21h0m6 4h0m54 1h0m11-5h0m5-1h0m16 2h0m30-3h0m6 1h0m24 1h0m0 5h0m187 4h0m54-1h0m8-11h0m102 20h0m-28 2h0m-14 0h0m-60 4h0m-156 3h0m-39-13h0m-40 10h0m-6 2h0m-1-2h0m0-4h0m-14 7h0m-17-7h0m-3 3h0m-2 1h0m-1-3h0m-156-5h0m20 25h0m55-4h0m15 4h0m1-5h0m5-1h0m7-2h0m5 0h0m16 3h0m13 5h0m15-10h0m35 9h0m4-12h0m9 11h0m19-8h0m13 11h0m34-1h0m7 1h0m2-10h0m85-2h0m12-1h0m88 7h0m497 2h0m-478 14h0m-84-3h0m-13 7h0m0-5h0m-132 4h0m-6 2h0m-82-5h0m-9 2h0m-4 2h0m-3 2h0m-5-13h0m-7 6h0m-18-3h0m-8 4h0m-20 3h0m-1 2h0m-22 1h0m-42-7h0m-26-5h0m17 21h0m27 6h0m19-2h0m13-6h0m6-2h0m3 8h0m11-8h0m1 13h0m1-12h0m1-3h0m6 11h0m10-10h0m14 12h0m7-2h0m3-8h0m4-2h0m4 13h0m0-6h0m2-5h0m1 0h0m0 2h0m3 10h0m3-8h0m1 1h0m2-2h0m1-3h0m3 5h0m21 0h0m16-3h0m10 4h0m11-2h0m167-2h0m37-5h0m48-1h0m9 1h0m81 1h0m-291 18h0m-50 3h0m-37 4h0m-3 1h0m-31-9h0m-3 1h0m-17 11h0m-4-10h0m-7-2h0m-11-2h0m-54 6h0m59 24h0m35-2h0m25-2h0m37 0h0m28-8h0m18 4h0m10 7h0m27-3h0m0 5h0m131-12h0m34 7h0m471 2h0m-420 18h0m-103-6h0m-3-6h0m-28 3h0m-64 6h0m-67-10h0m-11 8h0m-67-10h0m-25 5h0m-14 10h0m6 14h0m264-12h0m19 12h0m61 16h0m-9-1h0m-57 0h0m-119-11h0m-166 9h0m-40 5h0m287 6h0m67-4h0m77 24h0m-85-9h0m-7 8h0m-10-6h0m-39 3h0m-306-4h0m189 23h0m84 1h0m44-5h0m28 11h0m20 3h0m-19 9h0m0 5h0m-65-13h0m-4 5h0m-1-6h0m-238 22h0m73-2h0m166-2h0m18-3h0m869 3h0m-850 18h0m-19-2h0m-181 0h0m46 16h0m27 0h0m84 0h0m883 0h0m-1 21h0m-1-1h0m-1065-1h0m-14-1h0m8 11h0m76-1h0m10 5h0m1 8h0m25-11h0m-60 23h0m2 10h0m80 26h0m-35-6h0m-14 7h0m-11-13h0m-24 10h0m92 27h0m-51-4h0m28 21h0" stroke="#0072b2"/><path d="M777 532h0m-33 1h0m44 19h0m-53 16h0m-54-1h0m132 35h0m-47 1h0m-23-6h0m-11-5h0m-112 27h0m26 5h0m32-1h0m28-4h0m7-10h0m23 2h0m28 8h0m39 2h0m26-8h0m19 7h0m25-7h0m274-3h0m-244 25h0m-75-7h0m-63 4h0m-17-7h0m-13 13h0m-4-3h0m-39-11h0m-34 9h0m-33 6h0m-37-11h0m-16 10h0m6 12h0m14 1h0m44-2h0m2-1h0m14-6h0m13 6h0m18 6h0m2 2h0m77-5h0m20-7h0m26 1h0m3-1h0m45 6h0m30 4h0m267-1h0m-65 17h0m-64-10h0m-58 11h0m-84-4h0m-4-2h0m-32-4h0m-6 2h0m-16 5h0m-22-6h0m-7-2h0m-17-3h0m-21 7h0m-9-5h0m-30 7h0m-2 6h0m-84-10h0m-2 1h0m-5-6h0m-7-1h0m-65 20h0m2 6h0m19 4h0m2 0h0m38 1h0m37-2h0m27-3h0m26 1h0m3-3h0m17-7h0m12 7h0m45-7h0m7 2h0m10 12h0m5-1h0m5 1h0m8-6h0m6-7h0m13 12h0m4-2h0m9-2h0m21-1h0m47-4h0m151-1h0m88 8h0m77 16h0m-61-5h0m-61-1h0m-98-3h0m-33 8h0m-30-1h0m-3-9h0m-24 15h0m-56-16h0m-1 15h0m-29-10h0m-6-2h0m-1-2h0m-12 4h0m-3 2h0m-14-5h0m-4 0h0m-5 7h0m-4 4h0m0-5h0m-1-2h0m-12 7h0m-5-7h0m-1 1h0m-30 2h0m-16 6h0m-11-14h0m-24 12h0m-12-10h0m-9 3h0m-13-2h0m-50 5h0m-6-1h0m-14-5h0m-16 7h0m-6 0h0m-6-8h0m-23 14h0m-4-11h0m-10 5h0m-14 16h0m41-6h0m8 11h0m1-14h0m17 0h0m5 0h0m18 13h0m31-6h0m12-5h0m6 12h0m27-12h0m14 0h0m23 11h0m4-2h0m7-6h0m25-4h0m8 11h0m3-6h0m8 7h0m29-11h0m3 0h0m6 7h0m4-3h0m16 0h0m15 4h0m30-9h0m21-1h0m28 1h0m1 10h0m6 1h0m9 1h0m25-6h0m11 5h0m57-7h0m23-1h0m6 2h0m10-1h0m5 6h0m88 2h0m12-10h0m46 13h0m-110 15h0m-2-4h0m-141-6h0m-13-3h0m-23 5h0m-1-2h0m-5-4h0m-4 13h0m-33-7h0m-10 0h0m-17-7h0m-18 1h0m-16-1h0m-8 3h0m-5-2h0m-1 4h0m-27 2h0m-17 0h0m0-5h0m-26-3h0m-41 16h0m-8-1h0m-11-2h0m0 1h0m-2-11h0m-21 7h0m-17 3h0m-20-8h0m-22 6h0m-6-9h0m-29 12h0m-8-11h0m-71 25h0m4 2h0m24-5h0m1 4h0m11 0h0m3-4h0m4-8h0m21-1h0m10 8h0m18-3h0m13 1h0m7 3h0m0-9h0m31 7h0m1-4h0m1-3h0m11 10h0m3-6h0m2 0h0m7 6h0m17-8h0m6 3h0m9-4h0m11 14h0m4 0h0m2-3h0m21-8h0m67 0h0m2 11h0m2-8h0m18 8h0m26 0h0m24-4h0m2 1h0m86-2h0m5-8h0m16 9h0m45-9h0m39 10h0m26 4h0m3-9h0m95-2h0m47 14h0m-7 7h0m-15 5h0m-8-3h0m-2-7h0m-13-4h0m-1 15h0m-9-1h0m-1-1h0m-49 1h0m-38-10h0m-16 6h0m-29-2h0m-107 1h0m-13-7h0m-10 7h0m-9-4h0m-6-2h0m-78 6h0m-85 4h0m-6-10h0m-26 6h0m-10-10h0m-16 5h0m-18-4h0m-6 4h0m0-2h0m-8 0h0m-13-2h0m-21 4h0m-2 10h0m-8-11h0m-5 1h0m-25 9h0m-3-3h0m-42-2h0m-8-8h0m-28 27h0m2-7h0m117 1h0m0 1h0m9 5h0m1-11h0m15 8h0m41 7h0m38-3h0m2-6h0m18-2h0m20 5h0m15-5h0m4 5h0m11 4h0m4-4h0m1 1h0m1 2h0m6-7h0m19 1h0m20 1h0m24-2h0m50-3h0m1 4h0m59-3h0m4 10h0m8-3h0m24-8h0m12 4h0m5 4h0m44-2h0m1 1h0m7-8h0m92 7h0m18-3h0m5-3h0m11 5h0m21-6h0m18 2h0m-41 15h0m-77 8h0m-47-11h0m-1 12h0m-21-7h0m-4 7h0m-33-3h0m-5-9h0m-19 7h0m0 2h0m-15 5h0m-31-9h0m-4-1h0m-6-1h0m-12-2h0m-64 5h0m-34 10h0m-34-10h0m-21-3h0m-10 1h0m-7 5h0m-1 3h0m-1-7h0m-33-3h0m-44-1h0m-43 8h0m0-4h0m-3-5h0m-1 1h0m-4 10h0m-2 4h0m-5-12h0m-25 7h0m-9 0h0m-17 2h0m-57-9h0m-1 9h0m3 11h0m33 4h0m8 2h0m50 3h0m5-11h0m5 7h0m17 1h0m1-10h0m7 4h0m36 4h0m14-2h0m21-3h0m0 3h0m15 6h0m7 0h0m4-7h0m46-3h0m51-3h0m13 9h0m3-5h0m0 10h0m3-2h0m11-7h0m6-5h0m15 4h0m5 2h0m47 2h0m5 4h0m10-1h0m15-2h0m109-9h0m1 9h0m241-8h0m-135 14h0m-140 0h0m-1 3h0m-53 12h0m-14-11h0m-92-3h0m-1 8h0m-1-10h0m-37 11h0m-17-9h0m-12 13h0m-10-14h0m-3 4h0m-9-2h0m-39 1h0m-77 4h0m-32 7h0m-3-7h0m-8 1h0m-1 6h0m-2-2h0m-20-1h0m-17-6h0m-4 0h0m0-5h0m-20 0h0m-10 9h0m-20-8h0m-10 4h0m-2-3h0m-49 0h0m-10 6h0m46 9h0m30 0h0m10 7h0m28 4h0m9-4h0m6-6h0m1-1h0m3 13h0m2-5h0m9 1h0m1-8h0m12 1h0m3 11h0m13-12h0m0 3h0m1-3h0m1 12h0m43-7h0m13 6h0m7-12h0m24 4h0m10 3h0m1 2h0m52-9h0m2 5h0m26-4h0m45 6h0m5-7h0m0 6h0m28-2h0m0 1h0m32 4h0m6 2h0m11-3h0m1-7h0m5 0h0m31 0h0m2 9h0m9 0h0m23 0h0m42-7h0m-8 21h0m-39 5h0m-29 1h0m-27-4h0m-36-8h0m-37 8h0m-4 3h0m-8-8h0m-3 9h0m-82-8h0m-23 8h0m-21-2h0m-6-7h0m-20 0h0m-10-6h0m-6 12h0m-38-1h0m-6-3h0m-12 4h0m-2-1h0m0-2h0m-8-6h0m-3-2h0m0 12h0m-3 0h0m-3-6h0m-10-4h0m-4 5h0m-4-7h0m-9 4h0m-9 6h0m-31-11h0m-28 13h0m-70 7h0m33 10h0m98-13h0m5 5h0m5-3h0m11 0h0m19-2h0m4 1h0m2 1h0m1-1h0m3-2h0m19 12h0m4-9h0m0-2h0m13 1h0m0 10h0m6-13h0m36 6h0m45 8h0m3 0h0m13-7h0m46-3h0m20-2h0m27 8h0m10 4h0m0 0h0m15-8h0m5 4h0m1-1h0m94-9h0m16 13h0m16-5h0m16-5h0m5 6h0m-22 15h0m-1 2h0m-2 3h0m-23 2h0m-60-7h0m-8-7h0m-5-1h0m-26 2h0m-45 3h0m-22-3h0m-9 6h0m-24 5h0m-11-2h0m-3-9h0m0 14h0m-18-1h0m-2-2h0m-86-3h0m-2 1h0m-57-11h0m-11 10h0m-2-4h0m-1-2h0m-15 9h0m-13-9h0m-17-1h0m-124 4h0m11 16h0m4-1h0m1 8h0m8-9h0m14 10h0m25-9h0m15-3h0m20 9h0m29-6h0m11-4h0m4 1h0m30 2h0m12 5h0m5 6h0m30-9h0m10-2h0m44 9h0m17 2h0m18-10h0m1 2h0m2-6h0m5 9h0m3-10h0m13 13h0m5-3h0m3 1h0m22-2h0m34 1h0m0-3h0m7-1h0m2-1h0m1 7h0m7-11h0m94 1h0m10 5h0m58 2h0m13-6h0m29 12h0m23-5h0m-65 7h0m-7 9h0m-5-7h0m-11 11h0m-1-5h0m0-2h0m-4 8h0m-12-3h0m-3-6h0m-47-3h0m-4 5h0m-6 6h0m-2-2h0m-27-5h0m-20 6h0m-2-3h0m-7 1h0m-19 0h0m-15-6h0m-11-6h0m-1 4h0m-8 11h0m-15-6h0m-3-3h0m-7 9h0m0-10h0m0 6h0m-21 3h0m-39-13h0m-25 7h0m-36-6h0m-91 3h0m-4 4h0m-3 6h0m-17 0h0m-12 4h0m38-1h0m3-1h0m31 1h0m12 0h0m27 2h0m28-1h0m23 5h0m21-4h0m12-1h0m19-3h0m8 10h0m17 3h0m2-6h0m4 1h0m3 5h0m16-6h0m3-3h0m47-1h0m13 12h0m12-14h0m35 3h0m13-1h0m12 4h0m8 0h0m31-4h0m35 11h0m24-4h0m54-8h0m320 19h0m-15 1h0m-299 9h0m-2-6h0m-33 3h0m-1 4h0m-20-16h0m-24 3h0m-6 2h0m-5 10h0m-2-9h0m-31 6h0m-16 1h0m-12-12h0m-12 7h0m-12 3h0m-9-4h0m-4 0h0m-33 3h0m-7-3h0m-2 6h0m-9-5h0m-15-4h0m-12 0h0m-24 2h0m0-1h0m-1 4h0m-4-2h0m-5-1h0m-44 2h0m-85 5h0m-2 1h0m-16-10h0m-7 8h0m-20-7h0m-10 0h0m-39 6h0m-1 5h0m-38-13h0m-76 27h0m26-1h0m33-2h0m71-7h0m23 5h0m4-3h0m3-3h0m0-2h0m4 11h0m1 2h0m45-1h0m10-3h0m12 4h0m15-3h0m6-9h0m1 12h0m1-6h0m28 7h0m15-9h0m6-6h0m2 7h0m7-2h0m18 5h0m5-5h0m2-2h0m2-2h0m5 7h0m17-1h0m4-2h0m4 2h0m24 9h0m12-2h0m1-2h0m71 0h0m2 3h0m3 1h0m7-10h0m32-3h0m26 2h0m23 0h0m26-1h0m345-4h0m-317 28h0m-43 2h0m-31-8h0m-67 5h0m-15-9h0m-67 10h0m-9-6h0m-2 2h0m-45 2h0m-11-9h0m-7 15h0m-5-10h0m-13-2h0m-22 7h0m-5 5h0m-21-1h0m-12-2h0m-11-2h0m-19-7h0m-4 4h0m-1 4h0m-5-6h0m0-6h0m-7 14h0m-9-4h0m-30-6h0m-1 8h0m-2 2h0m-5-6h0m-6-4h0m-8 0h0m-3 10h0m-10-13h0m-7 2h0m-4 11h0m-3-2h0m-3 3h0m-2-3h0m-7 3h0m-23-1h0m-51-7h0m-9 6h0m-7-6h0m-4-4h0m-1 3h0m0 9h0m-7 6h0m2-2h0m15 13h0m1-8h0m1 2h0m28-4h0m20-5h0m26 4h0m21-5h0m3 11h0m1-7h0m37-3h0m15 14h0m56-15h0m16 13h0m36-3h0m25 3h0m38 2h0m6-7h0m16-3h0m18 6h0m19-10h0m15 12h0m41-3h0m3-1h0m29 0h0m0-8h0m2 12h0m7-10h0m4-2h0m1 1h0m10-1h0m11 10h0m38 0h0m36-5h0m28 4h0m336-5h0m-353 23h0m-38 1h0m-35-8h0m-2 7h0m-7-9h0m-11-2h0m-63 2h0m-20 0h0m-7 4h0m-3 7h0m-9-9h0m-11 6h0m-3-1h0m-3 1h0m-13 1h0m-3-6h0m-11 6h0m-1-6h0m-51-5h0m-29 3h0m-27 8h0m-11 1h0m-5-2h0m-38-7h0m-33-2h0m-16 4h0m-1 2h0m-1-3h0m-2 1h0m-7 9h0m-21-7h0m-28 7h0m-1-3h0m-9-1h0m-16-3h0m-11 6h0m-33-2h0m-21-6h0m7 23h0m3-3h0m3-2h0m6-2h0m3 7h0m0 0h0m9 1h0m6 2h0m38-6h0m17-1h0m8-7h0m7 8h0m17 2h0m9 0h0m6 1h0m3 1h0m8-13h0m12 4h0m27 8h0m12-11h0m28 10h0m11-2h0m14-3h0m0 1h0m4 0h0m12 4h0m6 3h0m16-7h0m34-4h0m32-1h0m15-1h0m50 9h0m2 3h0m10 0h0m9 1h0m29-4h0m17-4h0m59 5h0m15-10h0m7 21h0m-49-3h0m-11 2h0m-24 9h0m-13-7h0m-21-5h0m-9-1h0m-12 10h0m-5-2h0m0 5h0m-2-8h0m-2 9h0m-21-2h0m-6-14h0m-28 8h0m-35 4h0m-4-1h0m-15-7h0m-7 10h0m-57 0h0m-21-7h0m-1-7h0m-5 6h0m-33 5h0m-15-10h0m-27 9h0m-41-10h0m-4 3h0m-17-1h0m-8 3h0m-4 0h0m-22 2h0m-14-2h0m-42 15h0m8-1h0m17 4h0m3 1h0m1 7h0m19-10h0m1 6h0m1-10h0m7 11h0m2-3h0m12-5h0m25 10h0m14-8h0m8 0h0m7 2h0m28 0h0m22-7h0m30 11h0m1-5h0m14-2h0m6-4h0m21 3h0m0 9h0m7-11h0m3 5h0m2 1h0m7 1h0m32-1h0m6-7h0m1-1h0m21 10h0m18-9h0m36 13h0m1-8h0m6 2h0m17-2h0m10 8h0m15-14h0m21 4h0m5-2h0m21 7h0m10 4h0m16 1h0m2-13h0m3 8h0m2 6h0m3-1h0m9-7h0m46 4h0m0 1h0m402-12h0m-421 31h0m-7-8h0m-5 8h0m-2-12h0m-23 5h0m-7 6h0m-8-9h0m-24 7h0m-21-8h0m-32-3h0m-1 0h0m-6 3h0m-3 2h0m-6 3h0m-29 6h0m-52-2h0m-1-9h0m-20 7h0m-20 3h0m-22-2h0m-21-10h0m-39 1h0m-37 11h0m-15-9h0m-9-4h0m-5 5h0m-6-5h0m-8 12h0m-9-3h0m-4 6h0m-6-12h0m-43 11h0m-1-13h0m-9 6h0m-18 0h0m5 22h0m24-8h0m30 0h0m3 6h0m7-2h0m10-7h0m0 4h0m36-4h0m25 8h0m36-1h0m37 3h0m3 0h0m18-11h0m8 8h0m38 5h0m20-6h0m6-3h0m6-2h0m6 1h0m3-1h0m2 1h0m0 1h0m4-2h0m7 9h0m4-12h0m13 3h0m22 2h0m20 6h0m11-5h0m1-1h0m3-1h0m8-1h0m4-2h0m9-1h0m0 9h0m0 2h0m10-10h0m2-2h0m0 2h0m21 4h0m5-3h0m3 7h0m2-3h0m11 3h0m12-4h0m7 5h0m420-11h0m-411 28h0m-66-8h0m-19 4h0m-19-2h0m-3-2h0m-5 7h0m-3-1h0m-5-6h0m-8-2h0m-16 8h0m-12 0h0m-2-5h0m-13 1h0m-8 6h0m-1 2h0m-31 1h0m-18-4h0m-2-2h0m-1 0h0m-2-5h0m-10 9h0m-82-5h0m-30 3h0m-38-2h0m-30 5h0m-1-3h0m-4-8h0m-1 9h0m-12-4h0m-5-8h0m-10 3h0m-2-1h0m-32 12h0m-1-5h0m0 3h0m-1-4h0m-3 5h0m-4 0h0m-15 15h0m2-9h0m9-3h0m7 10h0m4-7h0m42 9h0m23-9h0m31 4h0m0 0h0m5 4h0m2-8h0m17-3h0m5 1h0m3 3h0m4 3h0m18-6h0m24 12h0m95-8h0m3 6h0m12-6h0m1 0h0m7 9h0m8-2h0m5 3h0m3-7h0m7 4h0m0-8h0m4-1h0m2 7h0m2-6h0m1-3h0m3 4h0m11 0h0m7 11h0m21-11h0m11-1h0m4-2h0m3 3h0m10 6h0m3-7h0m19 3h0m1 4h0m11 2h0m28-2h0m3-9h0m10-1h0m5 12h0m75-7h0m-32 24h0m-16-11h0m-10 12h0m-1-5h0m-1 0h0m-2 2h0m-41-1h0m0-9h0m-14 8h0m-16 2h0m-9-7h0m-14 6h0m-2-9h0m-25 12h0m0-10h0m-4 1h0m-4-5h0m-2 7h0m-1-6h0m-4 4h0m-6 11h0m-2-6h0m-34 5h0m-4-2h0m-2-9h0m-4 2h0m0 0h0m-4 9h0m-1-11h0m-5-1h0m0 11h0m-8-2h0m-6-4h0m-7 5h0m-2 1h0m-15-2h0m-115-9h0m-5 0h0m-14 11h0m-5-6h0m-5 6h0m-20-6h0m-31 1h0m-4 2h0m-20-5h0m-24-3h0m-14-2h0m15 25h0m3 6h0m90-1h0m27-11h0m36 8h0m39-4h0m17 4h0m29-8h0m11 4h0m0-6h0m4 6h0m5-6h0m23 13h0m1-5h0m6-6h0m4 8h0m6 2h0m2 2h0m5-4h0m10 0h0m7-10h0m5 8h0m3 0h0m4-5h0m4-5h0m1 16h0m2-13h0m15 4h0m2 4h0m10-2h0m17 0h0m52-4h0m8 7h0m30 18h0m-15-12h0m-7 14h0m-28-5h0m-14-1h0m-1-1h0m-28-4h0m-7 2h0m-37 6h0m-1-3h0m-13 4h0m-2-10h0m-7 5h0m-18-5h0m-12-2h0m-10 11h0m-7 1h0m-9-2h0m-1 1h0m-6-4h0m-1 3h0m-9-10h0m-38 6h0m-9-5h0m-4 2h0m-17-2h0m-1-1h0m-16 0h0m-30 13h0m-17-12h0m-3-2h0m-106 1h0m27 26h0m33 2h0m8 0h0m15-6h0m23-6h0m14 1h0m0 9h0m17-3h0m49-9h0m3 9h0m22-7h0m2 7h0m4 7h0m8-14h0m2 0h0m1-1h0m40 0h0m14 14h0m15 0h0m2-1h0m10-4h0m1-10h0m18 13h0m12-11h0m0 11h0m8-12h0m9 3h0m7 7h0m7-1h0m11 5h0m15-3h0m24 4h0m14-1h0m1-13h0m33 7h0m5 3h0m393-10h0m-370 19h0m-33 10h0m-9-2h0m-40 1h0m-1-11h0m-13 8h0m-4 1h0m-29-4h0m-5-1h0m-14-3h0m-5 4h0m-6 0h0m-30 4h0m-3 4h0m-1-11h0m-7-3h0m-7 9h0m-7-7h0m-66-2h0m-6 5h0m-16 3h0m-2-3h0m-3 3h0m-1-1h0m-21-9h0m-32 13h0m-12-5h0m-56-6h0m-15 6h0m20 19h0m4-1h0m6-3h0m7-6h0m31 14h0m29-7h0m10 1h0m30-4h0m8 10h0m3-8h0m5 3h0m30-9h0m8 5h0m20-2h0m7 10h0m5 0h0m8-5h0m39 7h0m9-13h0m18 5h0m24 7h0m3-2h0m0-10h0m2 0h0m9 3h0m2 4h0m2-4h0m9 9h0m16-8h0m5-6h0m6 3h0m12 9h0m57-9h0m72 0h0m640 20h0m-606 2h0m-39-7h0m-96 10h0m-5-5h0m-23-6h0m-26 6h0m-22-6h0m-1-2h0m-13 7h0m-3 2h0m0-6h0m-7-2h0m-12 14h0m-2 0h0m-11-6h0m-12 1h0m-6-9h0m-7 3h0m-21 3h0m-2-5h0m-8 8h0m-1-8h0m-18 3h0m-8 8h0m-45 3h0m-89-13h0m-97 7h0m18 17h0m36 3h0m6-9h0m11 5h0m7 2h0m1 3h0m110-9h0m15 10h0m0 0h0m7-10h0m32 3h0m15 2h0m34 5h0m12-1h0m38-1h0m1-11h0m32 3h0m41-6h0m6 10h0m18-7h0m7 6h0m7 7h0m22-1h0m15-13h0m28 19h0m-3 7h0m-130-5h0m-1 0h0m-17-2h0m-21 6h0m-7-9h0m-2 2h0m-30 3h0m-25 9h0m-20 0h0m-1-13h0m-3 2h0m-24 5h0m-1 1h0m-8 1h0m-27 3h0m-10-8h0m-60 1h0m-43 2h0m-31-5h0m-11 2h0m-25 3h0m17 22h0m14-11h0m5-2h0m6 13h0m5-3h0m6-12h0m31 13h0m7-11h0m0-2h0m3 8h0m7 2h0m13-3h0m21 4h0m16 1h0m3-12h0m14 11h0m8-8h0m42 10h0m15-12h0m13 9h0m10-1h0m67-6h0m1 2h0m28 5h0m27-6h0m3-2h0m0-1h0m1 6h0m163 1h0m12-6h0m19-2h0m558 9h0m15 7h0m0 0h0m-15 7h0m-568-2h0m-6 7h0m-85 3h0m-12-6h0m-2-6h0m-2 8h0m-9-1h0m-69 3h0m-10-9h0m-34 8h0m-30-6h0m-48 2h0m0 4h0m-16-1h0m-6-1h0m-3-2h0m-79-4h0m-2 6h0m-16-5h0m-5-2h0m-6 11h0m-2-6h0m-10 1h0m-49-7h0m-33 2h0m-28 8h0m49 3h0m7 1h0m36 15h0m32-13h0m10-3h0m13 2h0m31-2h0m14 13h0m19 0h0m79-8h0m19 10h0m14-5h0m51 1h0m9 0h0m20-6h0m33-5h0m5 15h0m8-3h0m13 1h0m3-8h0m9 8h0m8-4h0m1-7h0m18 10h0m2 0h0m3-1h0m6-5h0m605 2h0m18 5h0m-4 5h0m-4 5h0m-655 6h0m-35-5h0m-4-5h0m-6 11h0m-23-12h0m-87 3h0m-39-1h0m-8 5h0m-77-9h0m-18 10h0m-9 4h0m-45 0h0m-3 0h0m-35-4h0m-5-7h0m-10 3h0m0 22h0m10-4h0m28 2h0m58 5h0m19-4h0m5-1h0m16 5h0m60-10h0m27 6h0m44 3h0m21-5h0m52-4h0m20-4h0m15-1h0m22 6h0m29-1h0m613 14h0m-611 8h0m-59-7h0m-29 10h0m-2-9h0m-50 6h0m-32-6h0m-18 7h0m-44 4h0m-4-9h0m-44 1h0m-21-7h0m-18 0h0m-16 10h0m-42-10h0m3 26h0m7-11h0m11 0h0m50 16h0m46-12h0m8-4h0m4 6h0m7-1h0m1 3h0m0-6h0m59 1h0m16 3h0m29 9h0m39 1h0m4-13h0m19 8h0m38 1h0m25-7h0m63-5h0m-22 27h0m-30-5h0m-32 0h0m-2 5h0m-3-1h0m0 2h0m-24 0h0m-48-5h0m-1 1h0m-21-2h0m-4-1h0m-26 3h0m-21-7h0m-12 3h0m-125 2h0m-15 6h0m-3 3h0m-22-3h0m0 0h0m-1-3h0m-2 6h0m-9-3h0m92 11h0m18-5h0m12 6h0m1-7h0m1 9h0m121 2h0m51-10h0m18 3h0m20 5h0m6 2h0m50-11h0m-33 18h0m-14 7h0m-4-6h0m-11 5h0m-9 7h0m-81-13h0m-15 6h0m-19 4h0m-11 2h0m-43-4h0m-1 1h0m-4-11h0m-17 2h0m-40-2h0m-5 9h0m-7-7h0m-20 1h0m-15 11h0m45 2h0m90 2h0m20 4h0m23-1h0m2-4h0m10 14h0m26-10h0m11-5h0m29 1h0m64 5h0m17-4h0m-97 25h0m-1-2h0m-25 3h0m-48 0h0m-10-6h0m-42 5h0m-8-5h0m-14 8h0m57 8h0m69-1h0m6-3h0m2 6h0m52 1h0m38 0h0m-117 8h0m-23 1h0m-4 9h0m115 9h0m356 218h0m-8-7h0m-3 6h0m-62 11h0m1 6h0m60 12h0m-19 0h0m-5 0h0m-7-3h0m-14 6h0m-8-8h0m-59 15h0m4 8h0m35-4h0m15 5h0m79 10h0m-75 0h0m-14-6h0m-86 23h0m44-9h0m1 12h0m8-4h0m8 8h0m-6 3h0m-12 9h0m-119 2h0m-153 22h0" stroke="#ee9a00"/><path d="M866 131h0m-391 127h0m451 234h0m97 17h0m-3-1h0m-6 0h0m-2-2h0m-4 1h0m-68 3h0m0-2h0m-29 1h0m-19-2h0m-20 3h0m-71-2h0m-43 4h0m-46 15h0m15-1h0m1-2h0m8-1h0m15-4h0m28-1h0m25 6h0m30-5h0m40 4h0m12-3h0m1-2h0m4 10h0m6-6h0m2 0h0m9-2h0m2 8h0m9-9h0m14-1h0m4-6h0m3 4h0m9 0h0m40 5h0m21-1h0m1 6h0m0-2h0m1 1h0m3-12h0m2 6h0m5 6h0m4 1h0m4-8h0m-6 18h0m-7 0h0m-2 3h0m-3 1h0m0-2h0m-3 1h0m-5-6h0m-1 1h0m-8 9h0m-4 1h0m-38-11h0m-11 2h0m-1 7h0m-34 0h0m-1-8h0m-4 4h0m-5-2h0m-4 1h0m-22-7h0m-57 7h0m-37-4h0m-20-2h0m-25 8h0m-2-1h0m-16-3h0m-3-1h0m-3-3h0m-18 8h0m-2 2h0m0-1h0m-20 14h0m15-4h0m9 0h0m69-5h0m59 4h0m29 2h0m164 6h0m-108 12h0m-18-3h0m-242-2h0m-8 0h0m342 20h0m78 16h0m-7-3h0m-9 1h0m-188 5h0m195 16h0m10 1h0m1 3h0m113-2h0m-124 14h0m-1-4h0m-15-1h0m-34-2h0m0 8h0m-3-11h0m-5 0h0m-122 12h0m133 15h0m156 1h0m-1 20h0m30 0h0m-7 40h0m97 3h0m-17 14h0m-102-4h0m-50 14h0m96 8h0m36-12h0m88 27h0m-98-3h0m-26 8h0m-12-12h0m-10-2h0m-10 8h0m7 9h0m43-3h0m7 2h0m15 7h0m29 7h0m-90 11h0m12 11h0m104-5h0m46 28h0m-3 1h0m-9-13h0m-7 13h0m-6-5h0m-28 0h0m-1 2h0m-9-4h0m0 7h0m-9-13h0m-69 3h0m-32-1h0m-18 7h0m-74 19h0m20-10h0m49 2h0m32 2h0m30-6h0m4 14h0m9-1h0m38-3h0m33-7h0m14-2h0m13 8h0m4-3h0m8 2h0m7 3h0m26-4h0m7 22h0m-31-7h0m-6-6h0m-126 15h0m-107 0h0m208 0h0m3 12h0m22-8h0m7 10h0m2-8h0m11 20h0m-8-1h0m-5-4h0m-5-3h0m-3 4h0m-2 8h0m-3-6h0m-8-4h0m-14 3h0m-1 6h0m-4 3h0m-11-5h0m-36-7h0m-119-1h0m151 28h0m18-15h0m13 8h0m13-3h0m6-3h0m3 14h0m26 2h0m-4 13h0m-2-1h0m-35-7h0m-16 3h0m-1-1h0m-11 7h0m-3-15h0m-1 7h0m-11 3h0m-2 0h0m-3 2h0m-8-5h0m-2-5h0m32 27h0m5-2h0m31-3h0m15 7h0m7-5h0m49 20h0m-55-7h0m-25 4h0m-4-9h0m-12 12h0m-33-4h0m-181 1h0m12 4h0m185 2h0m10 5h0m6-4h0m3-1h0m8-1h0m16 13h0m-254 10h0m-1 1h0m-9 4h0m35 12h0m185-5h0m110 15h0m-292 9h0m-6 0h0m-6-12h0m-6 11h0m-49 16h0m27 5h0m16-6h0m3-8h0m5 8h0m6-10h0m247 31h0m-66-2h0m-125-2h0m-71 3h0m-18-9h0m1 19h0m16 8h0m165-12h0m9 5h0m35 3h0m3-8h0m36 3h0m31 9h0m-6 14h0m-8-11h0m-9 4h0m-21 3h0m-20-3h0m-19-2h0m-1 5h0m-53 0h0m-81-5h0m-23 7h0m-26 0h0m-14-9h0m-13 6h0m-1 7h0m-2-9h0m15 10h0m24 14h0m139-7h0m12 1h0m5 6h0m1-3h0m7-5h0m8 1h0m1-3h0m4-4h0m4 14h0m5-7h0m7-3h0m3 3h0m1 2h0m5 2h0m14-8h0m3-4h0m3 7h0m3-1h0m7-2h0m1 6h0m6 3h0m14-1h0m0 1h0m24-2h0m-28 11h0m-3 1h0m-8-2h0m-11 6h0m-2 4h0m-5-10h0m-29-1h0m-5-1h0m-6 5h0m-11-7h0m-3 4h0m-20 6h0m-17-6h0m-74 5h0m-8-1h0m-3 2h0m-39-5h0m-9 8h0m-6-3h0m-31 11h0m23 6h0m14-5h0m1 3h0m8 4h0m4-10h0m10 0h0m35-4h0m15 14h0m25 0h0m54-1h0m2-10h0m1 4h0m4-1h0m10 8h0m3-5h0m31 5h0m1-5h0m0-6h0m10-2h0m5 6h0m13 0h0m1-3h0m13 11h0m8-2h0m7-5h0m7 2h0m6-7h0m4 9h0m10-9h0m7 1h0m298 6h0m-269 13h0m-3 8h0m-63-8h0m-2-6h0m-9 8h0m-10 2h0m-2-8h0m-2 8h0m-8-2h0m-8-3h0m-2-5h0m-12 5h0m-4-6h0m-13 5h0m-40 4h0m-103 0h0m-42-8h0m-30 14h0m-5 1h0m12 16h0m20-13h0m7 3h0m11 6h0m2-1h0m3-4h0m3 8h0m3 0h0m0-11h0m14 3h0m28 5h0m5-12h0m6 13h0m14-10h0m13 11h0m13-6h0m8 7h0m0-2h0m18 2h0m0-2h0m7-13h0m17 1h0m8 0h0m1 1h0m10 0h0m1 6h0m0-1h0m2 8h0m1-10h0m1 0h0m7 4h0m9 4h0m13-10h0m11 6h0m0-5h0m7 1h0m2 0h0m0-2h0m5 5h0m1-8h0m57 9h0m-57 10h0m-10 13h0m-2-14h0m0 9h0m-17 3h0m-16-4h0m0-8h0m-2 5h0m0-3h0m-1 2h0m0-1h0m-2 0h0m-14 9h0m-1-1h0m-2 1h0m-32-6h0m-1-8h0m-25 12h0m-20-4h0m-1 5h0m-21-9h0m-40 10h0m-13-3h0m-7-9h0m-76-1h0m9 18h0m2 9h0m7 2h0m14-3h0m5-3h0m18 4h0m3-7h0m4 5h0m21 1h0m0-2h0m3 3h0m16-8h0m1 9h0m4-12h0m32 10h0m8-11h0m7 4h0m1 7h0m20 2h0m7 0h0m1-1h0m8 3h0m2-5h0m7 4h0m3-9h0m5 5h0m1 3h0m1-9h0m5 0h0m2 0h0m30 11h0m12-14h0m4 8h0m18-4h0m16 2h0m6 1h0m13 7h0m-19 14h0m-2 1h0m-10-4h0m0-3h0m-11-7h0m-12 12h0m-5-2h0m-2-1h0m-31 0h0m-2 5h0m-8-10h0m-60 0h0m-11-1h0m-4 4h0m-3 3h0m-1-3h0m-7 7h0m-18-1h0m-7-10h0m-1 2h0m-6 10h0m-9-14h0m-17 11h0m0-11h0m-3 11h0m-1 0h0m-36-11h0m0 15h0m-5-13h0m-1 0h0m-32 14h0m11-1h0m9 9h0m19 2h0m24 0h0m6-2h0m4 2h0m1-8h0m3 10h0m7-7h0m2-3h0m4 12h0m5-10h0m1 9h0m14-11h0m40 10h0m44-8h0m6 5h0m10-5h0m1 3h0m23 3h0m9-7h0m11 9h0m9-11h0m1 7h0m21-3h0m-5 15h0m-9-4h0m0 15h0m-3-11h0m0 5h0m-21-7h0m-3 6h0m-5 0h0m0 4h0m-2 1h0m-2-3h0m-5-6h0m-7 10h0m-12-8h0m-5-2h0m0 2h0m-8 3h0m-10-3h0m-1 3h0m-35 1h0m-28 5h0m-2-15h0m0 15h0m-8-13h0m-16 1h0m-8 7h0m-20-9h0m-7 3h0m-2 1h0m-10 5h0m31 8h0m6 4h0m11-1h0m0 2h0m2-1h0m6 1h0m6-6h0m11 10h0m12-5h0m5-4h0m0-1h0m6 10h0m5-10h0m3 0h0m12-1h0m10-1h0m47 8h0m2-5h0m17-1h0m12 19h0m-56-2h0m-20-2h0m-1 0h0m-12 0h0m-15 4h0m-4-3h0m-47 2h0m45 12h0m27 2h0m39 16h0m-68 30h0m78-13h0m-81 15h0m11 17h0" stroke="#f0e100"/><path d="M1147 721h0m175 20h0m25 6h0m-240 31h0m37 5h0m2-3h0m0 3h0m0-12h0m1-1h0m0 13h0m2-7h0m0 2h0m1-6h0m0-4h0m2 13h0m1-3h0m5-3h0m5 3h0m3-5h0m0-3h0m2-1h0m2 7h0m6 6h0m197 13h0m-160 5h0m-46-4h0m-3-6h0m-4 1h0m-5 4h0m-1 0h0m-3-4h0m-8 1h0m-3-6h0m-31 24h0m15 2h0m16-8h0m0 6h0m7 2h0m7 0h0m11 2h0m1-9h0m4 1h0m1 2h0m34-4h0m1 10h0m6-11h0m0 10h0m1-4h0m7 4h0m0-3h0m9-1h0m111 0h0m7-4h0m6 2h0m0 6h0m5-3h0m8 0h0m1-8h0m0 9h0m0 5h0m13 7h0m-14 1h0m-8-2h0m-90 8h0m-13-11h0m-31-2h0m-2 1h0m-52 0h0m-4 0h0m-1 10h0m-5-8h0m-6 0h0m-24 1h0m6 13h0m49-1h0m60 1h0m17 13h0m112 4h0m-88 6h0m-8 1h0m-26 4h0m-2-3h0m-9 2h0m-3-10h0m-2-2h0m-43 13h0m-3-5h0m-4-6h0m-17 10h0m-17-9h0m-2 12h0m-35 10h0m13 4h0m3 1h0m3-3h0m0 2h0m1 1h0m3-9h0m5-3h0m3 7h0m6-2h0m0-8h0m13 12h0m40 4h0m5-9h0m3-1h0m15-1h0m15 1h0m16 1h0m4 5h0m2-6h0m46 10h0m3-1h0m0-11h0m32 11h0m2-1h0m16 4h0m-8 9h0m-14-2h0m-10 2h0m-7-7h0m-2-3h0m-2 10h0m-3-3h0m-15 5h0m-27-8h0m-3-2h0m-1 7h0m-4 5h0m-1 0h0m-15-12h0m-3 2h0m-4 9h0m-4-13h0m-2 12h0m-3-4h0m-10 2h0m-6-6h0m-2 1h0m-1-2h0m-5 9h0m-1 2h0m-3-8h0m-5-1h0m-1 7h0m-1-6h0m-5-1h0m-12 1h0m-7-4h0m-5 8h0m-30-2h0m-22-5h0m-3 11h0m-2-4h0m-28 13h0m40 3h0m1-7h0m1 10h0m0-10h0m1 7h0m8 4h0m7-4h0m18-2h0m14-3h0m1-4h0m1 4h0m2-6h0m3 7h0m5 0h0m4-4h0m2 12h0m17-6h0m18-6h0m6 11h0m17-9h0m0-4h0m11 0h0m8 13h0m4-1h0m52-7h0m2 5h0m31 19h0m-25-10h0m-6-1h0m-4 7h0m-17-1h0m-28 6h0m-1-3h0m-4-1h0m-6 1h0m-4-9h0m-2 9h0m-3-6h0m-3 8h0m-4-3h0m0 3h0m-26-13h0m-7 6h0m-2 6h0m-13-6h0m-5-6h0m-3 11h0m-15-2h0m-3 3h0m-20-10h0m-5 12h0m-8-1h0m-4-7h0m-2 7h0m-12-9h0m-1 4h0m-10 5h0m-1 0h0m-8-5h0m-22-6h0m-14 1h0m-2 3h0m-5 7h0m49 7h0m1-2h0m39 5h0m0-2h0m4 0h0m1 0h0m1 1h0m3 3h0m0-1h0m2 3h0m10-5h0m0 5h0m3-1h0m1-5h0m10 8h0m10-7h0m1 5h0m9-9h0m3 2h0m4 8h0m11-10h0m1 5h0m1 0h0m7-2h0m1 4h0m2-3h0m2 1h0m1-6h0m14 8h0m31 5h0m8-11h0m20 7h0m46 6h0m-5 4h0m-43 10h0m-7 0h0m-12-13h0m-11 2h0m-3 10h0m-11 0h0m-3 1h0m-10-3h0m-10-2h0m-5-9h0m-3 12h0m-1 3h0m-5-3h0m-9-3h0m-10 5h0m-11-14h0m-12 12h0m-9 1h0m-2-6h0m-8-7h0m-1 1h0m-1 12h0m-1-14h0m-11 6h0m-12 4h0m-9 3h0m-2-1h0m-11-10h0m-15 12h0m-5-3h0m-4-5h0m-9-5h0m-6 11h0m-2 7h0m27 1h0m13 5h0m11 6h0m2-14h0m15 8h0m0 6h0m1-3h0m8-7h0m0-2h0m2-1h0m5 5h0m8-1h0m4-2h0m0 0h0m12 6h0m5 5h0m20-13h0m12 9h0m4-5h0m3-6h0m15 16h0m2-3h0m0 3h0m1-8h0m2 7h0m0-14h0m5 14h0m2-4h0m3 4h0m2-6h0m0-4h0m5-5h0m8 12h0m54-1h0m6 2h0m15 0h0m21-5h0m3 4h0m6-4h0m18 2h0m-21 7h0m-1 8h0m-17 3h0m-15-10h0m-17 0h0m-41 11h0m-5-7h0m-1 9h0m0-3h0m-1-8h0m-18 3h0m-11 6h0m0-9h0m0 6h0m-2-8h0m-4 12h0m-2-13h0m-1 12h0m0-10h0m-2 5h0m-4 3h0m-9-1h0m-25 3h0m-13 1h0m-2 2h0m-2-13h0m-2 0h0m-5-1h0m-2 6h0m-2-3h0m-1 6h0m-1-8h0m-10 12h0m-1-8h0m-9-7h0m-1 5h0m-9 0h0m-1 8h0m-25-5h0m-4-2h0m-13 3h0m-13 6h0m-2 11h0m30 1h0m2-2h0m10 5h0m3-11h0m16 7h0m3 6h0m8-15h0m1 7h0m4 0h0m5-4h0m13 12h0m5-2h0m8-7h0m6 7h0m24 0h0m11 0h0m5-13h0m2 10h0m2-8h0m0 12h0m8-1h0m3-7h0m0 8h0m0-13h0m8-2h0m3 8h0m3-4h0m2 10h0m37-10h0m8 11h0m12-4h0m22 4h0m-3 7h0m-1 4h0m-21-10h0m-33 13h0m-2-3h0m-6 1h0m0-3h0m-1 2h0m-7 3h0m-4-5h0m-1-2h0m-12 2h0m-3-3h0m-1 9h0m0-8h0m-10 3h0m-6-1h0m-1-6h0m-5 7h0m-4-7h0m-5 9h0m0-7h0m-2-1h0m-1 9h0m-3-4h0m0 7h0m-14-5h0m-2-5h0m-2 0h0m-9 0h0m-1-3h0m-4 5h0m-1-1h0m-21 8h0m-23-12h0m-2 11h0m-13-2h0m-5-8h0m-1 1h0m-4 1h0m-42 26h0m38-8h0m15-2h0m2-1h0m9 9h0m12-6h0m7 9h0m0-1h0m2-6h0m0-2h0m1 1h0m4-3h0m30 7h0m1 1h0m4-1h0m7-3h0m3 0h0m16-2h0m4 0h0m19-3h0m4 7h0m0-5h0m6 10h0m1-13h0m0 11h0m2-7h0m9-5h0m7 10h0m3 0h0m3-1h0m21-10h0m3 11h0m6-7h0m0 5h0m21-5h0m5-3h0m3-2h0m0 8h0m1 1h0m5-3h0m2 9h0m3-6h0m8-5h0m-12 24h0m-4-1h0m-9 1h0m0-12h0m0 9h0m-5 5h0m-13-8h0m-7 3h0m-17-2h0m-4 6h0m-6-13h0m-11 6h0m-1 1h0m0-5h0m-45 8h0m0 3h0m-1-1h0m0 2h0m-3-2h0m-8-5h0m-12-6h0m-21 15h0m-1-12h0m-2 3h0m-8-5h0m-1 6h0m-14 5h0m-14-8h0m-14-2h0m-30 7h0m-4 3h0m-23 16h0m9-3h0m1-1h0m20 3h0m10-5h0m2 7h0m7-6h0m8-1h0m1 7h0m12-11h0m2-1h0m0 12h0m7-14h0m5 8h0m12-5h0m14 9h0m0-8h0m2-4h0m6 13h0m1-8h0m16 11h0m3-11h0m1-4h0m2 3h0m1 0h0m11 11h0m14-6h0m3-8h0m5 7h0m5 7h0m3-9h0m17 5h0m2-8h0m4 2h0m2 2h0m18-4h0m10 2h0m1 4h0m24-9h0m4 6h0m5-4h0m2 10h0m7 0h0m15-8h0m30-2h0m7 4h0m29 21h0m-2 5h0m-4-9h0m-1-1h0m-111-4h0m-7-1h0m-11 8h0m-4-2h0m-17 1h0m-8 7h0m-33-11h0m-2 0h0m-1 0h0m-17-2h0m-1 4h0m-6-6h0m-9 11h0m-5-3h0m-5-7h0m-14 11h0m-2-12h0m-2 7h0m-8 4h0m-5 0h0m-1-6h0m-1 9h0m-3-6h0m-1-5h0m-15 12h0m-13-12h0m-6 9h0m-12-4h0m-7-4h0m-5 5h0m-1 19h0m4 2h0m5-6h0m10 3h0m0-4h0m20 7h0m1-4h0m11-1h0m11-5h0m7 5h0m3 5h0m4 2h0m0-13h0m6 6h0m2 1h0m4 4h0m1-6h0m1-2h0m8 6h0m10 2h0m6-3h0m7-3h0m6 2h0m9-4h0m4 1h0m4-2h0m3 1h0m8-5h0m2 6h0m2 0h0m4 1h0m53 1h0m15-4h0m2 8h0m10-1h0m1 1h0m64 0h0m5 2h0m3 1h0m24 9h0m0 3h0m0-4h0m-26 5h0m-47-5h0m-21 0h0m-5-4h0m-7 11h0m-13-9h0m-6-3h0m-6-1h0m-4 9h0m-4-8h0m-5 13h0m-12-14h0m-33 5h0m-7 4h0m-2-5h0m0 5h0m-3 1h0m-4-3h0m-13 4h0m-8-6h0m-2 3h0m-2-4h0m-14 1h0m-4 5h0m-1-5h0m-4-3h0m-9 9h0m-3-7h0m-2 1h0m-12 2h0m-7-8h0m-9 9h0m-11-1h0m-9-3h0m0 2h0m-2 6h0m-8-3h0m-46 5h0m35 8h0m10-6h0m30 0h0m10 2h0m13 6h0m3-1h0m2 1h0m3-1h0m27 1h0m2 5h0m12-12h0m4 7h0m2-7h0m2 11h0m4-8h0m22 0h0m1 2h0m19 8h0m19-4h0m4-2h0m1-8h0m36 9h0m17-6h0m11 11h0m52-16h0m4 31h0m-9-1h0m-58-12h0m-16 14h0m-17-16h0m-8 2h0m-7 6h0m-31-6h0m-22 13h0m0-2h0m-41-9h0m-4 4h0m-1 0h0m-4-3h0m-3 9h0m-11-7h0m-9-5h0m-8 4h0m-56 1h0m-6 7h0m-10-11h0m8 16h0m18 12h0m36-2h0m13-5h0m26-7h0m23 7h0m22 6h0m2-10h0m1-4h0m9 13h0m16-4h0m-5 10h0m-47-3h0m-1 0h0m-25 10h0m-15-1h0m-43-8h0m-8 12h0m-8-10h0m30 25h0m8 0h0m5-7h0m5 1h0m6-5h0m2 15h0m1-2h0m59-7h0m3 9h0m1-9h0m22 15h0m-3 5h0m-13-9h0m-2 3h0m-3 2h0m-6-4h0m-1 10h0m-29-1h0m-9-11h0m-12 6h0m-7 9h0m-5-8h0m-30-7h0m-10 11h0m-2-4h0m-45 9h0m87 4h0m1 10h0m8-8h0m10 4h0m4-10h0m5 9h0m5-7h0m16 5h0m12-8h0m14 1h0m1 31h0m-4-15h0m-10 9h0m-1-4h0m-3 9h0m-9 0h0m-17-8h0m-4-4h0m-17 5h0m6 15h0m55 5h0m5-3h0m5 2h0m-56 22h0" stroke="#009e73"/><path d="M802 135h0m-178 47h0m279 325h0m-12 3h0m-51-8h0m-71 8h0m-33 12h0m15-8h0m7 4h0m3-5h0m32 10h0m20-4h0m4 4h0m4-8h0m65-1h0m47 12h0m51-11h0m-37 23h0m-14-3h0m-5 3h0m-11 3h0m-7-5h0m-42-1h0m-3-5h0m-6 6h0m-33 1h0m-40 4h0m-75-9h0m-41 20h0m85-6h0m26 6h0m34 2h0m10 5h0m20-14h0m13 15h0m20-7h0m39-1h0m14 2h0m12-6h0m4 7h0m5-10h0m7 0h0m44 4h0m68 22h0m-103-4h0m-27-5h0m-2 8h0m-8-7h0m-66-1h0m-28-1h0m-41 4h0m-62 10h0m-23-3h0m-19-11h0m35 16h0m11-1h0m2 8h0m18 3h0m25 4h0m1-3h0m5-8h0m1 3h0m19-5h0m39 2h0m101 8h0m32-8h0m41-3h0m6 11h0m2 2h0m24 0h0m12-5h0m67 21h0m-72-1h0m-13 2h0m-4-9h0m-6 4h0m-4-5h0m-12 4h0m-14 6h0m-1-1h0m-9 0h0m-109-5h0m-11 5h0m-158-5h0m-521 17h0m588-4h0m10-5h0m73 14h0m20-15h0m32 10h0m23 4h0m28-7h0m18 1h0m2 2h0m3-1h0m3 1h0m2-10h0m10 11h0m12 4h0m42-15h0m6 15h0m1-9h0m8 4h0m11-4h0m14 4h0m30 3h0m28-2h0m2 7h0m-30 9h0m-33 3h0m-24-10h0m-1 10h0m-8-13h0m-11 9h0m-14-3h0m-6 0h0m-6 7h0m-30-1h0m-3-8h0m-4 11h0m-9-6h0m-55 6h0m-37-6h0m-2-9h0m-20 2h0m-85 4h0m-131 23h0m28-10h0m75 3h0m0 9h0m21-4h0m3 2h0m92-5h0m123-7h0m1 0h0m1 5h0m11 1h0m6 6h0m2-1h0m1-2h0m0 3h0m12 0h0m0-6h0m10 3h0m4 2h0m7 1h0m3-4h0m2 4h0m21-14h0m35 11h0m685 13h0m-671-1h0m-22 2h0m-19 5h0m-24 1h0m-19-1h0m-11-13h0m-18 2h0m-43 11h0m-69-9h0m-25-1h0m-85-4h0m-3 11h0m-3 2h0m-11-8h0m-5-2h0m-1 8h0m-17 2h0m-16-2h0m-2-7h0m-48 10h0m-33-2h0m-6 3h0m-13-8h0m7 19h0m19-6h0m10-1h0m14 10h0m6-7h0m5 7h0m9-9h0m30-1h0m5 11h0m2-1h0m4-3h0m30-6h0m12-4h0m16 6h0m132 8h0m81-6h0m50-5h0m22 8h0m175 15h0m-482 3h0m0-10h0m-3 3h0m-13 2h0m-18-6h0m-20 0h0m-31 13h0m-1-4h0m-4-9h0m-4 5h0m-14 8h0m-9-7h0m-10 3h0m-1-8h0m0-2h0m-2 14h0m-29 12h0m27-1h0m4 3h0m12-6h0m5-1h0m20-1h0m44-3h0m2 9h0m8-2h0m17-5h0m32 0h0m250-2h0m-101 16h0m-46 7h0m-37 2h0m-74-2h0m-44 4h0m-1 1h0m-53 2h0m-4-8h0m-2-2h0m-1 2h0m-16 2h0m-14-3h0m-1 20h0m7 0h0m1-6h0m7-1h0m1 11h0m34-2h0m3 3h0m0-2h0m1-10h0m5 11h0m8-2h0m1-8h0m3 3h0m0 3h0m46 3h0m77-1h0m10-3h0m0 1h0m6-7h0m5 1h0m8 2h0m11 4h0m2 0h0m3 4h0m4 0h0m7-9h0m8-5h0m14 6h0m16-2h0m18 2h0m6-3h0m30 6h0m192 2h0m75-9h0m44 5h0m10 14h0m-26 0h0m-271 8h0m-4-1h0m-18-8h0m-6 6h0m-9-10h0m-2 14h0m-9-11h0m-6-3h0m-7 13h0m-9-2h0m-14-9h0m-28 0h0m-5 3h0m-10 8h0m-5-4h0m-16-2h0m-31-6h0m-62 2h0m-8 3h0m0-3h0m-8 3h0m-12-4h0m-1 1h0m0-1h0m-24 7h0m-2-4h0m-6 7h0m-7-11h0m-7 7h0m-4 0h0m-2 1h0m-8 6h0m-6-9h0m-4-2h0m-9-4h0m0 4h0m-1 10h0m0-13h0m0 4h0m-12 9h0m-1-10h0m-14 10h0m-22-1h0m24 14h0m12 2h0m4-13h0m1 15h0m2-4h0m9 3h0m3-5h0m5-8h0m10 4h0m1 5h0m1 5h0m8-2h0m3-13h0m9 1h0m1 11h0m18-4h0m19 3h0m3 2h0m3-2h0m38 1h0m53-12h0m17 11h0m42-8h0m1 5h0m1 7h0m4-11h0m2 9h0m4-4h0m4-6h0m17 4h0m3 1h0m11 5h0m0-13h0m19 2h0m21 3h0m259 1h0m18 22h0m-252-10h0m-21 2h0m-2-4h0m-57 3h0m-3 4h0m-6 2h0m-1-4h0m0 5h0m-6 3h0m-2 0h0m-1 1h0m0-9h0m-8 2h0m-38-1h0m0-4h0m-4 0h0m-6 0h0m-51 4h0m-42 7h0m-4-6h0m-5-8h0m-61 10h0m-3-5h0m-7-3h0m-26 10h0m-3-6h0m-2-2h0m-7 1h0m-4 20h0m16 6h0m12 0h0m0-15h0m9 11h0m0-7h0m11 2h0m35 1h0m11-3h0m5 4h0m8-6h0m1-1h0m13 2h0m29 7h0m23 1h0m6-6h0m12 11h0m13-11h0m2 7h0m6-4h0m28 3h0m7-4h0m17 5h0m4-1h0m3-8h0m2 3h0m10-2h0m18 10h0m11-6h0m0 5h0m2-8h0m5 9h0m1-5h0m22 2h0m317 0h0m-321 13h0m-2 0h0m-3 3h0m-11-1h0m-7-2h0m-2 3h0m0-8h0m-3 7h0m-3-2h0m-3-4h0m-3 5h0m-1-1h0m-3 4h0m-8 3h0m-1-2h0m-19-1h0m-5 1h0m-6-2h0m-15-9h0m-2 13h0m-6-3h0m-13-4h0m-3 3h0m-9-6h0m-4 6h0m-2 0h0m-82-2h0m-31-9h0m-11 4h0m-1 5h0m-5-8h0m-15 5h0m-6 8h0m-1-6h0m-9-3h0m-6 4h0m-13-7h0m-5 12h0m-4-13h0m-18 3h0m-14 15h0m2 0h0m16 5h0m3-8h0m27 13h0m36-8h0m12 0h0m14-2h0m1 2h0m4 11h0m6-1h0m3-2h0m8-7h0m3 10h0m4 0h0m3-6h0m11-1h0m17-6h0m41 0h0m11 10h0m10 0h0m2-9h0m1 0h0m6-4h0m4 8h0m12-1h0m1-5h0m4 12h0m5-1h0m4-4h0m11-3h0m7 5h0m37-8h0m6-1h0m2 1h0m8 8h0m30-4h0m-3 16h0m-20 3h0m-9 5h0m-42-6h0m-6 5h0m-22 1h0m0-4h0m-11-10h0m-19 13h0m-21-6h0m-3 4h0m-7-4h0m-9 7h0m-55-7h0m-36 3h0m-1 5h0m-6-13h0m-2 6h0m-1 2h0m-26 1h0m-1-8h0m-24 12h0m-7-15h0m-1 9h0m-18-10h0m-5 9h0m0-5h0m0 3h0m-14 16h0m3-4h0m6 3h0m1 5h0m10 0h0m3 0h0m29-3h0m15-3h0m8 9h0m6 1h0m6-2h0m10 1h0m9-3h0m12 3h0m6-5h0m6-4h0m5 7h0m18 0h0m9 1h0m0 1h0m19-7h0m7 8h0m16-4h0m11 4h0m4-11h0m5 6h0m7 1h0m3-1h0m2-1h0m3 4h0m1-10h0m4-3h0m9 0h0m13 0h0m30 7h0m0 5h0m3-7h0m18 6h0m1-1h0m59-4h0m45 3h0m16 5h0m-73 6h0m-25 1h0m-11 5h0m-2-7h0m-4 11h0m-11-4h0m-9-5h0m-6 1h0m-9 6h0m-17-11h0m0 1h0m-5 6h0m0 3h0m-1-10h0m-16 3h0m-23 10h0m-17-11h0m-4 13h0m-21-5h0m-25-6h0m-2 6h0m0 4h0m-3-9h0m-9-3h0m-4 12h0m-6-11h0m-4 11h0m-2-5h0m-4-8h0m-7 12h0m-5-9h0m-2 6h0m-1-11h0m-6 13h0m-7 1h0m-9-4h0m-13 5h0m-18-14h0m-6 6h0m-2-4h0m0 8h0m-4 0h0m-1-10h0m-22 7h0m-6 1h0m-6 5h0m-13 11h0m36-2h0m1-2h0m7-1h0m4 11h0m17-2h0m5-2h0m11-7h0m9 0h0m16-1h0m1-1h0m12 10h0m18 1h0m6-4h0m6-6h0m3 11h0m0-9h0m0-2h0m5 6h0m15 2h0m8-9h0m6 11h0m1-5h0m3-8h0m16 16h0m11-1h0m6-6h0m11-2h0m10 5h0m8-4h0m5-6h0m15-1h0m5 13h0m1-4h0m2 1h0m5-5h0m1-6h0m5 16h0m2-6h0m4-3h0m13 0h0m5-4h0m2 6h0m20-8h0m18 12h0m4-12h0m9 7h0m44-1h0m-64 12h0m-7 7h0m-5-7h0m-11 1h0m-7-3h0m0 14h0m-1-8h0m-1 4h0m-26-4h0m-13 4h0m-10-5h0m-1 8h0m-2-8h0m-2 7h0m-4 1h0m-6-4h0m-8-3h0m-2 3h0m-1-10h0m-21 7h0m-4-6h0m-14 5h0m0 7h0m-9 2h0m-5-7h0m-3-7h0m0 4h0m-4 0h0m-29 0h0m-2 9h0m-14-7h0m-11 9h0m-6-1h0m-1-11h0m0 6h0m-2 1h0m-2-7h0m-5-2h0m-7-1h0m-10 12h0m-3 1h0m-1 1h0m-5-6h0m-11 5h0m-26-14h0m-26 32h0m13-6h0m9 3h0m16 3h0m11-3h0m22-11h0m35 7h0m40 3h0m2-4h0m11-2h0m11-6h0m8 13h0m16-1h0m0-2h0m7 4h0m13-4h0m13 1h0m8 0h0m28-9h0m12 8h0m23-4h0m7 3h0m10-8h0m14 21h0m-15-6h0m-9 2h0m-6 5h0m-25-6h0m-8 3h0m-18-2h0m-15 4h0m-10-4h0m-1 5h0m-5-7h0m-10 16h0m-1-1h0m-2-8h0m-33 9h0m-11-9h0m-5 4h0m-18-8h0m-13 4h0m0-5h0m-8 0h0m-35 4h0m-1-5h0m-2 9h0m-1-3h0m-1-4h0m-4 4h0m-6-2h0m0 6h0m-2-6h0m-1 2h0m-7 1h0m-1-2h0m-32 6h0m-2-11h0m-37 5h0m2 12h0m13 0h0m49 3h0m18 2h0m5 2h0m9-2h0m21-5h0m6 6h0m6-5h0m5 1h0m34 4h0m17 7h0m36-3h0m3-5h0m6 0h0m0-2h0m2-2h0m1 12h0m59 0h0m14-5h0m20-3h0m-19 12h0m-16 10h0m-18-6h0m-5-6h0m-8 1h0m-5 5h0m-8 0h0m-7 8h0m-8-9h0m-2-1h0m-52 1h0m-29 7h0m-3 2h0m-1-12h0m-5 9h0m-28-5h0m-22 6h0m-4 0h0m-1 0h0m-8 0h0m-52-8h0m-6 5h0m30 13h0m6-1h0m6-1h0m1 4h0m2 4h0m8 2h0m4-9h0m7 2h0m4-2h0m1-5h0m5 13h0m1-6h0m3 1h0m7-3h0m7 2h0m29 3h0m26-7h0m9-3h0m3 12h0m2 1h0m4-1h0m21-10h0m1-3h0m22 15h0m8-5h0m5 0h0m0-3h0m27 8h0m4-2h0m2-9h0m31 10h0m27-10h0m16-3h0m51 9h0m398 20h0m-74-11h0m-306 12h0m-86-11h0m-62-3h0m-16 3h0m-8 0h0m-19-4h0m-3 6h0m-5 2h0m-15 8h0m-7-5h0m-4-4h0m-8 7h0m-13-2h0m-5-3h0m-1-8h0m-46 10h0m-4-6h0m-9 7h0m-13-10h0m-5 0h0m-2-1h0m-5 14h0m-6-4h0m-1-3h0m-3 5h0m-4 2h0m-37-4h0m-10-9h0m-2 10h0m-5-8h0m-4-3h0m-10 6h0m10 10h0m1 14h0m5-7h0m43 0h0m8-4h0m2 1h0m5 5h0m45-7h0m27 6h0m7-7h0m9 2h0m4-1h0m4 9h0m7 2h0m27-5h0m11-2h0m2 7h0m2-5h0m58-5h0m78 22h0m-4 2h0m-9-5h0m-88-4h0m-4 8h0m-6-10h0m-7 2h0m-6-1h0m0 5h0m-1 2h0m-23-3h0m-2 5h0m-4-5h0m-25 9h0m-1-11h0m-1 5h0m-6-4h0m-27 5h0m-22 1h0m-20-9h0m-14 5h0m-7 5h0m-16-1h0m-19-4h0m-20 5h0m4 17h0m101 1h0m30-7h0m31-6h0m44 3h0m2 5h0m0 2h0m88-8h0m55-1h0m10 8h0m20-9h0m-85 28h0m-12-10h0m-49 4h0m-121-3h0m7 13h0m167 3h0m15 0h0m91 18h0m-84 4h0m-16-3h0m-10 9h0m-71-12h0m-31 1h0m-122 3h0m4 13h0m4-1h0m11 5h0m32 5h0m47 1h0m221 16h0m-147-12h0m-200 29h0m98-8h0m43 8h0m71-16h0m169 12h0m13-10h0m-138 26h0m-77 2h0m-3-12h0m-4 5h0m-26-6h0m-89 9h0m-6 2h0m-50-5h0m-8-2h0m-25 2h0m-2 7h0m0-6h0m-51-3h0m-8 4h0m7 13h0m4 1h0m3-6h0m10 4h0m15 6h0m9-9h0m21 4h0m2 1h0m7-7h0m16 3h0m9 13h0m3-12h0m18 7h0m131-5h0m128 3h0m-180 10h0m-64 6h0m-19 0h0m-10-8h0m-6 5h0m-18-2h0m-3 6h0m0 4h0m-33-4h0m-7-6h0m-20 7h0m-10 1h0m-7-7h0m-5 11h0m6 8h0m30-3h0m7 6h0m34-7h0m10 0h0m0 8h0m2-2h0m0-5h0m12-2h0m19 5h0m1-1h0m10 6h0m24-10h0m11 10h0m27-6h0m45 9h0m94-4h0m795 2h0m-639 18h0m-67-5h0m-43-1h0m-122-2h0m-130-4h0m-10 0h0m-41 1h0m-13-4h0m-10 5h0m-17-5h0m-1 9h0m-28-10h0m-4 20h0m17 5h0m4-8h0m36 0h0m9 14h0m42-12h0m2 10h0m65 2h0m114-11h0m7 2h0m5 6h0m44-5h0m23-2h0m1 8h0m12-5h0m11 3h0m49-5h0m3 8h0m23-2h0m55-8h0m162 4h0m409 19h0m-397 2h0m-42-7h0m-138 5h0m0-1h0m-28 0h0m-25 0h0m-7-7h0m-12 0h0m-1 10h0m-3-3h0m-2 4h0m-14-12h0m-9 12h0m-3-12h0m0 1h0m-5 3h0m-16 8h0m-7-6h0m-1-8h0m-2 1h0m-13 0h0m-22 8h0m-5-7h0m-2 7h0m-5-9h0m-35 6h0m-29 9h0m-7-9h0m-14-2h0m-18-2h0m-20 10h0m-4-7h0m-16 11h0m-60-7h0m-12 1h0m-1 1h0m-1-11h0m-12 9h0m-13 3h0m-4-5h0m0 0h0m-12 6h0m-9-6h0m-25 5h0m-3-2h0m-4 4h0m-2-11h0m-5 2h0m-7 5h0m-28 3h0m25 16h0m11-2h0m23-2h0m15-2h0m19 4h0m15 5h0m21-12h0m4-3h0m22 13h0m18-11h0m18 9h0m3-1h0m95-6h0m7 5h0m4 1h0m7-6h0m5 7h0m4 0h0m14-1h0m5-3h0m3 0h0m3-6h0m26-2h0m4 6h0m4 0h0m7 10h0m3-7h0m1 0h0m10 3h0m5-2h0m5-3h0m6-6h0m9 7h0m2 1h0m2 6h0m0-3h0m1-10h0m5 9h0m2-9h0m5 7h0m11 0h0m15 5h0m9-1h0m1-5h0m54-4h0m3-2h0m33 10h0m16-8h0m38 9h0m9-1h0m8-12h0m460 25h0m-470-4h0m-39 6h0m0-4h0m-1-5h0m-16 0h0m-20 8h0m-27-4h0m-30-5h0m-5 8h0m-11-4h0m-7 3h0m-5 6h0m-2-8h0m-20-5h0m-2 3h0m-3-2h0m-3-1h0m-2 14h0m-18-11h0m-19 10h0m-6-7h0m-9-2h0m0 5h0m-20 0h0m-1-10h0m-7 7h0m-1-3h0m-10 11h0m-5-14h0m-9 2h0m-1 12h0m-11-11h0m-3-3h0m-13 2h0m-53 6h0m-21 0h0m-48 0h0m-5 3h0m-20 0h0m-57-3h0m-40-3h0m-11-3h0m-6-1h0m84 19h0m1 5h0m22 3h0m5-9h0m13 12h0m10-15h0m11 13h0m1-10h0m16 5h0m3-3h0m1 8h0m24-8h0m7 4h0m9-5h0m1 4h0m0-4h0m17 10h0m15-7h0m23 1h0m25 7h0m1-12h0m4 0h0m3 3h0m8-3h0m3 12h0m6-5h0m2-6h0m2 4h0m1 3h0m1-1h0m6-3h0m2 5h0m3-11h0m16 6h0m1 5h0m7 2h0m1-8h0m3 4h0m1-7h0m52 11h0m1-3h0m2 0h0m0 3h0m11-4h0m4-10h0m31 13h0m74-2h0m24-6h0m56 19h0m-99 4h0m-24-10h0m-7-1h0m-19 13h0m-3-7h0m-1-4h0m-48-1h0m-7 5h0m-5 2h0m-7 1h0m-19-7h0m-12 2h0m-3 8h0m-5-1h0m0-6h0m-7-6h0m-5 3h0m-21 9h0m-15 1h0m-3-14h0m-15 11h0m-1-1h0m-25 4h0m-20 1h0m-2-14h0m-7 2h0m0-1h0m-6 1h0m-10 7h0m-2-9h0m-15 7h0m-9 3h0m-1-2h0m0-7h0m-6 2h0m-5-3h0m-17 7h0m-8 5h0m-34-1h0m-11 14h0m13-6h0m24 12h0m31-11h0m1-4h0m12 5h0m18 1h0m0-4h0m79 3h0m9 3h0m4-1h0m23-1h0m5-5h0m16 3h0m5 4h0m5-1h0m0 5h0m3-1h0m2-10h0m12 12h0m9-1h0m8 3h0m2-3h0m8-7h0m6 2h0m5-2h0m3 4h0m3 5h0m15-1h0m13-7h0m52-4h0m69-1h0m1 14h0m4-13h0m17-1h0m17 14h0m15 11h0m-26-10h0m-25 13h0m-6-1h0m0-3h0m-10-8h0m-58 13h0m-10-5h0m0-1h0m-42-2h0m-17 5h0m-8-9h0m-7 4h0m-19 0h0m-4 8h0m0-10h0m-2-4h0m-16 1h0m-4 1h0m-1 2h0m-1 10h0m0-10h0m-3 11h0m-2-3h0m-2-3h0m-23 0h0m-6-4h0m-6-4h0m-5 9h0m-60 1h0m-34-11h0m-6 11h0m-8-7h0m-28 7h0m-23-9h0m-7 6h0m-4-4h0m-4-4h0m-4 3h0m-2 0h0m0-2h0m-11 7h0m-52 7h0m26 15h0m9-4h0m10-2h0m4 1h0m4-6h0m10 10h0m5-5h0m4-3h0m7-3h0m5-3h0m1 14h0m3-12h0m1 12h0m7-5h0m17-3h0m4-1h0m2 10h0m0-11h0m12-4h0m7 16h0m6-7h0m12 1h0m2-7h0m2 12h0m4-12h0m3-1h0m0 13h0m45-13h0m9 5h0m6-4h0m9 2h0m11 7h0m5 3h0m11-12h0m8 4h0m2-4h0m10 5h0m4 4h0m9-7h0m7 9h0m2-11h0m8 7h0m16 0h0m71-8h0m3 6h0m3 1h0m64 2h0m12-3h0m3-2h0m19 10h0m9-5h0m-16 16h0m-10 3h0m-5-3h0m-5-7h0m-13 6h0m-1 1h0m-1 5h0m-4-9h0m-4 6h0m-6 0h0m-28-8h0m-1 1h0m-24-2h0m-81 3h0m-2 2h0m-2-9h0m-10 4h0m-2 6h0m-15-6h0m-1 1h0m0 2h0m-6 7h0m-60-1h0m-10-5h0m-25-1h0m-3 1h0m-11 8h0m-6-11h0m-1-4h0m-5 2h0m-3 7h0m-2 2h0m-5-4h0m-2-5h0m-7 0h0m-1 0h0m-2 4h0m-9 0h0m-4 8h0m-5-13h0m-27-1h0m-2 5h0m-11 2h0m-6-2h0m-13 0h0m-23-3h0m50 20h0m32-2h0m6 8h0m0 1h0m1-6h0m5 8h0m1-14h0m15-1h0m13 2h0m1 12h0m3-15h0m12 7h0m4 5h0m3-5h0m8-4h0m4 4h0m21 0h0m1-5h0m2 10h0m0-8h0m10 10h0m8-10h0m3 12h0m21-11h0m29-2h0m2 1h0m10 5h0m15 2h0m10 2h0m2-10h0m24 8h0m4-3h0m23-5h0m60 6h0m14-4h0m10 6h0m35-3h0m-37 16h0m-7 3h0m-4-3h0m0 3h0m-7 3h0m-2-2h0m-3 0h0m-1-8h0m-3-3h0m-2 15h0m-109-8h0m-3 7h0m-3-1h0m-1 2h0m-8-11h0m-39 11h0m-4-14h0m-13 3h0m0 3h0m-17 7h0m-3-9h0m-5-2h0m-33 9h0m-8-10h0m-8 1h0m-17 1h0m-24 10h0m-15-7h0m-13-2h0m-2 8h0m0-9h0m-4 11h0m0-1h0m-8-1h0m-3-12h0m-3 0h0m-30 6h0m-5-1h0m-1 13h0m26 4h0m23-1h0m1 9h0m9-7h0m13 5h0m16-2h0m26-11h0m7 6h0m3 0h0m11-3h0m3 4h0m4 7h0m8-13h0m5 11h0m2 2h0m0-8h0m1 0h0m2-6h0m4 5h0m17 7h0m0 1h0m43-8h0m4 7h0m2-2h0m7-5h0m6 5h0m16 1h0m1-9h0m5 3h0m2-2h0m24 8h0m18 0h0m53-11h0m10 15h0m3-9h0m3 3h0m-5 11h0m-14 6h0m-40 0h0m-33 1h0m-9-5h0m-13-4h0m-17 0h0m-4 5h0m-3 6h0m-15-11h0m-1 13h0m-23-10h0m-20 1h0m-4 2h0m-2 6h0m-11-9h0m-4-6h0m-1 7h0m-6 3h0m-5-8h0m-2 3h0m-14 5h0m-4-9h0m-60 12h0m-1-8h0m-34 12h0m21 1h0m22 7h0m11-6h0m15 1h0m5-4h0m44 4h0m0 2h0m15 6h0m1-12h0m25 9h0m9-8h0m0 10h0m43-2h0m9 5h0m20 0h0m2-7h0m83-1h0m0-5h0m-79 30h0m0-11h0m-12 8h0m-4-6h0m-17-3h0m-24 8h0m-69 3h0m37 11h0m40-3h0m6 5h0m3-11h0m11 14h0m8-4h0m7-7h0m0 7h0m0 3h0m1-3h0m2 1h0m1-5h0m341 217h0m-190-9h0m-388 20h0m612-6h0m-30 26h0m-24-9h0m-1 1h0m-41 9h0m-6-12h0m-2 41h0m-39 2h0m-548 6h0m195 12h0m340-11h0m3 12h0m-49 3h0m-225 22h0m-114 24h0" stroke="#22b1ea"/><path d="M828 520h0m-34 24h0m-77 46h0m-69 27h0m13-1h0m19 10h0m-11-2h0m-27 3h0m-66 21h0m12 0h0m10-3h0m43 8h0m19-6h0m4 4h0m12-2h0m8 4h0m2-6h0m-17 17h0m-15 2h0m-11 3h0m-5-11h0m-2-2h0m-7 8h0m-4-1h0m-2-2h0m-12-3h0m-2 2h0m-1 9h0m-6 2h0m-2-12h0m-4 8h0m-6-8h0m-30 1h0m-3 7h0m-3 4h0m-3-14h0m0 4h0m-13 8h0m-10 14h0m6-5h0m10-1h0m4 6h0m2-6h0m8 7h0m4-6h0m8-3h0m14 2h0m41-3h0m5 1h0m9 4h0m1-5h0m1 24h0m-52-9h0m-25 5h0m-4 5h0m-7-5h0m-27 6h0m-4 2h0m-10-13h0m11 31h0m3-13h0m20 3h0m8-1h0m3 10h0m2-7h0m4 4h0m7-1h0m3 1h0m0-6h0m10 5h0m10 4h0m1-14h0m23 1h0m3-1h0m29 5h0m257-1h0m-18 20h0m-10-1h0m-280-2h0m-12-2h0m-7-1h0m-2 7h0m-7 0h0m-2-10h0m-4 8h0m-11 7h0m-1 0h0m-10-7h0m-10-1h0m-5-5h0m-15 2h0m-8-2h0m-1 10h0m-10-9h0m-2 2h0m-1 1h0m-11 13h0m5 6h0m9 6h0m7-7h0m18 4h0m8 3h0m14-10h0m3 4h0m9 4h0m10 3h0m3-15h0m19 5h0m3 3h0m2 3h0m17-8h0m10 10h0m26-4h0m169-2h0m-8 11h0m-8 8h0m-165-10h0m-8 4h0m-5 2h0m-28-6h0m-2 2h0m-5 0h0m-8 8h0m-1 2h0m-20-12h0m-2 2h0m-13 1h0m-14 11h0m-2-10h0m-7 7h0m-19-9h0m-28 27h0m4-3h0m5-6h0m6 7h0m2-1h0m13-7h0m0-1h0m18 11h0m1-8h0m2 9h0m1-1h0m1-1h0m4-2h0m1-5h0m1 8h0m4-8h0m0 1h0m7-2h0m1 2h0m4-6h0m0 0h0m1-1h0m0 11h0m3-5h0m9 0h0m29-5h0m22 5h0m19-3h0m13 2h0m4 0h0m6 8h0m190-9h0m4 7h0m10-10h0m-16 16h0m-14 2h0m-6-2h0m-5 11h0m-7 0h0m-190-6h0m-12 5h0m-2-3h0m-5 5h0m-23-1h0m-11-8h0m-1-2h0m-8 7h0m-5-5h0m-5 3h0m-4-6h0m-6 9h0m-7-8h0m-1 7h0m-6-1h0m-2-3h0m-4-2h0m-22 8h0m-12-1h0m-6 6h0m-4-4h0m-4 1h0m25 16h0m2-1h0m29-4h0m17-5h0m2 6h0m1-5h0m33 8h0m21 2h0m5-6h0m2-7h0m13 4h0m190 7h0m7-9h0m11 11h0m27 9h0m-15 7h0m-34-7h0m-206 6h0m-2-4h0m-16 3h0m-1-9h0m-3 10h0m-6-2h0m-5-5h0m0-1h0m-8 9h0m-20-3h0m-30 5h0m-16-6h0m-10 1h0m-26 9h0m16 4h0m1 1h0m7 3h0m0 1h0m7 0h0m1-11h0m9 10h0m8-5h0m1-1h0m10 5h0m8-2h0m5-3h0m13 2h0m3-1h0m17 4h0m16-3h0m4-3h0m4 7h0m2-1h0m4-11h0m245 1h0m10 7h0m167 22h0m-223-12h0m-164 3h0m-2 8h0m-8-2h0m-4-5h0m-18-2h0m0 10h0m-15-5h0m-13 7h0m-2-15h0m-3 9h0m-3-7h0m-4 9h0m-5 2h0m-13 2h0m-5-11h0m-3 7h0m-2-1h0m-2 1h0m-3-4h0m-8 5h0m-9-4h0m-7-5h0m-6 5h0m-10 4h0m-1-10h0m-1 4h0m-7 3h0m-14 1h0m-8-2h0m10 20h0m6-10h0m4 1h0m3 2h0m4 4h0m5 4h0m1-8h0m6-4h0m1 14h0m8-6h0m6 2h0m1 4h0m1-11h0m2-5h0m1 2h0m1-1h0m10 4h0m11-2h0m1-2h0m1 4h0m6 1h0m4 6h0m10-5h0m3 1h0m2-3h0m14 2h0m6 3h0m1-5h0m10 8h0m2-7h0m11-4h0m7 12h0m1-9h0m6 1h0m15 1h0m388-2h0m26 21h0m-20 5h0m-405-13h0m-3 7h0m-35 4h0m-6-11h0m-1 10h0m-15-1h0m-8-9h0m-1 12h0m-5 2h0m-2-13h0m-3 6h0m0-5h0m-1 10h0m-1-2h0m-6 3h0m-5-3h0m-6-2h0m-14-8h0m-6 6h0m-9 0h0m-4 5h0m-7-1h0m-5 1h0m-3-13h0m-6 2h0m-2 1h0m-2 21h0m15-3h0m2-2h0m2-3h0m4 2h0m13 7h0m2 6h0m2 0h0m9-4h0m1-1h0m6 6h0m5-11h0m6 6h0m7-9h0m6-2h0m1 13h0m3-7h0m0-1h0m0-1h0m1 10h0m23-7h0m30-2h0m2 8h0m433 18h0m-13-6h0m-413 6h0m-6-6h0m-5 5h0m-10-4h0m-3-5h0m-4 6h0m-6 0h0m-2 1h0m0-4h0m-9 5h0m-10-4h0m-6-9h0m-2 9h0m0 1h0m-2-6h0m0-3h0m-1 13h0m-3-11h0m-8 11h0m-5-10h0m-1 11h0m-4 0h0m-2-10h0m-2 9h0m-4-4h0m-1-8h0m-2 6h0m-13 5h0m-2 0h0m-14-2h0m-1 0h0m-13-4h0m0-5h0m-7-1h0m-28 8h0m22 22h0m4-9h0m24 9h0m12-5h0m11 0h0m25-4h0m0 2h0m1 7h0m4 1h0m6-8h0m7-5h0m16 6h0m8-1h0m1 5h0m0-9h0m0-1h0m3-2h0m4 10h0m9-8h0m8 10h0m5-8h0m0 8h0m3-12h0m46 5h0m336 8h0m34-2h0m5-9h0m15 23h0m-51 1h0m-15-2h0m-10-1h0m-346-4h0m-7 9h0m-8 2h0m0-1h0m-4 1h0m-1-6h0m-4-5h0m-6-3h0m-4 15h0m-3-3h0m-1 1h0m-8-6h0m-7-5h0m-5 12h0m-1-1h0m-1-13h0m-6 15h0m-5-4h0m-1 0h0m0-12h0m-10 2h0m-5 4h0m-11 1h0m-1 6h0m-17-11h0m-3 5h0m-6 3h0m-8 1h0m-1-6h0m-1 5h0m-13-2h0m-4 5h0m-2-12h0m-8 9h0m4 7h0m2 8h0m15-1h0m9 3h0m6 5h0m3-4h0m13-9h0m1 2h0m30 7h0m4-11h0m0 9h0m9-8h0m0 12h0m1-12h0m5 7h0m4 4h0m4-13h0m12 8h0m1-2h0m4 3h0m10-4h0m4 6h0m0-8h0m4 11h0m26-11h0m316 13h0m18-13h0m2 21h0m-4 4h0m-6-3h0m-21 3h0m-3-6h0m-16 1h0m-289 1h0m-3-4h0m-4 0h0m-4-3h0m0 9h0m-18-7h0m-4 9h0m-4-7h0m0 0h0m0 8h0m-4-1h0m-3 1h0m-19-12h0m-12 0h0m-6 15h0m-2-11h0m-2 10h0m-8-12h0m0 4h0m-10 4h0m-2-10h0m-7 12h0m0-3h0m-13-3h0m-13-4h0m-1 12h0m-15 1h0m-10-10h0m11 18h0m9-6h0m4 7h0m3-1h0m0-1h0m1 3h0m2-2h0m1 3h0m1-4h0m12 2h0m35 7h0m2-10h0m4-5h0m2 3h0m9 8h0m3-4h0m16 4h0m0-10h0m5-2h0m1 2h0m5 4h0m3-5h0m4 0h0m12 0h0m8 3h0m2 2h0m0 5h0m11-8h0m0 6h0m331 20h0m-335-8h0m-28 4h0m-17 0h0m-5 7h0m-104-6h0m-4 3h0m1 7h0m7 8h0m29-6h0m1 9h0m3 0h0m1-11h0m18 2h0m38-2h0m11 11h0m9-12h0m8 4h0m16 7h0m27-2h0m2-2h0m271 1h0m4 2h0m2-12h0m5 7h0m27 5h0m-4 6h0m0 10h0m-3-1h0m-32-9h0m-27 2h0m-76-5h0m-187 7h0m0-6h0m-8 5h0m-2-2h0m-38 11h0m-3-4h0m-10-4h0m-33-5h0m-15 11h0m-17 2h0m101 6h0m27-5h0m2 12h0m6-4h0m9 7h0m31-13h0m2 5h0m96 6h0m217-7h0m445-5h0m-432 18h0m-44 10h0m-7-13h0m-36 5h0m-177 6h0m-19-11h0m-31 16h0m-3-5h0m-9-10h0m-2 2h0m-4 11h0m-91-4h0m-21-1h0m-13-9h0m-31 0h0m-38 14h0m6 16h0m26-10h0m43 1h0m17 2h0m2 2h0m2-1h0m6 7h0m35-3h0m0-5h0m4 0h0m1 2h0m1 4h0m11-2h0m29 4h0m3-10h0m9 8h0m9-3h0m5-7h0m56 12h0m85-14h0m6 8h0m6-1h0m76-3h0m486 12h0m-440 8h0m-83-4h0m-11 7h0m-69 3h0m-68-5h0m-17-8h0m-9 1h0m-51 8h0m-10-6h0m-8 10h0m-2-14h0m-1 4h0m-4 7h0m-7-8h0m-5 5h0m-7 5h0m-5 1h0m-1-15h0m-1 9h0m-38 3h0m0-5h0m-3 6h0m-3 2h0m-6-14h0m-46 6h0m-3 5h0m-9-5h0m-7 2h0m-1 15h0m14-3h0m57 1h0m3-3h0m2-2h0m4 9h0m2 4h0m2-1h0m2-1h0m3 1h0m2-1h0m9 2h0m2-8h0m5 9h0m8 0h0m3-4h0m2-10h0m3 9h0m0-4h0m7-6h0m9 2h0m10 2h0m41 6h0m82-7h0m124-2h0m12 0h0m58 15h0m39 3h0m-79 1h0m-48-1h0m-104 3h0m-17 0h0m-34 3h0m-43-8h0m-53 11h0m-1-7h0m-4-4h0m-4 0h0m-13 3h0m-13 9h0m-11 4h0m20 5h0m22 0h0m37 8h0m38-9h0m4 5h0m0 2h0m39-11h0m17 8h0m682-8h0m-442 29h0m-16-13h0m-69 10h0m-25-9h0m-33 5h0m-86-6h0m-37 9h0m-108-9h0m-4 13h0m-3-9h0m-37 27h0m178-12h0m126 8h0m84 3h0m2 0h0m-13 6h0m-58 10h0m-37-3h0m-233 0h0m-35-12h0m-2 28h0m328-7h0m4-5h0m-24 28h0m-41-6h0m-4-5h0m-31 3h0m-70-2h0m82 29h0m29-6h0m72-1h0m62 2h0m-113 15h0m-60-3h0m-237 19h0m123 4h0m125-6h0m10-1h0m6-3h0m12-1h0m26 0h0m3 10h0m825 12h0m-855 5h0m-16-6h0m-200-7h0m-37 24h0m59 5h0m71-1h0m973 9h0m-8 4h0m-971 0h0m-65 7h0m-36-10h0m15 24h0m75 0h0m14 15h0m-18-10h0m-29 14h0m52 2h0m-25 16h0m-10 0h0m-24 1h0m24 21h0m65-3h0m17 19h0m-47-5h0m11 20h0" stroke="#0072b2"/><path d="M454 295h0m421 215h0m-82 28h0m43 35h0m-90-5h0m-65 10h0m116 23h0m-36-8h0m-10 4h0m-12 4h0m-144 20h0m49 0h0m3 3h0m21-7h0m15-2h0m4 8h0m30-8h0m42 1h0m44 5h0m18-10h0m8 6h0m72 2h0m281 0h0m-267 7h0m-35 11h0m-26 3h0m-62-1h0m-18-1h0m-8-13h0m-1 6h0m-32-4h0m-5 2h0m-72 6h0m-10 2h0m-28-5h0m-6 2h0m-13 6h0m-12-2h0m-2-14h0m17 17h0m22 3h0m5-2h0m49 11h0m41-5h0m93-3h0m4 9h0m2-2h0m10 2h0m72-1h0m313-1h0m-97 18h0m-87-2h0m-61-3h0m-40 6h0m-41-7h0m-4-2h0m-14 8h0m-56-5h0m-2 0h0m-13 6h0m-9-6h0m-2-4h0m-2 8h0m-17-9h0m-2 2h0m-42-3h0m-1 6h0m-14-6h0m-2 6h0m-1 6h0m-162 16h0m12-15h0m10 5h0m4 8h0m30-6h0m15 7h0m1-1h0m9-8h0m28 0h0m4 9h0m11 0h0m10 1h0m9-3h0m8 1h0m27-12h0m34 15h0m5-12h0m48-1h0m20 0h0m3 8h0m15-1h0m22-2h0m3-7h0m7 2h0m13 9h0m215-2h0m24 5h0m32-11h0m-106 22h0m-24-6h0m-41 5h0m-69-5h0m-2 12h0m-82-8h0m-3-7h0m-3 11h0m-5 2h0m-3-9h0m-2 0h0m-2 11h0m-7-1h0m-1-1h0m-1-8h0m-7-4h0m-4-1h0m-2 4h0m-22 4h0m-5 4h0m-1-7h0m-5 2h0m-21 4h0m-11-10h0m-22 5h0m-44 0h0m-50-1h0m-26-5h0m-19 8h0m-3 1h0m-24-8h0m-10 6h0m-17-5h0m5 15h0m8 0h0m3 1h0m5 7h0m8 1h0m14-8h0m2-2h0m15 1h0m8 9h0m43-1h0m1-2h0m16-6h0m11 14h0m11-4h0m10-10h0m1 3h0m12 8h0m18-12h0m6 7h0m5-6h0m37 4h0m4-4h0m3 0h0m1 6h0m3-2h0m11-4h0m0 10h0m24-2h0m11-1h0m12-6h0m16 10h0m51-8h0m7 3h0m20 3h0m9-7h0m10 11h0m153-4h0m113-8h0m-27 28h0m-55-2h0m-48-8h0m-20 1h0m-24-4h0m-1 14h0m-76-4h0m-5 2h0m-9-2h0m-25-7h0m-5 6h0m-4-6h0m-45 4h0m-12-5h0m-5 3h0m-5-1h0m-12 8h0m-13-4h0m-28-8h0m-12 8h0m-16-1h0m-47-5h0m-16 10h0m-7-5h0m-16 7h0m-11-10h0m-15 7h0m-32-8h0m-13-2h0m-9 6h0m-8-9h0m-3 2h0m-40 9h0m-11-9h0m-27 14h0m-19-2h0m14 10h0m23 6h0m43-5h0m45-9h0m29 8h0m0 4h0m3 3h0m2 1h0m10-13h0m20 3h0m6 5h0m4-7h0m10 0h0m1 6h0m54-7h0m1 11h0m57-7h0m26 8h0m12-5h0m57-1h0m0-2h0m1-3h0m10 11h0m27-12h0m33-1h0m50 9h0m42-10h0m12 7h0m1-7h0m2 8h0m8-7h0m2 1h0m104 12h0m27 9h0m-2 2h0m-28-2h0m-8-4h0m-1-1h0m-2 13h0m-2-6h0m-3 4h0m-1-8h0m-4-1h0m-50 9h0m-5-10h0m-11-3h0m-16 9h0m-47-10h0m-45 16h0m-19-16h0m-33 8h0m-34-7h0m-2 8h0m-38-5h0m-37 2h0m-14 7h0m-24-9h0m-2-3h0m-17 8h0m-7 2h0m-11 5h0m-39-6h0m-26-5h0m-3 3h0m-61 5h0m-3-4h0m-9 4h0m-8-3h0m-13-2h0m-6 2h0m-2 6h0m-4-6h0m-13-7h0m-11 4h0m-3-5h0m-37 4h0m-24 5h0m-6-5h0m-11 6h0m1 10h0m3-1h0m16-1h0m15 12h0m0-9h0m97 6h0m0-5h0m1 3h0m2-8h0m4 7h0m10 3h0m15-9h0m5-2h0m27 11h0m2-2h0m30-8h0m2 0h0m18 0h0m5 13h0m26-5h0m0 2h0m12 2h0m25-14h0m4 4h0m2 11h0m2 0h0m16-6h0m5-9h0m13 12h0m11 0h0m2-1h0m3-11h0m53 9h0m30-5h0m4 9h0m6 1h0m19-2h0m19-10h0m3 1h0m35 3h0m40-7h0m0 7h0m10 3h0m6-9h0m105 6h0m2-7h0m21 1h0m6 10h0m7-10h0m-36 25h0m-103 5h0m-3-15h0m-11 7h0m-4 2h0m-27 4h0m-12-9h0m-62-3h0m-12 9h0m-38-10h0m-40 14h0m-6-2h0m-8-1h0m-6-3h0m-60-5h0m-8-2h0m-24 3h0m-2 1h0m-3 9h0m-24-5h0m-17-1h0m-18-7h0m-50 3h0m-10 6h0m-1-1h0m-10-7h0m-13-1h0m-2 7h0m-1-6h0m-15 14h0m-62-3h0m-1 0h0m-29 12h0m19 6h0m16-10h0m37-1h0m3 4h0m41 1h0m12-7h0m2 2h0m6 11h0m23-14h0m40 10h0m20-8h0m5 12h0m23-12h0m13-1h0m21 9h0m4 4h0m11-4h0m4 0h0m20-5h0m10-2h0m28-3h0m68 8h0m14 6h0m35-5h0m59-7h0m14 2h0m6 6h0m117-1h0m132-7h0m-244 13h0m-54 1h0m-15 5h0m-60 6h0m-4-9h0m-2 2h0m-2-2h0m-16 0h0m-1 5h0m-40 5h0m-16-5h0m-26 3h0m-21-5h0m-82 2h0m-19 6h0m-6-13h0m-7 5h0m-57 4h0m-1 3h0m-1-4h0m-10 1h0m-10 5h0m-15-14h0m-3 8h0m-3-4h0m-1 4h0m-8 4h0m-8-13h0m-5 6h0m-9 3h0m-4-6h0m-1 7h0m-34-8h0m-9 4h0m-3-2h0m-48 12h0m-5-14h0m48 22h0m80-1h0m1-6h0m1 13h0m11-3h0m5 5h0m2-4h0m1-3h0m0-1h0m5-7h0m3 0h0m3 15h0m2-4h0m6 4h0m4-1h0m18-13h0m2 11h0m17-5h0m67 1h0m15 3h0m3-4h0m21 4h0m9-2h0m81-2h0m6-2h0m3-1h0m51 3h0m8-1h0m7-1h0m1 3h0m52-8h0m8 14h0m34 1h0m30-3h0m19-7h0m-48 15h0m-31 6h0m-19-9h0m-42 7h0m-14-2h0m-85 3h0m-50-5h0m0 5h0m-2 6h0m-70-13h0m-36 3h0m-2 10h0m0-9h0m-20 8h0m-26-14h0m-4 10h0m-2 4h0m0-11h0m-2-2h0m-2 1h0m-22-3h0m-14 5h0m-8 2h0m-9 7h0m-32-11h0m-13 6h0m-66 15h0m143-5h0m5 0h0m17-2h0m3 5h0m3-6h0m4 0h0m18 3h0m24 4h0m4 9h0m8-7h0m14-8h0m50 12h0m9-11h0m5 13h0m19-6h0m57-3h0m18-4h0m3 5h0m2 7h0m1-1h0m6-9h0m23 6h0m1-2h0m2 0h0m26 7h0m13-2h0m5-12h0m83 5h0m7 0h0m5 8h0m-14 3h0m-9 0h0m-4 2h0m-9 3h0m-3-1h0m-6 0h0m-58 0h0m-49-4h0m-24 15h0m-4-14h0m-22 12h0m-24-7h0m-20 2h0m-8 7h0m-1-8h0m-23 0h0m-2 1h0m-1-1h0m-78 0h0m-20 5h0m-4-4h0m-22-5h0m-9 8h0m0 1h0m-2-5h0m-1-7h0m-7 6h0m-22 5h0m-8 0h0m-16-7h0m-4 10h0m-10-1h0m-25-3h0m-73 8h0m5 5h0m1-4h0m14 5h0m28-6h0m19 7h0m22 0h0m9-5h0m13 4h0m2-4h0m2 1h0m4-5h0m2 2h0m6 6h0m25-6h0m22 9h0m2-4h0m2-4h0m78 4h0m13-4h0m16-3h0m16-1h0m13 11h0m10-7h0m3 10h0m0-4h0m2 0h0m3-5h0m24 7h0m4 2h0m5-11h0m3 0h0m1 3h0m3 3h0m10 2h0m7-4h0m58 1h0m36-2h0m41-2h0m5 0h0m2-2h0m16 12h0m18-8h0m53-2h0m13 27h0m-41-9h0m-54 2h0m-9 0h0m-5-4h0m-6 10h0m-28 1h0m-31 1h0m-1 0h0m-44-15h0m-10 8h0m-6 4h0m-8-12h0m-13 9h0m-26-7h0m-34 2h0m-16-5h0m-4 1h0m-24 2h0m-2 10h0m-12-3h0m-13-4h0m-39 9h0m-25-11h0m-14 1h0m-75 2h0m-3 6h0m-20-11h0m-28 5h0m-41-6h0m-12-1h0m-10 26h0m9 5h0m148-1h0m6 1h0m54-6h0m24 1h0m3 3h0m3-8h0m14-5h0m4 2h0m20-1h0m13 4h0m29 11h0m7-10h0m12 3h0m3 3h0m1 3h0m0-7h0m5 3h0m1-3h0m5-3h0m2-3h0m3 10h0m22-10h0m14-1h0m25-1h0m24 8h0m26-7h0m12 12h0m3-3h0m3-4h0m36-5h0m18 3h0m19-1h0m19-3h0m11 1h0m41 15h0m286-4h0m51 7h0m-25 10h0m-18-8h0m-299 4h0m-36 2h0m-26-5h0m-10-5h0m-13 14h0m-17-1h0m-21-10h0m-21 6h0m-11 2h0m-5 0h0m-17-7h0m-14-4h0m-13-1h0m-11 15h0m-15-14h0m-6 2h0m-24 4h0m-7 7h0m-7 0h0m-1-6h0m-8-7h0m-3 6h0m-4-7h0m-4 5h0m-9-2h0m-2 11h0m-3-6h0m-1 3h0m-2-2h0m-2-2h0m-117-6h0m0-1h0m-4 11h0m-15-5h0m-6-1h0m-46 1h0m-9 2h0m-41-8h0m-14 15h0m-35-14h0m4 31h0m58-2h0m42-12h0m3 13h0m30-13h0m30-1h0m17 3h0m4 11h0m3-4h0m6-6h0m37 9h0m4-5h0m10 2h0m3-7h0m22 10h0m9 2h0m13-14h0m29-1h0m33 11h0m16 1h0m9-8h0m10 4h0m11-4h0m35 8h0m17-12h0m24 12h0m11-5h0m1 1h0m27-7h0m5-1h0m1 2h0m60 8h0m25 17h0m-18 4h0m-17-14h0m-11-1h0m-99 0h0m-5 4h0m-81-2h0m-2 1h0m-6 2h0m-2-1h0m-28-4h0m-2 13h0m-35-6h0m-18 3h0m-9 0h0m-37-3h0m-10 1h0m-1-3h0m-40-2h0m0 4h0m-1-6h0m-28 10h0m-23-9h0m-3 4h0m-3-4h0m-20 6h0m-3-5h0m-12 8h0m-36-3h0m-52 5h0m-13-4h0m-2 0h0m-2-3h0m-6 2h0m-1-2h0m-4 25h0m8-12h0m7-1h0m21 0h0m23 0h0m0 9h0m26 3h0m6-4h0m1 1h0m0-4h0m6 5h0m8-4h0m33 1h0m2-9h0m14 0h0m55 15h0m4-3h0m3 1h0m27-7h0m5-4h0m10 8h0m52 2h0m14 1h0m5-9h0m2-1h0m15 0h0m3 5h0m41 6h0m6-5h0m5 2h0m25 3h0m61-12h0m1-2h0m5 3h0m11 3h0m12 0h0m6 0h0m5 7h0m2-1h0m45-2h0m1 0h0m22-5h0m-65 13h0m-25 3h0m-16-3h0m-4-2h0m-14 1h0m-8 11h0m-17-12h0m-2 7h0m-1-4h0m-5 9h0m-27-1h0m-6-2h0m-6 2h0m-2 1h0m-1-8h0m-7 2h0m-3 5h0m-9-11h0m-4 0h0m-20 7h0m-31 5h0m-9-1h0m-31 2h0m-1-10h0m-72 10h0m0-5h0m-10-2h0m-3 8h0m-11 0h0m-5-3h0m-15 3h0m-4-11h0m-8 5h0m-7 0h0m-8-3h0m-2-3h0m-13 5h0m-20-5h0m-5 8h0m-9-6h0m-3-1h0m0 12h0m-1-1h0m-25-15h0m-16 12h0m-17-9h0m-22 6h0m0 19h0m4-1h0m1-4h0m12-6h0m6 12h0m24-8h0m42 1h0m10-3h0m0 12h0m3-4h0m5-6h0m10 2h0m14 1h0m2-6h0m22 1h0m5-1h0m71-2h0m3 3h0m51-2h0m24 10h0m14-7h0m34 1h0m5-4h0m27 4h0m20 3h0m5 2h0m2 0h0m8-9h0m6 9h0m11-10h0m4 12h0m76 4h0m18-11h0m6 9h0m369-13h0m-337 16h0m-16 1h0m-38 13h0m-16-13h0m-2 1h0m-7-3h0m-7 15h0m-44-11h0m-19 2h0m-8 10h0m-3-8h0m-15 7h0m-65-13h0m-55 0h0m-9 0h0m-5-2h0m-3 11h0m-11-8h0m-25 6h0m-4-6h0m-5 2h0m-23 11h0m-8-2h0m-6-11h0m-5 7h0m-50-8h0m-4-1h0m-27 0h0m-9 6h0m-4 5h0m-1-4h0m-41 0h0m-4 0h0m-9 4h0m-19 1h0m-26-3h0m12 20h0m32-7h0m4 8h0m12-12h0m2 3h0m36 1h0m3 8h0m18 0h0m7-13h0m0 8h0m80 5h0m3-10h0m11 0h0m42-2h0m1 1h0m3-2h0m4 1h0m3 9h0m1-8h0m32-2h0m13 12h0m8-9h0m4 2h0m16-1h0m8-5h0m5 10h0m38-10h0m9 7h0m7 5h0m11 3h0m18-2h0m10-7h0m18 1h0m2 7h0m17-9h0m3 4h0m6-1h0m4 6h0m7-8h0m2 3h0m8-10h0m3 5h0m9 6h0m21-1h0m17-9h0m414 16h0m-414 14h0m-5 0h0m-7-3h0m-37 3h0m-11-5h0m-7-5h0m-14 3h0m-1-3h0m-2 6h0m-13-4h0m-3 6h0m-7-10h0m-11 8h0m-1-2h0m-9-3h0m-2 6h0m-16-7h0m-3 2h0m-42-2h0m-6 10h0m0-7h0m-5 4h0m-10-2h0m-3-6h0m0-2h0m-22 1h0m-14 12h0m-10-8h0m-44-2h0m-2-2h0m-13 10h0m-49-6h0m-19-2h0m-32 2h0m-4 0h0m-7 9h0m-13-14h0m-4 7h0m-8-9h0m-3 11h0m-44-10h0m-6 7h0m-1 3h0m-1-8h0m-25 9h0m-8-11h0m-9 24h0m12 2h0m22 5h0m17-15h0m3 5h0m2-6h0m32 7h0m9 1h0m5 4h0m16-6h0m1 5h0m10-6h0m8 1h0m69-4h0m5 6h0m21-4h0m21-1h0m5-2h0m19 11h0m38-1h0m3 5h0m18-10h0m18 1h0m4 6h0m0-6h0m13 5h0m6 1h0m0 2h0m3-11h0m11-2h0m38 0h0m7 2h0m20 11h0m24-8h0m7 7h0m0-2h0m1 2h0m1-4h0m0-1h0m31 1h0m21 0h0m37 1h0m11 17h0m-59-4h0m-27 2h0m-5 4h0m-33 1h0m-10-7h0m-9-5h0m-6 0h0m-24-1h0m-4 9h0m-20 2h0m-3 0h0m-1-10h0m-2 7h0m-4 4h0m-3-1h0m-51-11h0m-19-1h0m-16 9h0m-1-4h0m-3-5h0m-11 3h0m-10 0h0m-30-1h0m-10 13h0m-17-15h0m-8 7h0m-16 5h0m-10-1h0m-1 0h0m-9-6h0m-12 9h0m-15-5h0m-16-6h0m-13 10h0m-5-5h0m-11-4h0m-6 5h0m-1-5h0m-39-4h0m-1 7h0m-3 5h0m-11-2h0m-18-6h0m-4-3h0m-9 16h0m26-1h0m3 0h0m15 12h0m28 2h0m1-1h0m6-1h0m9-5h0m2 8h0m2-2h0m37-6h0m7-5h0m3 12h0m40-3h0m101-7h0m29-3h0m2 3h0m9-1h0m4-1h0m9 10h0m3-11h0m11 1h0m0 6h0m14-7h0m1-1h0m4 4h0m9-3h0m3 12h0m2-10h0m2-3h0m2 9h0m0 0h0m1 5h0m12-7h0m1-4h0m12 9h0m18-6h0m22-6h0m61 10h0m8 4h0m36-3h0m-6 9h0m-17 7h0m-39 1h0m-20-7h0m-18-5h0m-18 10h0m-5-4h0m-31-6h0m-2 11h0m-2-6h0m-6 8h0m-3-10h0m-1 9h0m-1-10h0m-10 10h0m-9 1h0m-4 1h0m-1-3h0m-3 0h0m-1-11h0m-1 11h0m-2-7h0m-31 6h0m-5 0h0m0-1h0m-12 0h0m-2-2h0m-24 3h0m-7-4h0m-4 4h0m-12-5h0m-42 2h0m-14-1h0m-25 9h0m-9-12h0m-15 7h0m-68 3h0m-16 0h0m-24-6h0m-3-6h0m-10 0h0m-6 1h0m-2 4h0m20 18h0m30-1h0m79 2h0m28 5h0m17-12h0m60 7h0m13 2h0m3 1h0m13-7h0m17 0h0m4 5h0m12 1h0m7-12h0m9 1h0m3 14h0m23-3h0m12 4h0m4-1h0m4-14h0m8 5h0m5-6h0m15 1h0m15 1h0m32 12h0m1-14h0m16 12h0m10-10h0m5 11h0m5 3h0m15-6h0m27-8h0m3 8h0m-13 16h0m-56 5h0m-14-13h0m-22 10h0m-18-3h0m-5-7h0m-2 14h0m-6-15h0m-8 11h0m-6 2h0m-5 1h0m-4 1h0m-2-7h0m-3-2h0m-2 8h0m-1-14h0m-38 4h0m-8 9h0m-8-8h0m-3-4h0m-2 10h0m-2-8h0m-10 3h0m-4 4h0m-17-10h0m-12 13h0m-7-4h0m-8-7h0m-5 11h0m0-10h0m-39 2h0m-1 0h0m-28 4h0m-55-8h0m-9 10h0m-53 4h0m48 16h0m15-13h0m7 1h0m27 8h0m13-10h0m24-2h0m6 8h0m35 8h0m2-6h0m0 0h0m20 2h0m4-11h0m13 12h0m32-7h0m3 7h0m1-8h0m23-4h0m10 13h0m14-3h0m3-7h0m3 10h0m18-12h0m10 8h0m3-6h0m8 0h0m13 7h0m6-7h0m6-2h0m12 6h0m9-6h0m10 8h0m16 5h0m4-12h0m39 3h0m11 9h0m375 9h0m-320 2h0m-35 5h0m-7-12h0m-13-2h0m-5 11h0m-20-7h0m-35 5h0m-7-5h0m-40-2h0m-12 3h0m-12 7h0m-7-1h0m-15 1h0m-19-10h0m-4 10h0m-2-9h0m0 3h0m-35 9h0m0-2h0m-22-1h0m-22 1h0m-4 2h0m-13-16h0m-15 9h0m-10-3h0m-2 8h0m-20 0h0m-41-12h0m-11 10h0m-14 3h0m-39 0h0m-10-5h0m5 12h0m11-1h0m22-4h0m87 3h0m22 6h0m16-3h0m0 2h0m3 5h0m4-4h0m59 6h0m1-3h0m0-12h0m2 15h0m2-12h0m7 9h0m5-9h0m9 9h0m17-4h0m0 6h0m2-6h0m29 5h0m4-10h0m8 2h0m1 8h0m4-6h0m16 5h0m7-13h0m4 14h0m3-1h0m10 3h0m10-14h0m0 8h0m6-9h0m35 12h0m762 5h0m-12 1h0m-619 12h0m-91-8h0m-26 2h0m-16-8h0m-11 8h0m-25 1h0m-3 2h0m-30-2h0m-8-9h0m0 0h0m-55 12h0m-4-7h0m-25-3h0m-9 13h0m-2-3h0m-8-9h0m-36 10h0m-118-9h0m0 8h0m-12 0h0m-33-6h0m-7 5h0m-26-10h0m15 28h0m25-13h0m1 12h0m6 3h0m18-2h0m6-3h0m31 3h0m10-13h0m70 12h0m25 1h0m3-2h0m53 2h0m19 0h0m11-8h0m32 0h0m4 0h0m3-3h0m0-2h0m6 14h0m8-8h0m12-2h0m14-4h0m30 1h0m30 9h0m63-6h0m657 17h0m-7 8h0m-544-7h0m-53 8h0m-45-5h0m-20 1h0m-12 0h0m-76 5h0m-12-6h0m-28 5h0m-7-10h0m-21 7h0m0-6h0m-3 8h0m-9 0h0m-59-7h0m-3 6h0m-12-7h0m-3-2h0m-7 7h0m0-5h0m-1 5h0m-7 4h0m-7-8h0m-3 5h0m-16-12h0m-21 3h0m-22 12h0m-9-14h0m-37 8h0m-8 4h0m-37-1h0m-26 10h0m1 2h0m8-7h0m14 6h0m2-1h0m10 4h0m8 3h0m3-13h0m9 0h0m13 8h0m13-2h0m45-3h0m3 4h0m37-6h0m27-1h0m12 14h0m64-3h0m11-5h0m50 8h0m16-12h0m50 7h0m25-5h0m698 7h0m-460 21h0m-127-13h0m-4 5h0m-45-8h0m-54 10h0m-3 2h0m-8-4h0m-22-2h0m-48-5h0m-50 9h0m-70 4h0m-33-1h0m-24 1h0m-58 1h0m-8-8h0m-12-1h0m-62-2h0m-33-2h0m-12 9h0m-11-1h0m49 12h0m2 2h0m38 7h0m30-5h0m8 5h0m1 0h0m12-6h0m24-1h0m57-7h0m31 8h0m35 4h0m9-6h0m1-6h0m32 8h0m69 3h0m7-8h0m2 10h0m16-6h0m10-7h0m6 9h0m10-4h0m11 5h0m4-4h0m4-1h0m6-2h0m7-1h0m10-1h0m4 6h0m4 4h0m616-9h0m1 3h0m10 9h0m-2 14h0m-9-5h0m-621 0h0m-15 3h0m-41 1h0m-44-11h0m-16 4h0m-5-4h0m-54 12h0m-18-4h0m-7-4h0m-46 6h0m-22-3h0m-24-8h0m-10 13h0m-15-6h0m-7 0h0m-26 0h0m-8-5h0m-25 8h0m-48-6h0m8 18h0m11 9h0m36-5h0m51 0h0m15-9h0m3 2h0m2 11h0m9-4h0m50 4h0m1-5h0m29 4h0m48 2h0m3 1h0m22-1h0m38-5h0m38 4h0m1-10h0m5 9h0m2-2h0m10-3h0m50-4h0m642 1h0m-653 24h0m-15-1h0m-3-3h0m-65-6h0m-6 12h0m-104-3h0m-43-9h0m-2-1h0m-15 5h0m-6-3h0m-69 2h0m-14 8h0m-30-6h0m-24 12h0m0 4h0m23-6h0m22 4h0m56 3h0m34 4h0m9-11h0m15 13h0m6-8h0m56-5h0m18 14h0m34-1h0m39-9h0m19 2h0m100 13h0m-14 4h0m-46-4h0m-1 2h0m-3 3h0m-3 1h0m-1-2h0m-23 2h0m-24-8h0m-35 6h0m-3 6h0m-2-3h0m-15-1h0m-7-11h0m-44 3h0m-1-3h0m-25 10h0m-21-2h0m0-7h0m-25 14h0m0-7h0m-97 7h0m-7-5h0m-12 15h0m17-7h0m2 0h0m28 8h0m12-8h0m28 12h0m71 1h0m18-10h0m54-5h0m21 4h0m1 9h0m37 2h0m53-5h0m2-1h0m36 6h0m14-15h0m3 0h0m-19 24h0m-16-1h0m-23 8h0m-1-15h0m-87 2h0m-10 3h0m-34 5h0m-40-10h0m-67 8h0m-33 0h0m12 19h0m17-7h0m67 7h0m4 4h0m31-6h0m7-3h0m19 9h0m3-2h0m44-13h0m21 7h0m55-4h0m7-1h0m32 19h0m-28 1h0m-76 4h0m-3 4h0m-6 2h0m-55-11h0m-7-3h0m-60 0h0m-14 7h0m19 17h0m15-9h0m107 2h0m2 1h0m13 6h0m67-7h0m-124 26h0m-7-5h0m-32-4h0m-40 0h0m532 235h0m-5-9h0m-1 4h0m-48 19h0m3 0h0m48 7h0m-2 7h0m-13-10h0m-9 3h0m-35 4h0m-2 1h0m-54 13h0m2 7h0m42-4h0m11-2h0m3 14h0m-5-1h0m-125 16h0m75 3h0m11 6h0m3-10h0m1 20h0m-5-1h0m-7-6h0m-63 10h0m-197 7h0" stroke="#ee9a00"/><path d="M679 168h0m313 324h0m34 19h0m-9-1h0m-1 1h0m-4-1h0m-95 0h0m-21-2h0m-10 4h0m-5-3h0m-26 0h0m-39 1h0m-37 0h0m-45 12h0m2 1h0m10 4h0m0-3h0m2-4h0m31-3h0m6 3h0m1 2h0m63-9h0m23 3h0m4 4h0m11-5h0m2-2h0m16 13h0m4-10h0m35 1h0m14 4h0m44-8h0m0 12h0m5-6h0m4 3h0m1 2h0m3-3h0m3-6h0m0 10h0m6-11h0m1 5h0m5 7h0m-5 5h0m-1 0h0m-4 9h0m-4-9h0m-2 11h0m-2-11h0m-5 3h0m-5 3h0m-21-1h0m-26-4h0m-7 6h0m-5-3h0m-1-7h0m-1 11h0m-5-6h0m-22 4h0m-15 2h0m0-7h0m-2 8h0m-4-11h0m-13-1h0m-78 6h0m-11 5h0m-37-9h0m-1 10h0m-14-10h0m-12-1h0m-2 2h0m-1 2h0m-18-3h0m-28 9h0m-33 21h0m8-7h0m24-5h0m34-3h0m58 4h0m51-1h0m25 7h0m60-3h0m49-3h0m43-3h0m2 23h0m-70-8h0m-279 5h0m318 26h0m94 10h0m-36-3h0m-22 8h0m-126 11h0m124-8h0m9-1h0m12 8h0m22-4h0m6 0h0m2 9h0m124 10h0m-8 3h0m-150 1h0m-29-10h0m-85 4h0m124 10h0m110 9h0m78 17h0m-169-7h0m124 41h0m-1-7h0m110 40h0m-7 0h0m-87-5h0m-73 23h0m87-13h0m32 5h0m63 16h0m-98-6h0m-14 4h0m0 11h0m-3-1h0m16 1h0m22 3h0m3 12h0m1-3h0m2 3h0m107-9h0m-91 11h0m-8 3h0m-41 1h0m5 23h0m110 2h0m17-5h0m15-1h0m22 14h0m-20 8h0m-30-1h0m-46-3h0m-47-8h0m-34 10h0m-125-2h0m64 13h0m54 1h0m46-1h0m3-2h0m7 9h0m77-3h0m3-10h0m1 1h0m6 8h0m38-4h0m4 25h0m-20-13h0m-1 6h0m-4-5h0m0 9h0m-10-11h0m-4 9h0m0-4h0m-4-5h0m0 5h0m-112 8h0m-27 1h0m-44-2h0m-11-6h0m174 17h0m20 3h0m3 0h0m4-7h0m5-3h0m3 11h0m13-7h0m10-2h0m0 5h0m-6 16h0m-4-1h0m-11-6h0m-13 3h0m-4 6h0m-1-4h0m-8-4h0m-10 7h0m-33-7h0m4 18h0m4 4h0m8 0h0m14 2h0m2 4h0m5 1h0m3-12h0m6 1h0m8-1h0m84 3h0m-16 14h0m0 10h0m-42 0h0m-33-1h0m-23-9h0m-5-1h0m5 26h0m4-12h0m8 10h0m2-5h0m18 2h0m6-8h0m21 7h0m3 3h0m2 5h0m-13 8h0m-17 4h0m-17 0h0m-18-5h0m-5-4h0m-6 10h0m-170 1h0m186 5h0m12 1h0m27 0h0m14 7h0m12 6h0m57 8h0m-307 3h0m-1 4h0m-8-13h0m-4 4h0m-18 25h0m227-1h0m-178 17h0m-11-11h0m-7 3h0m-3-5h0m-11 5h0m-3 5h0m-37 9h0m45 6h0m1-9h0m241 13h0m-6 14h0m-70-11h0m-152 9h0m-18 4h0m-1-7h0m-36 3h0m-11 5h0m20 15h0m5-2h0m23-4h0m22 5h0m16-10h0m108 10h0m115 0h0m-4 12h0m-4 5h0m-14-11h0m0 11h0m-5-1h0m-3-12h0m-4 7h0m-7 2h0m-2-1h0m-1-5h0m-2 0h0m-7 9h0m-6-5h0m-13-1h0m-3 6h0m-4-9h0m-12 6h0m-11-4h0m-11-6h0m-156 9h0m-42 13h0m29-5h0m27-1h0m66 14h0m1-7h0m61 8h0m42-7h0m8 1h0m17-8h0m17 0h0m2 5h0m1 7h0m11-8h0m6-1h0m4 0h0m7 8h0m2-2h0m41-2h0m12 6h0m-13 2h0m-5 1h0m-31 7h0m-23-6h0m-1 7h0m-7-9h0m-21 10h0m-10-3h0m-1-5h0m-11-2h0m-3 9h0m-6-9h0m-2 3h0m-4 3h0m-9-3h0m-2 2h0m-84 4h0m-8 3h0m-10 2h0m-36-7h0m-2-3h0m-2 9h0m-9-7h0m-5 6h0m-33-6h0m-18-4h0m41 23h0m1 5h0m4-13h0m7 1h0m8 11h0m22-14h0m25 3h0m18 12h0m78-15h0m9 10h0m8-3h0m11 8h0m3-12h0m6 0h0m2 7h0m27 1h0m2-3h0m11-1h0m1-2h0m5 8h0m4-11h0m1 8h0m5-2h0m10 4h0m3-1h0m0-9h0m5 10h0m2-7h0m1 10h0m60 12h0m-7-3h0m-37 3h0m-15-8h0m-9 6h0m0 4h0m-9 0h0m-8-5h0m0 6h0m-4 1h0m-2 0h0m-5-11h0m-3 11h0m-17-3h0m-2-3h0m-21-3h0m-3-6h0m0 15h0m-8-7h0m-15-1h0m-2-1h0m-82-1h0m-34 4h0m-4-5h0m-6 3h0m-2-1h0m-68 1h0m-878 7h0m880 8h0m42 10h0m14-9h0m15 0h0m9 5h0m33-3h0m19-1h0m1 5h0m9-3h0m10-1h0m2-2h0m26 5h0m14 3h0m6-9h0m16-5h0m8 5h0m1 2h0m7 4h0m1-5h0m8-1h0m23-4h0m2 3h0m0 9h0m8-12h0m10 1h0m2 6h0m388 21h0m-403-10h0m-22 5h0m-3 1h0m-9 3h0m0-2h0m-3-10h0m0 14h0m-10-14h0m-1 6h0m-3-4h0m-3 4h0m-15 1h0m-26-7h0m-1 8h0m0-1h0m-27-3h0m-16 9h0m-9 1h0m-2 0h0m-13-4h0m-20-3h0m-17 6h0m-3-10h0m-16 2h0m-8 6h0m-16 4h0m-9-7h0m-15-5h0m-19 11h0m0-14h0m9 19h0m12-1h0m5 5h0m11-4h0m34 9h0m7 1h0m0-5h0m6-5h0m5 7h0m2 1h0m2-7h0m5 4h0m14 3h0m43 1h0m2-6h0m22 4h0m9 0h0m7-3h0m6 6h0m4-2h0m2-10h0m3 12h0m1-2h0m8 2h0m18-10h0m4 6h0m19-10h0m5 6h0m10-5h0m12 13h0m0-13h0m10 2h0m2 2h0m37 2h0m-55 13h0m-2-2h0m-1 5h0m-3-7h0m-18 15h0m-2-13h0m-11 1h0m-5 2h0m-28 3h0m-8-7h0m-1 1h0m-12 3h0m-13 0h0m-4-1h0m-20 7h0m-3-10h0m-24 13h0m-2-4h0m-31-9h0m0 14h0m-11-7h0m0-4h0m-4 7h0m-4-11h0m-9 12h0m-2-3h0m-2-3h0m-11 4h0m-23-8h0m-7 5h0m-12 1h0m-9 2h0m-4-1h0m-5-8h0m27 22h0m13-4h0m2 4h0m16-2h0m17 5h0m8-4h0m1 9h0m4-12h0m0 6h0m0 4h0m25-4h0m1-1h0m3 4h0m12 1h0m3 1h0m4-3h0m24 0h0m38-1h0m1-5h0m2 4h0m6 2h0m5-3h0m12 2h0m8-8h0m35 8h0m7 1h0m1 2h0m28 1h0m10-14h0m-47 29h0m-1-7h0m0 4h0m-4-4h0m-1-1h0m-3-4h0m-5 8h0m-24 4h0m-1 0h0m-8 2h0m-1-8h0m-7 1h0m-21-4h0m0-3h0m-3 3h0m-52-3h0m-4 14h0m0-5h0m-2-9h0m-5 4h0m-7 2h0m-2 1h0m-23-6h0m-1 0h0m-10 1h0m-4 12h0m-7-12h0m-10 4h0m-14-3h0m0 6h0m-7-7h0m44 15h0m46 5h0m19-1h0m15 4h0m7 3h0m4-4h0m38 7h0m2-6h0m2-3h0m4-1h0m12-5h0m0 10h0m14-7h0m-4 22h0m-52-5h0m-6 0h0m-94-1h0m-11 15h0m57 8h0m22-9h0m1 9h0m25 1h0m5 3h0m31 11h0m-74-8h0m-17 20h0m18-3h0m-22 28h0" stroke="#f0e100"/><path d="M1146 728h0m13 15h0m190 14h0m-192 10h0m-18 17h0m0-3h0m15 2h0m2-14h0m2 11h0m7-11h0m0 11h0m9 0h0m186 16h0m-14-6h0m-170-1h0m0 6h0m-2 3h0m-3 1h0m0-2h0m-3 1h0m-15-5h0m-1-4h0m-5-4h0m-12 9h0m0 0h0m-67 12h0m44-5h0m24 1h0m1 3h0m1-4h0m1 7h0m0 7h0m1-10h0m2-2h0m4 13h0m4-4h0m5-11h0m2 13h0m0 1h0m1-12h0m2-1h0m6 1h0m1 8h0m6-2h0m27 3h0m20-1h0m1-8h0m1-1h0m1 5h0m1 6h0m0-2h0m3 0h0m0 3h0m2-5h0m7-8h0m10 9h0m99-9h0m15 14h0m1-12h0m2 5h0m4 0h0m2-4h0m8 27h0m-12-15h0m-2 5h0m-10-4h0m-143 0h0m-5 4h0m-3 2h0m-3 5h0m-46-10h0m15 30h0m19-1h0m1-7h0m7 0h0m40 4h0m27 3h0m4-7h0m0 7h0m91 10h0m-43-3h0m-32 9h0m-10-12h0m-16 11h0m-12 2h0m-7-4h0m-3 0h0m-63 1h0m-17-1h0m-13-9h0m-20 9h0m-31 8h0m44-2h0m0 9h0m1-2h0m11-8h0m14 3h0m4 9h0m12-7h0m16 3h0m6 3h0m7-2h0m41-5h0m1 2h0m0 5h0m8 2h0m5-10h0m15 7h0m13-10h0m1 13h0m2-10h0m34 3h0m18 5h0m1 2h0m10 18h0m-5-4h0m-23-10h0m0 0h0m-45 1h0m-6 1h0m-4-2h0m-2 11h0m-9-7h0m-11 5h0m-3-11h0m-3 13h0m-9-12h0m0 2h0m-6 4h0m-1-4h0m-3 1h0m-12 5h0m0 1h0m0-4h0m-1 10h0m0-6h0m-4-1h0m-4-7h0m0 6h0m-8 2h0m-12 2h0m-23-5h0m-6 8h0m-23-1h0m-5-9h0m-9 0h0m0 9h0m-26 1h0m-18-7h0m40 24h0m9-2h0m2-11h0m3 9h0m6-1h0m0 4h0m1-1h0m1-12h0m5 10h0m7-11h0m7 12h0m3-3h0m10 5h0m10-5h0m1-4h0m6-5h0m2 2h0m30 0h0m2 4h0m5 2h0m13-2h0m2 5h0m2-10h0m0 9h0m2-8h0m2 2h0m12-1h0m3 11h0m1-9h0m14-4h0m55 8h0m2-10h0m13 9h0m21-6h0m-16 20h0m-24-6h0m-36 3h0m-22 9h0m-10 2h0m-6 1h0m-6-4h0m-14-7h0m-1 0h0m-10-3h0m-14 3h0m-2 9h0m-1-9h0m-3 1h0m0 3h0m-11 6h0m-10-4h0m-2-9h0m0 10h0m-3-4h0m-19-2h0m-2-1h0m-9 6h0m-23-3h0m-4 0h0m-2-1h0m-1-1h0m-4-5h0m-4 0h0m-21 9h0m-13-9h0m2 21h0m48-4h0m15 10h0m6 1h0m1-5h0m8-5h0m4 12h0m3-13h0m1 12h0m4-13h0m1 13h0m1-7h0m2-1h0m2-3h0m3 3h0m1-1h0m0 4h0m3 5h0m1-4h0m3 4h0m0 1h0m5-3h0m5 1h0m0-7h0m3 8h0m7-2h0m9 4h0m23-6h0m1-2h0m1-5h0m1 1h0m8 8h0m1-2h0m5 3h0m0 3h0m6-16h0m3 2h0m4 1h0m6 0h0m2 11h0m1-10h0m34 3h0m5 3h0m3 0h0m5-4h0m28-4h0m5 12h0m25 2h0m5 7h0m-37 2h0m-11-6h0m-10 11h0m-6-4h0m-12 5h0m0 0h0m-5-9h0m-1-2h0m-8 7h0m-10-4h0m-17-6h0m-5 14h0m-8-7h0m-1 6h0m-7 0h0m-4-4h0m-1-3h0m0 2h0m-3 3h0m-3-7h0m-16-2h0m-21-2h0m-11 1h0m-5 0h0m-7 7h0m-2 0h0m-1 7h0m0-9h0m-3 6h0m-1-4h0m-8-6h0m-11 6h0m-8 4h0m-4 3h0m-2-4h0m-62 5h0m11 2h0m11 1h0m5 1h0m6 7h0m11-1h0m5 2h0m5-6h0m18 8h0m10-6h0m8-2h0m7 1h0m4 2h0m5-3h0m20 3h0m6 1h0m1-11h0m0 12h0m39-10h0m1 1h0m7 3h0m2 8h0m0-6h0m3 1h0m2 2h0m0-4h0m9 6h0m10-9h0m12 7h0m89 2h0m1-1h0m6-8h0m13-3h0m-15 16h0m-19 8h0m-39-7h0m-29 9h0m-9 0h0m-4 0h0m0 1h0m-15 3h0m-7-9h0m-1-2h0m-9-1h0m-11-1h0m-6 13h0m-3-4h0m-31-3h0m-10-2h0m-6 5h0m-2-4h0m-3 4h0m-1-3h0m-3 2h0m0 3h0m-2-7h0m-1-1h0m-12-1h0m-10 1h0m-1 9h0m-1-7h0m-5 6h0m-5-10h0m-18 2h0m-43 10h0m19 6h0m18 1h0m9 10h0m1-4h0m6 1h0m4-10h0m8 12h0m1-3h0m10-10h0m16 14h0m1-6h0m17-7h0m11 3h0m5 8h0m0-3h0m1 5h0m4-7h0m9-3h0m10 4h0m3 0h0m6 6h0m3-1h0m3-6h0m0 6h0m2-4h0m3-8h0m2-3h0m8 14h0m1-4h0m0 5h0m1-7h0m5 5h0m1-11h0m4 0h0m7 10h0m2-2h0m36-7h0m0 10h0m0-6h0m10-3h0m13 9h0m25 0h0m-15 10h0m-1-3h0m-3-2h0m-9-2h0m-18 7h0m-7 1h0m-25 6h0m-4-12h0m-1 11h0m-14-8h0m0 10h0m-2-4h0m-3-3h0m-1-7h0m-1 6h0m0-5h0m-4 6h0m-2 0h0m-8 0h0m-13 0h0m-5-6h0m-7 1h0m-7 0h0m-3 3h0m-15 8h0m-2-5h0m-3 4h0m-13-9h0m-10 12h0m-1-11h0m-2-4h0m-32 12h0m-6-12h0m-3 7h0m-3-4h0m-9 6h0m-12-10h0m13 26h0m6-3h0m17 1h0m7 1h0m13-1h0m2 4h0m1-3h0m8-7h0m14 10h0m2-4h0m14 4h0m0 2h0m15 2h0m8-13h0m4 6h0m2 6h0m0-6h0m6 3h0m7-4h0m10 2h0m4 0h0m1 3h0m1-3h0m7-4h0m0 0h0m14 3h0m5-5h0m3-3h0m4 11h0m17-9h0m0 0h0m0 10h0m12-12h0m4 4h0m5-1h0m0 12h0m4-12h0m9-2h0m5 10h0m4-4h0m2-6h0m59 30h0m-7-1h0m-37-15h0m-8 0h0m-4 12h0m-1 2h0m-1 2h0m-5-4h0m0-6h0m-3 3h0m-12-5h0m-16 6h0m-11 2h0m-7-3h0m-2 0h0m-1 4h0m-9-7h0m-10 3h0m0 5h0m-2-2h0m-3 3h0m-1-9h0m-3-4h0m-40 1h0m-10 4h0m-8 1h0m-17 0h0m-1-2h0m-2-4h0m-8 4h0m-10-3h0m-4 0h0m-15 4h0m-1-6h0m-6 14h0m-9-7h0m-53-4h0m6 21h0m4 3h0m23-1h0m1-8h0m8 2h0m4-4h0m5 4h0m0 9h0m5 2h0m4-15h0m1 3h0m29 10h0m6-3h0m13 4h0m1-1h0m4-9h0m11-3h0m4-1h0m5 12h0m5-9h0m3 11h0m15-3h0m2-5h0m7 0h0m0 3h0m2 3h0m18-8h0m8 3h0m15 7h0m2-11h0m34 10h0m3-12h0m6 7h0m69-8h0m25 30h0m-1 0h0m-2-8h0m-102 8h0m-6 0h0m-6-7h0m-1 6h0m-18-12h0m-10 5h0m0 6h0m-34-7h0m-2 0h0m-1-3h0m-19 7h0m-7 4h0m-3 2h0m-2-3h0m-1-5h0m-2 1h0m-8-7h0m-9 3h0m-2 4h0m0 6h0m-2-1h0m-5-9h0m-10 8h0m-7-8h0m-8-3h0m-1 13h0m-7-1h0m0-3h0m-5-8h0m-6 1h0m-2 10h0m-9-10h0m-16 11h0m-19-9h0m-3 8h0m-10 1h0m-17 8h0m16-7h0m21 6h0m11 1h0m0-7h0m1 2h0m1 11h0m1-1h0m4 1h0m20-4h0m7 1h0m0-9h0m2 8h0m3 5h0m11-2h0m1-10h0m1 8h0m1-4h0m0 2h0m14 4h0m8 4h0m4 0h0m15-8h0m1-5h0m3 1h0m7 7h0m0-6h0m2 7h0m3 1h0m3-2h0m4-5h0m6 8h0m6-9h0m2-4h0m7 9h0m7-2h0m10-7h0m22 13h0m47-2h0m13-8h0m58 11h0m21-6h0m6-6h0m-6 18h0m0 6h0m-21 1h0m-4-5h0m-1-4h0m-32 1h0m-12-2h0m-2 10h0m-8 0h0m-19 0h0m0 4h0m-3-15h0m-18 6h0m-6 5h0m-4-6h0m-3 0h0m-12 6h0m-55-5h0m-3-3h0m0 4h0m-4-7h0m-13 10h0m-2-1h0m-3-10h0m0 0h0m-15 8h0m-7-1h0m0 6h0m-1-4h0m-1 1h0m-8 0h0m-11 6h0m-4 0h0m-6-7h0m-15-5h0m-5-3h0m-14 10h0m-17 0h0m-5 5h0m-5-14h0m-3 9h0m-3-3h0m12 9h0m0 8h0m63-8h0m5 4h0m1 4h0m4 2h0m1 1h0m24 4h0m9-11h0m21-5h0m1 2h0m1 9h0m18 1h0m0-9h0m13 13h0m12-4h0m1-8h0m21 0h0m9 11h0m8-14h0m2 10h0m24-5h0m8 5h0m61 21h0m-4-3h0m-51-10h0m-38-2h0m-16 5h0m-24-4h0m-4 4h0m-13 1h0m-16 4h0m-10-6h0m-6 2h0m-8 3h0m-16 6h0m-4-13h0m-6 4h0m-4 2h0m-8 6h0m-12-14h0m-1 2h0m-9 5h0m-21 3h0m-26 1h0m-11-1h0m4 8h0m5 4h0m7 1h0m25-3h0m44 3h0m12-2h0m7 10h0m9-15h0m26 10h0m12-8h0m64 0h0m33-2h0m-112 18h0m-51 12h0m-5-13h0m0 0h0m-51 13h0m-26-1h0m5 2h0m2 7h0m0 2h0m32 1h0m47-2h0m4-6h0m26 7h0m1-3h0m7 2h0m7 6h0m4 1h0m9-3h0m-17 5h0m-15 4h0m-8 0h0m-2-4h0m-3 0h0m-9 11h0m-13 4h0m-27-12h0m-1 8h0m-3 1h0m-10-8h0m-35 22h0m42-3h0m46-5h0m1 0h0m13 8h0m3-10h0m1 0h0m0 3h0m17 12h0m3-1h0m6-10h0m18 2h0m-56 10h0m-2 7h0m-3-6h0m-4 8h0m0-4h0m-6-2h0m-13 17h0m14-5h0m31 1h0m9 7h0m11-1h0m3 6h0m-21 8h0" stroke="#009e73"/><path d="M843 124h0m-61 16h0m76 372h0m-13-1h0m-118 3h0m59 12h0m3-11h0m10-2h0m11 1h0m28 12h0m24-1h0m2 1h0m2-9h0m18-5h0m3 7h0m49 9h0m18-16h0m81 30h0m-15-2h0m-6-12h0m-22 15h0m-40-5h0m-7 6h0m-1-7h0m-17 6h0m-23-8h0m-10 2h0m-1 0h0m-27 6h0m-28-6h0m-74 3h0m-112 6h0m34 1h0m47 11h0m68 2h0m65-10h0m83-5h0m2 2h0m48 17h0m-22 8h0m-18-2h0m-24-7h0m-21 12h0m-33-1h0m-14-6h0m-6 1h0m-38-2h0m-4 0h0m-50-1h0m-5 0h0m-1-3h0m-14 11h0m-10-13h0m-41 1h0m-52 2h0m88 12h0m41 8h0m7 1h0m10-1h0m3-7h0m7 13h0m0-7h0m1 5h0m14-10h0m34 5h0m44-2h0m120 7h0m59 3h0m33-13h0m40 19h0m-44 5h0m-15-1h0m-15 5h0m-4-4h0m-9 1h0m-4-5h0m0 6h0m-5-3h0m-5-2h0m-9-4h0m-1 3h0m-1 0h0m0 1h0m-9-4h0m0-3h0m-1 10h0m-6-6h0m-3 7h0m-1 3h0m-8-1h0m-56 3h0m-8-16h0m-208 13h0m-7-12h0m2 15h0m41 7h0m103 0h0m21-2h0m80 2h0m6-7h0m10 8h0m17-2h0m1-4h0m14 2h0m7 0h0m25 1h0m14-5h0m1 10h0m1-6h0m30 12h0m22 1h0m-36 13h0m-10-13h0m-2 6h0m-2 2h0m-2 2h0m-8-2h0m-7-2h0m-5-6h0m-39 6h0m-2 2h0m-35-2h0m-5 5h0m-42 1h0m-35-13h0m-7 12h0m-22 3h0m-5-9h0m-89 7h0m-85 11h0m72 5h0m13 1h0m10-9h0m5 6h0m57-6h0m97 5h0m59-5h0m4 1h0m2-2h0m4 9h0m4-6h0m1 5h0m29-1h0m2 3h0m1-2h0m10 0h0m2 3h0m11-6h0m53 5h0m48-5h0m646 12h0m-694 7h0m-259-1h0m-77 2h0m-2 0h0m-8-10h0m-3-3h0m-4 6h0m-16 3h0m-25 3h0m-27 3h0m-29 1h0m-28-13h0m-16 5h0m-9-5h0m33 26h0m5-10h0m2 12h0m1-5h0m27-9h0m24 12h0m16-8h0m21 9h0m3-5h0m6 7h0m2-3h0m5 1h0m7 0h0m15-2h0m17 2h0m106 0h0m152-8h0m26 0h0m9-5h0m3 2h0m157 2h0m-164 22h0m-44-10h0m-4 5h0m-22 9h0m-35-11h0m-47 6h0m-141-3h0m-13-1h0m-24-4h0m-21 6h0m-2 6h0m-1-14h0m-39 6h0m0 3h0m-1 2h0m-7-6h0m-1 4h0m-11 0h0m-7 3h0m-15 1h0m0 2h0m0-7h0m-1 6h0m-1-1h0m-2 1h0m-2-12h0m-21 14h0m18 5h0m14-4h0m7 8h0m6-9h0m11 2h0m42 5h0m19 7h0m15-11h0m10 11h0m9-7h0m477-6h0m-53 29h0m-253-6h0m-54-5h0m-30 0h0m-12-2h0m-60 9h0m-50-6h0m-1 7h0m-46 2h0m-8-4h0m-4 2h0m-6-2h0m-26 11h0m15 1h0m1 8h0m1 1h0m0 1h0m12-3h0m4-10h0m12 14h0m8-10h0m2 5h0m1-6h0m2-2h0m11 13h0m25-9h0m49-2h0m65 10h0m43-12h0m58 10h0m44-5h0m298 23h0m-11-7h0m-23 7h0m-48 0h0m-222-5h0m-13 5h0m-4-9h0m-6 3h0m-13 2h0m-3-11h0m-2 2h0m-9 0h0m-12 10h0m-4 1h0m-18-2h0m-1-9h0m-2-2h0m-5 16h0m-21-9h0m-5 4h0m-4-7h0m-8 2h0m0 0h0m-3 4h0m-7-5h0m-73 10h0m-23-13h0m-14 6h0m-8 1h0m-5 2h0m-8-5h0m-12 0h0m-11 5h0m-5-3h0m-4 4h0m-12 2h0m-4-13h0m0 12h0m-6-6h0m-2-3h0m-1 1h0m-6-1h0m-6 2h0m-16-2h0m-5 22h0m16-5h0m0 8h0m1-3h0m11-1h0m0-3h0m2-6h0m0 6h0m2 3h0m14 5h0m1-2h0m0-11h0m5 3h0m5 9h0m1-6h0m5 1h0m8-2h0m17-6h0m12 7h0m19-2h0m7 4h0m58-1h0m23 5h0m3 3h0m1-4h0m23 0h0m13-1h0m10-9h0m7 6h0m0-2h0m8-4h0m3 5h0m0 0h0m0-1h0m2 8h0m7 0h0m8-7h0m8 5h0m3-10h0m10 8h0m5-7h0m14 1h0m10 0h0m12 4h0m276 4h0m21-11h0m23 21h0m-53-1h0m-257-3h0m-24 5h0m-6 4h0m-40-2h0m-2-7h0m-5 9h0m-2-1h0m-1-5h0m-1 2h0m-5 3h0m-1 1h0m-1-11h0m-8 5h0m-6 4h0m-5-3h0m-8 7h0m-15-5h0m-8-5h0m-57 10h0m-2 2h0m-29-8h0m-5 8h0m-7-2h0m-13 0h0m-29-9h0m-4-1h0m-21-3h0m-1 2h0m-11 1h0m-8 7h0m-2 2h0m-2-7h0m-3-3h0m-4 9h0m-7-8h0m-6-1h0m-477 9h0m470 8h0m2 9h0m14-2h0m10 2h0m7-5h0m32 4h0m5 4h0m3-2h0m1-8h0m3 6h0m20-4h0m13 2h0m2-2h0m8 1h0m26 3h0m37 2h0m9-5h0m13-2h0m34 9h0m19 1h0m11-14h0m16 0h0m11 2h0m0 0h0m10 6h0m2-2h0m10-8h0m29 10h0m10 21h0m-17-12h0m-9 7h0m-6-2h0m0 3h0m-10 3h0m-9 1h0m-2 1h0m-2-5h0m-6-4h0m-25 0h0m-7 3h0m-9 5h0m-4-12h0m-1 3h0m-5 8h0m-2 1h0m0-11h0m-23 10h0m-13-1h0m-3-7h0m0 5h0m-1-7h0m0 12h0m-1-12h0m-1-2h0m-1-1h0m-32 14h0m-55-13h0m-1 11h0m-6-2h0m-6 3h0m-5-3h0m-16-8h0m-8 5h0m-26 3h0m-6-2h0m-15 3h0m-21-11h0m-11 13h0m4 11h0m4-3h0m17 6h0m11 1h0m2-10h0m1 2h0m11 5h0m34 3h0m0-11h0m8 2h0m4 5h0m5-6h0m1 12h0m7-13h0m4 2h0m4-1h0m4 1h0m14 12h0m4-3h0m15-13h0m12 11h0m36-11h0m28 0h0m8 15h0m1-1h0m4-8h0m3-4h0m1 0h0m2 0h0m21 11h0m1-11h0m10 2h0m32-1h0m2-3h0m14 6h0m22 2h0m93 17h0m-95-8h0m-2 1h0m-15 12h0m-18-1h0m-1-12h0m-2 3h0m-20 1h0m-3-3h0m-4 6h0m-43-3h0m-5 3h0m-24 7h0m-6-12h0m-60 6h0m-1-2h0m-10-5h0m-31 4h0m-29-1h0m-26 4h0m-7-5h0m-3 5h0m-10-8h0m0 12h0m-2-10h0m-3 5h0m-16-6h0m-10 13h0m-11 1h0m15 7h0m22 7h0m12-1h0m25-12h0m6 1h0m0 0h0m1 9h0m3-4h0m2-3h0m1 4h0m18-2h0m2 7h0m16-9h0m5 11h0m10-9h0m6 3h0m25-4h0m11 9h0m5-7h0m12 8h0m14-14h0m3 11h0m19-5h0m11 7h0m2-11h0m1 5h0m14-4h0m4 10h0m7 2h0m29-10h0m0 0h0m4-2h0m10 3h0m3 6h0m18 0h0m1-7h0m1-3h0m40 3h0m59 9h0m28-8h0m-110 16h0m-37 0h0m-8 5h0m-3-4h0m0 4h0m-9-7h0m-1 11h0m-11-7h0m-10 3h0m-5 2h0m-2 1h0m0-1h0m-3-6h0m-8-7h0m-9 0h0m-7 8h0m-4 3h0m-10-7h0m-1 6h0m-3-9h0m-14 11h0m-21-5h0m-3-4h0m-4 5h0m-13 0h0m-18 5h0m-2 0h0m-1-12h0m-5 0h0m0 5h0m-2-6h0m-3 1h0m-2 8h0m-1 1h0m0 1h0m-11-4h0m0-3h0m0-2h0m0 8h0m-7 2h0m-3-2h0m-3 4h0m0-8h0m-1-4h0m-9 10h0m-20-5h0m-26 7h0m-10-7h0m-11 5h0m0-3h0m-4-8h0m-6 3h0m-11 7h0m18 10h0m7 4h0m2-7h0m10-1h0m26 3h0m5-2h0m25 11h0m6-2h0m35-9h0m5 0h0m4 6h0m31 0h0m2-2h0m4-1h0m5 1h0m4-4h0m4 7h0m2 5h0m33-13h0m10 9h0m3-6h0m5 8h0m1-7h0m5 4h0m8-7h0m7 8h0m3-10h0m9 10h0m22-10h0m18 7h0m0 6h0m19-4h0m2 5h0m1-3h0m403 8h0m-392 6h0m-3-5h0m-16-2h0m-25 0h0m-9 5h0m-6 5h0m-8-2h0m-1-7h0m-2 0h0m-1 1h0m-3 8h0m0-12h0m-17 8h0m-2-9h0m-15 9h0m-2 2h0m-6 4h0m-11-11h0m-16 9h0m-4-6h0m-1 4h0m-20-1h0m-8-3h0m-3-5h0m-4-2h0m-2 12h0m-9-1h0m-13 2h0m-2-7h0m-6 1h0m-4-4h0m-6 1h0m-10 5h0m-1-1h0m-2-6h0m-1 3h0m-5 6h0m-9 1h0m-11-8h0m-21 1h0m-7-3h0m-1 7h0m-31-5h0m-19-1h0m-22 8h0m28 16h0m8-8h0m8 12h0m11-3h0m36-7h0m2-2h0m16 1h0m3-2h0m5 7h0m50-7h0m3 6h0m2 2h0m13 3h0m16-10h0m6 5h0m7 1h0m2-1h0m19 0h0m5 6h0m1-5h0m4-4h0m16 2h0m1-7h0m1 7h0m11 8h0m17-6h0m9-7h0m3 1h0m19 5h0m1 7h0m1-11h0m28 11h0m13 7h0m-40-4h0m-3 0h0m-5 2h0m-46 6h0m-8-2h0m-10-8h0m-1 9h0m-13 4h0m-4-3h0m-3 5h0m-38-8h0m-11 7h0m-42-7h0m-3-5h0m0 5h0m-2-4h0m-1-3h0m-4 0h0m-15 15h0m-19-12h0m-1 3h0m0 10h0m-3-9h0m-1-5h0m-3 12h0m-9-3h0m-27-10h0m-6 4h0m-4 1h0m-46 2h0m25 15h0m10 9h0m4-15h0m26 9h0m4-4h0m3 8h0m3 0h0m11-12h0m1 12h0m8-6h0m13 3h0m15-3h0m9-5h0m13 2h0m39 8h0m6-3h0m6-7h0m6 2h0m24 8h0m1-11h0m9 0h0m3 12h0m2-12h0m3 1h0m1-2h0m8 3h0m6 2h0m39 6h0m24 0h0m10-4h0m12 23h0m-1-3h0m-11-11h0m-33 8h0m-5-1h0m0 1h0m-31 3h0m-18-5h0m-9 9h0m-4-4h0m-4 2h0m-10-2h0m-6 0h0m0-1h0m-25 3h0m-91-1h0m-3-7h0m-5 3h0m-1 1h0m-5 6h0m-4-3h0m-33-1h0m-31-7h0m8 18h0m33-5h0m21 6h0m1-4h0m9-3h0m5 14h0m1-13h0m5 4h0m13-1h0m3-2h0m7 8h0m5 1h0m4-10h0m30 6h0m1 5h0m8 0h0m2-4h0m7-4h0m14 6h0m5-6h0m3 6h0m12-9h0m2 3h0m18-3h0m13 11h0m2-5h0m1 0h0m5-6h0m30 8h0m1 6h0m16-5h0m23-11h0m102 9h0m315 10h0m-332-1h0m-149 12h0m-1-12h0m-1 0h0m-3 6h0m-14 4h0m-42-4h0m-22 3h0m0 3h0m-4-1h0m-2-9h0m-6 12h0m-3-9h0m-24-5h0m-17 0h0m-2-1h0m-1 1h0m-7 13h0m-1-13h0m-19 11h0m0-9h0m-3 2h0m-6-1h0m-1 10h0m-7 0h0m0-12h0m-3 4h0m-13-5h0m-1 10h0m0 3h0m-5-9h0m0-2h0m-8 7h0m-3-2h0m13 10h0m2 1h0m7-2h0m2 4h0m11-5h0m1 1h0m5 4h0m50 1h0m24 0h0m6-7h0m17 2h0m16 3h0m1 11h0m2-10h0m8-4h0m21 9h0m4-1h0m8-1h0m1-2h0m7-5h0m49 11h0m18 1h0m36-7h0m49 7h0m23 13h0m-162-5h0m-6 8h0m-21-6h0m-16-2h0m-5 1h0m-2-1h0m-18-3h0m0 5h0m-8-8h0m-14 9h0m-72 2h0m-22 0h0m-25 3h0m25 4h0m7 5h0m60-3h0m16 6h0m5 3h0m26-12h0m36 4h0m23 10h0m8-6h0m22-1h0m99-4h0m6-3h0m5 5h0m6-5h0m23 10h0m-294 10h0m-83 8h0m74 18h0m184-2h0m9-9h0m16 5h0m1 2h0m23 4h0m131 8h0m-175 9h0m-20-13h0m-71-3h0m-63 3h0m-40 16h0m6 12h0m7-3h0m108-10h0m9 12h0m29 10h0m-199 23h0m102-7h0m25 0h0m33 0h0m185-7h0m15 1h0m-63 21h0m-156 4h0m-80-9h0m-12 12h0m-13-1h0m-27-5h0m-1-3h0m-4 10h0m-35-3h0m-15-3h0m-39-6h0m-1 8h0m13 10h0m18 7h0m22 3h0m1-6h0m3-4h0m8-4h0m1 14h0m12-5h0m3-6h0m2 9h0m17-6h0m7 2h0m167 4h0m83 8h0m-39 9h0m-59-11h0m-103 9h0m-21-1h0m-18 2h0m-25-8h0m-20 6h0m-28 0h0m-9-2h0m-11 6h0m-2-12h0m-5 7h0m-13 5h0m-10-1h0m-2 0h0m-11-1h0m21 16h0m5-12h0m47 13h0m7-10h0m7 8h0m2 0h0m4 2h0m3-11h0m0-2h0m5 15h0m0-13h0m41 11h0m51-9h0m53 9h0m81 1h0m78-11h0m730 25h0m-691 2h0m-32-2h0m-143 2h0m-118-7h0m-23-4h0m-18-2h0m-45 6h0m-22 5h0m-3 3h0m-30-4h0m17 13h0m5-6h0m1 13h0m4-10h0m16 0h0m40-4h0m0 0h0m23 8h0m15-1h0m6 6h0m1-3h0m33 3h0m22-1h0m2 1h0m72-12h0m26 8h0m33-5h0m29 0h0m13 1h0m26 7h0m8-3h0m21 2h0m14-8h0m17 0h0m3 4h0m69 1h0m10-5h0m-9 19h0m-3-4h0m-24 0h0m-18 10h0m-7-3h0m-19-7h0m-3 11h0m-4-12h0m-5 12h0m-15-2h0m-1-6h0m-6 8h0m-4-9h0m-6 7h0m-8 0h0m-1-11h0m-2 11h0m-1-6h0m-9 5h0m-9 3h0m-3 1h0m0-3h0m-21-2h0m-6 1h0m-7-10h0m-4 3h0m-6-5h0m-4 15h0m-12-10h0m-13-1h0m-10 11h0m-6-9h0m-2-4h0m-35-1h0m-44 7h0m-7-1h0m-10 7h0m-59 2h0m-1-8h0m-7-8h0m-2 5h0m-23 0h0m-16 7h0m-19-7h0m0 9h0m-8 2h0m-21-13h0m-5 5h0m-7 7h0m-30 16h0m34-2h0m3-12h0m2 9h0m5 3h0m7-1h0m4-11h0m7 12h0m25-11h0m28 4h0m2 8h0m13-2h0m5 1h0m79-5h0m50-1h0m57 3h0m1 3h0m2 1h0m1 1h0m30 0h0m8-9h0m3 8h0m7 2h0m14-9h0m18 5h0m13-2h0m0-6h0m11 11h0m0-4h0m3-6h0m14 6h0m6-9h0m0 7h0m2 5h0m6 0h0m12 1h0m2-2h0m1-7h0m4 2h0m5-2h0m1-2h0m3 3h0m50 2h0m1 2h0m40-9h0m14 9h0m12 0h0m19 3h0m0-1h0m21-7h0m38 7h0m427-7h0m8-2h0m-517 26h0m-8-12h0m-45 2h0m-34 2h0m-19 9h0m-28-8h0m-2 7h0m-3-6h0m-8 2h0m-4 0h0m-7-10h0m-2 1h0m-11 3h0m-13 3h0m-1-4h0m-14 2h0m0 5h0m-1 6h0m-22-1h0m-4-3h0m-11-2h0m-1-8h0m-10 8h0m-5-7h0m-1-2h0m-11 0h0m-12 10h0m-1-9h0m-20 4h0m-36 9h0m0 0h0m-20-14h0m0 9h0m-38 4h0m-79-3h0m-2 3h0m-17-11h0m-52 4h0m-36 5h0m110 9h0m24-1h0m3 4h0m19-7h0m16 5h0m0 6h0m6-8h0m9 9h0m5-2h0m3 2h0m1-12h0m3 1h0m3 8h0m2 4h0m4-4h0m3 2h0m3-10h0m2 12h0m7-12h0m13 1h0m19 13h0m5-12h0m0 7h0m42-4h0m10-3h0m8 5h0m17-2h0m7 2h0m33 2h0m3-6h0m1 7h0m24-6h0m16 2h0m12 8h0m16-14h0m0 6h0m0-5h0m1 5h0m2-5h0m26 2h0m7 5h0m11 5h0m52-8h0m11 4h0m2-10h0m54 6h0m26 13h0m-10 9h0m-27 0h0m-39-7h0m-9 7h0m-11-7h0m-17 4h0m-47-5h0m-34 1h0m-6-4h0m-2 12h0m-8-10h0m-11 8h0m-36-2h0m-2-6h0m-1 6h0m-1 5h0m-1-7h0m-3 7h0m-6-2h0m-5-13h0m-4 10h0m-10-1h0m-1-9h0m-2 1h0m-5 6h0m-2 5h0m-6-9h0m-2 6h0m-1-4h0m-3-2h0m-4-2h0m-3 1h0m-20 8h0m-23 1h0m-10-6h0m-1-3h0m-8 11h0m-5-6h0m-33 8h0m-10-11h0m-2-4h0m-12 15h0m-3-11h0m-7 10h0m-24-4h0m-7 6h0m-8-9h0m8 24h0m8-6h0m12-1h0m7-2h0m39 10h0m11-6h0m25-7h0m44 3h0m8-5h0m30 4h0m11 1h0m16 6h0m0-11h0m4 11h0m0-8h0m3 10h0m0 1h0m2 0h0m10 0h0m8-5h0m1 2h0m15-1h0m14-7h0m1-4h0m2 6h0m4-6h0m14 14h0m2-5h0m1 2h0m16-3h0m15 3h0m19 5h0m2-12h0m29-1h0m13 1h0m8 9h0m36-7h0m51 18h0m-26 1h0m-15 4h0m-14-1h0m-13 2h0m-67-6h0m-7 1h0m-51-6h0m-2 8h0m-17 0h0m-2 3h0m-8-9h0m0-4h0m-3 1h0m-32 14h0m-3-7h0m-1-7h0m-1-1h0m-5 7h0m-1-4h0m-21 9h0m-21-12h0m-6 12h0m-16-11h0m-11 4h0m-12 7h0m-11-4h0m-2 0h0m-17-6h0m-22 6h0m-23-3h0m-17 2h0m-7 3h0m-5 3h0m-8-8h0m-7 4h0m-7-2h0m-26 0h0m-33-5h0m38 27h0m2 0h0m10-10h0m10 0h0m24 8h0m4-1h0m7-10h0m1 5h0m2-1h0m1 2h0m9 1h0m8-4h0m6 9h0m4-11h0m8 5h0m1 2h0m11 5h0m1 0h0m1-3h0m2 1h0m11 2h0m1-13h0m0 1h0m38 9h0m6-6h0m3 5h0m15-8h0m5 1h0m2-1h0m3 1h0m4-2h0m10 9h0m35 2h0m1-7h0m4 0h0m0 2h0m8 4h0m11 2h0m4-8h0m23-5h0m17 1h0m64 6h0m48-2h0m8 2h0m12-6h0m3 10h0m2-2h0m1 6h0m41-13h0m9 2h0m-24 20h0m-4-1h0m-29 4h0m-2-2h0m-6 3h0m-9-2h0m-5-10h0m-43 16h0m-39-2h0m-31 1h0m-16 0h0m-13-6h0m-6 6h0m-1-2h0m-7-4h0m0-1h0m-4-6h0m-14 5h0m-14 5h0m-15-8h0m-20-3h0m-5 12h0m-16-8h0m-2 5h0m-23 4h0m-1-3h0m-1-1h0m-12-1h0m-9 4h0m-1 1h0m-4-9h0m-9 6h0m-3-6h0m-1-3h0m-3 2h0m-29 8h0m-10 4h0m-3-9h0m-5-3h0m-6 8h0m-7 3h0m-11 0h0m-6-11h0m0-1h0m0 4h0m-22-4h0m-2 11h0m-8-6h0m19 12h0m29 5h0m7-1h0m22 6h0m33-13h0m4 4h0m12-1h0m8 6h0m2 5h0m5-8h0m7 5h0m3 2h0m13 0h0m8-3h0m20-8h0m11 0h0m23 1h0m18 9h0m13-8h0m2 6h0m11-8h0m1 5h0m3 7h0m3-6h0m48-2h0m12 6h0m10-7h0m39 6h0m9-9h0m1 13h0m5-4h0m2-2h0m11-7h0m11-2h0m6 2h0m7 6h0m-11 8h0m-5 0h0m-4 6h0m-7 1h0m-6 7h0m-7 1h0m-20-12h0m-70 2h0m-12-3h0m-3-1h0m-6 8h0m-5-5h0m-2 9h0m-9-11h0m-3 9h0m-18-4h0m-14 1h0m-13 5h0m-8-12h0m-2 7h0m-1 3h0m-15-8h0m-8 2h0m-20 0h0m-2-2h0m-4 6h0m-11 1h0m-1-8h0m-14 3h0m-4 3h0m-14-5h0m-13 3h0m-10 7h0m-2-3h0m-3 4h0m-1-10h0m-13 2h0m-5 3h0m-5 0h0m-5-3h0m-4-5h0m-4 4h0m-1 6h0m-24-8h0m-11 7h0m-5 9h0m46 0h0m2 8h0m24 0h0m7 3h0m2-3h0m23-4h0m13 2h0m8-2h0m2 2h0m4-6h0m2 7h0m9-3h0m21 4h0m2-3h0m3 3h0m5 2h0m16-4h0m10 4h0m16 0h0m19-7h0m3 8h0m4-5h0m7-2h0m5 2h0m7 1h0m8-6h0m100 3h0m15-1h0m4-7h0m2 4h0m-8 22h0m-5-8h0m-11 0h0m-4 11h0m-8-7h0m-69 8h0m-32 2h0m-8-11h0m-4-4h0m-15 7h0m-57 5h0m-11 1h0m-2-3h0m-2-1h0m-1 3h0m-2-9h0m-6 1h0m-12-2h0m-9 2h0m-30-1h0m-6 4h0m-12 2h0m-1-3h0m-2-2h0m-10 5h0m62 8h0m26-1h0m1 11h0m16-2h0m23-6h0m2 12h0m6 0h0m4-4h0m34-1h0m1-8h0m10-2h0m7 12h0m19-2h0m7-5h0m1 10h0m22-1h0m17-2h0m36-8h0m15-3h0m-104 29h0m-10-8h0m-31 0h0m-23-6h0m-119 0h0m85 23h0m2-3h0m61-2h0m4 3h0m5-2h0m1-3h0m0 10h0m8-4h0m7 7h0m4-8h0m5-5h0m5 7h0m379 155h0m-206 34h0m133 43h0m49-8h0m-38 16h0m-36 3h0m0 1h0m-36 1h0m25 14h0m-46 21h0m-382-1h0m-153 14h0m547 4h0m-74 10h0m-403 4h0m135 4h0m81-3h0" stroke="#22b1ea"/></g><path d="M48 18V978.8M47.1 978H958M42 949.6H48M42 908.7H48M42 867.8H48M38 826.9H51M42 786.0H48M42 745.1H48M42 704.2H48M42 663.3H48M38 622.4H51M42 581.5H48M42 540.6H48M42 499.7H48M42 458.8H48M38 417.9H51M42 377.0H48M42 336.1H48M42 295.2H48M42 254.3H48M38 213.4H51M42 172.5H48M42 131.6H48M42 90.7H48M42 49.8H48M58.9 978V985M92.4 978V985M125.9 975V988M159.4 978V985M192.9 978V985M226.4 978V985M259.9 978V985M293.4 975V988M327.0 978V985M360.6 978V985M394.2 978V985M427.8 978V985M461.4 975V988M494.8 978V985M528.1 978V985M561.5 978V985M594.9 978V985M628.2 975V988M661.7 978V985M695.3 978V985M728.8 978V985M762.4 978V985M795.9 975V988M829.4 978V985M863.0 978V985M896.5 978V985M930.1 978V985" stroke="#000" stroke-width="1.6" fill="none"/><text x="29.5" y="218.6" font-size="18.5" fill="#444" text-anchor="end">-10</text><text x="29.5" y="423.1" font-size="18.5" fill="#444" text-anchor="end">-15</text><text x="29.5" y="627.6" font-size="18.5" fill="#444" text-anchor="end">-20</text><text x="29.5" y="832.1" font-size="18.5" fill="#444" text-anchor="end">-25</text><text x="125.9" y="1007.8" font-size="18.5" fill="#444" text-anchor="middle">-75</text><text x="293.4" y="1007.8" font-size="18.5" fill="#444" text-anchor="middle">-70</text><text x="461.4" y="1007.8" font-size="18.5" fill="#444" text-anchor="middle">-65</text><text x="628.2" y="1007.8" font-size="18.5" fill="#444" text-anchor="middle">-60</text><text x="795.9" y="1007.8" font-size="18.5" fill="#444" text-anchor="middle">-55</text><rect x="699" y="35.5" width="241.5" height="221" fill="#fff" fill-opacity="0.95"/><circle cx="732" cy="69.1" r="7.65" fill="#0072b2"/><text x="757" y="75.1" font-size="22" fill="#444">++MAS (haz clic)</text><circle cx="732" cy="107.5" r="7.65" fill="#ee9a00"/><text x="757" y="113.5" font-size="22" fill="#444">+MAS (haz clic)</text><circle cx="732" cy="146.0" r="7.65" fill="#f0e100"/><text x="757" y="152.0" font-size="22" fill="#444">+CRE (haz clic)</text><circle cx="732" cy="184.4" r="7.65" fill="#009e73"/><text x="757" y="190.4" font-size="22" fill="#444">++CRE (haz clic)</text><circle cx="732" cy="222.9" r="7.65" fill="#22b1ea"/><text x="757" y="228.9" font-size="22" fill="#444">+CC (haz clic)</text><rect x="976.71" y="18.22" width="9.4" height="9.4" rx="2.2" fill="#10ad58" transform="rotate(-73.0 981.41 22.92)"/><rect x="984.86" y="21.10" width="9.4" height="9.4" rx="2.2" fill="#0eb2ab" transform="rotate(-28.0 989.56 25.80)"/><rect x="988.58" y="28.91" width="9.4" height="9.4" rx="2.2" fill="#10a9e5" transform="rotate(17.0 993.28 33.61)"/><rect x="985.70" y="37.06" width="9.4" height="9.4" rx="2.2" fill="#8f3fa6" transform="rotate(62.0 990.40 41.76)"/><rect x="977.89" y="40.78" width="9.4" height="9.4" rx="2.2" fill="#fe0b64" transform="rotate(107.0 982.59 45.48)"/><rect x="969.74" y="37.90" width="9.4" height="9.4" rx="2.2" fill="#ff5413" transform="rotate(152.0 974.44 42.60)"/><rect x="966.02" y="30.09" width="9.4" height="9.4" rx="2.2" fill="#f0a31b" transform="rotate(197.0 970.72 34.79)"/><rect x="968.90" y="21.94" width="9.4" height="9.4" rx="2.2" fill="#b1d42b" transform="rotate(242.0 973.60 26.64)"/><circle cx="982.0" cy="34.2" r="6.3" fill="#fff"/><rect x="956.8" y="59.5" width="3.2" height="50.5" fill="#00a5e3"/><rect x="956.8" y="367" width="3.2" height="50.8" fill="#00a5e3"/><path d="M982.00 69.70 L976.00 75.90 L988.00 75.90ZM982.00 99.70 L976.00 93.50 L988.00 93.50ZM967.00 84.70 L973.20 78.70 L973.20 90.70ZM997.00 84.70 L990.80 78.70 L990.80 90.70Z" fill="#a1a6a9"/><rect x="980.15" y="75.2" width="3.7" height="19" fill="#a1a6a9"/><rect x="972.5" y="82.85000000000001" width="19" height="3.7" fill="#a1a6a9"/><path d="M967.7 120.3V150.3M967.7 149.5H996M996.2 150V141.5M970.5 121H980" stroke="#a1a6a9" stroke-width="1.6" stroke-dasharray="3.3 2.4" fill="none"/><circle cx="987.4" cy="129.4" r="7.55" stroke="#a1a6a9" stroke-width="3.5" fill="none"/><path d="M981 135L973.6 143.6" stroke="#a1a6a9" stroke-width="3.5" fill="none"/><path d="M973.6 161.2H990.2" stroke="#d3d6d7" stroke-width="1.6" stroke-linecap="round"/><path d="M973.6 213.4H990.2" stroke="#d3d6d7" stroke-width="1.6" stroke-linecap="round"/><path d="M973.6 366.3H990.2" stroke="#d3d6d7" stroke-width="1.6" stroke-linecap="round"/><rect x="968.4" y="177.5" width="10.2" height="19.8" rx="5.1" stroke="#a1a6a9" stroke-width="2.6" fill="none"/><path d="M971 185.4L973.4 183.1L975.8 185.4ZM971 187.7L973.4 190L975.8 187.7Z" fill="#a1a6a9"/><circle cx="989.3" cy="182.7" r="6.1" stroke="#a1a6a9" stroke-width="2.7" fill="none"/><path d="M986.8 189.2L983.6 197.6" stroke="#a1a6a9" stroke-width="2.7" stroke-linecap="round" fill="none"/><rect x="968.05" y="224.95" width="28" height="28.8" stroke="#a1a6a9" stroke-width="1.9" fill="none"/><path d="M973.6 225V235.2Q973.6 237 975.4 237H988.6Q990.4 237 990.4 235.2V225" stroke="#a1a6a9" stroke-width="1.6" fill="none"/><rect x="983.9" y="228.4" width="3.5" height="5.1" rx="0.8" fill="#a1a6a9"/><path d="M973.22 283.32A10.85 10.85 0 0 1 992.69 287.82M991.75 294.46A10.85 10.85 0 0 1 971.26 291.21" stroke="#a1a6a9" stroke-width="2.5" fill="none"/><path d="M987.60 287.40L996.70 287.20L992.10 291.70ZM967.20 291.80L976.00 291.40L971.60 286.30Z" fill="#a1a6a9"/><circle cx="982.0" cy="340.2" r="13.75" stroke="#a1a6a9" stroke-width="2.5" fill="none"/><path d="M977.70 336.60C977.70 332.00 987.30 331.80 987.30 336.50C987.30 339.60 982.60 340.50 982.40 343.80" stroke="#a1a6a9" stroke-width="3.4" fill="none"/><rect x="979.40" y="345.80" width="4.5" height="3.9" fill="#a1a6a9"/><path d="M973 381.8H991.2Q992.2 381.8 992.2 382.8V398.4Q992.2 399.4 991.2 399.4H988.4L982 405.2L975.6 399.4H973Q972 399.4 972 398.4V382.8Q972 381.8 973 381.8Z" stroke="#a1a6a9" stroke-width="1.6" fill="none" stroke-linejoin="round"/><path d="M974.8 386.8H989.2M974.8 390.6H989.2M974.8 394.4H989.2" stroke="#a1a6a9" stroke-width="1.7"/></svg></body></html>
